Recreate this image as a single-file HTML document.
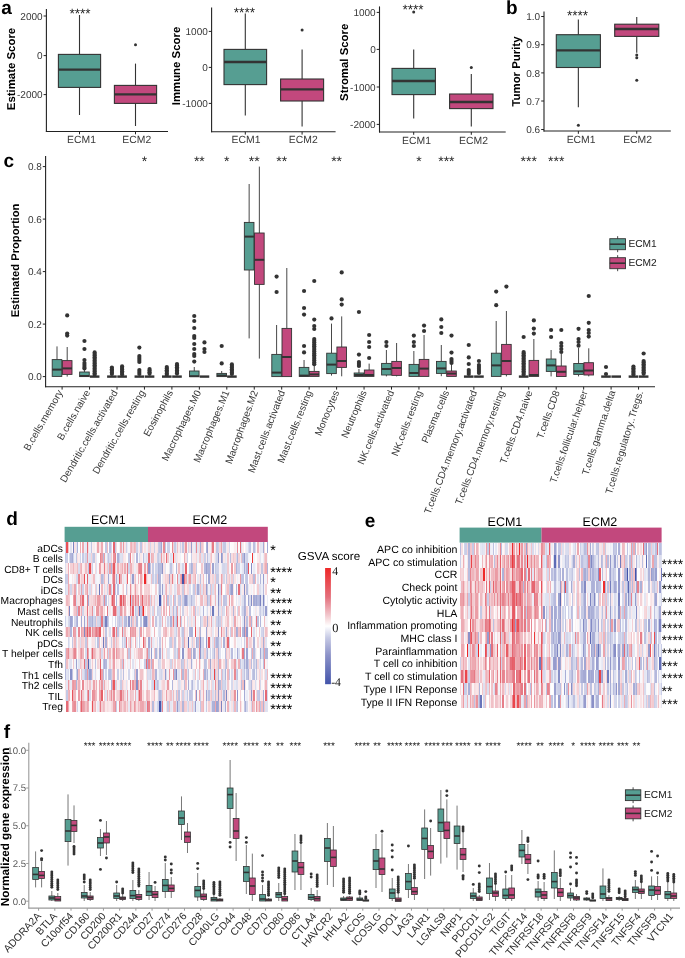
<!DOCTYPE html>
<html><head><meta charset="utf-8"><title>Figure</title>
<style>
html,body{margin:0;padding:0;background:#fff;}
body{width:685px;height:958px;overflow:hidden;font-family:"Liberation Sans", sans-serif;}
svg{display:block;position:absolute;left:0;top:0;will-change:transform;}
.hm div{position:absolute;}
</style></head><body>
<svg width="685" height="958" viewBox="0 0 685 958" text-rendering="geometricPrecision">
<rect x="0" y="0" width="685" height="958" fill="#FFFFFF"/>
<text x="1.2" y="13.8" font-size="19" text-anchor="start" fill="#000" font-weight="bold" font-family='"Liberation Sans", sans-serif'>a</text>
<text x="506" y="14" font-size="19" text-anchor="start" fill="#000" font-weight="bold" font-family='"Liberation Sans", sans-serif'>b</text>
<text x="3.6" y="167" font-size="19" text-anchor="start" fill="#000" font-weight="bold" font-family='"Liberation Sans", sans-serif'>c</text>
<text x="6.2" y="525.3" font-size="19" text-anchor="start" fill="#000" font-weight="bold" font-family='"Liberation Sans", sans-serif'>d</text>
<text x="364.8" y="526.5" font-size="19" text-anchor="start" fill="#000" font-weight="bold" font-family='"Liberation Sans", sans-serif'>e</text>
<text x="3.8" y="738" font-size="19" text-anchor="start" fill="#000" font-weight="bold" font-family='"Liberation Sans", sans-serif'>f</text>
<line x1="46.4" y1="9" x2="46.4" y2="132" stroke="#222" stroke-width="1.1"/>
<line x1="45.9" y1="131.5" x2="168" y2="131.5" stroke="#222" stroke-width="1.1"/>
<line x1="43.6" y1="16" x2="46.4" y2="16" stroke="#222" stroke-width="1"/>
<text x="42.6" y="19.6" font-size="10" text-anchor="end" fill="#383838" font-weight="normal" font-family='"Liberation Sans", sans-serif'>2000</text>
<line x1="43.6" y1="55.6" x2="46.4" y2="55.6" stroke="#222" stroke-width="1"/>
<text x="42.6" y="59.2" font-size="10" text-anchor="end" fill="#383838" font-weight="normal" font-family='"Liberation Sans", sans-serif'>0</text>
<line x1="43.6" y1="94.6" x2="46.4" y2="94.6" stroke="#222" stroke-width="1"/>
<text x="42.6" y="98.2" font-size="10" text-anchor="end" fill="#383838" font-weight="normal" font-family='"Liberation Sans", sans-serif'>-2000</text>
<text x="15.4" y="69" font-size="11.4" text-anchor="middle" fill="#000" font-weight="bold" font-family='"Liberation Sans", sans-serif' transform="rotate(-90 15.4 69)">Estimate Score</text>
<line x1="79.5" y1="15" x2="79.5" y2="54.4" stroke="#333333" stroke-width="1.1"/>
<line x1="79.5" y1="87.4" x2="79.5" y2="115" stroke="#333333" stroke-width="1.1"/>
<rect x="58.4" y="54.4" width="42.2" height="33" fill="#569E92" stroke="#333333" stroke-width="1.1"/>
<line x1="58.4" y1="69.6" x2="100.6" y2="69.6" stroke="#333333" stroke-width="2.4"/>
<line x1="79.5" y1="131.5" x2="79.5" y2="134.3" stroke="#222" stroke-width="1"/>
<line x1="135.5" y1="63.6" x2="135.5" y2="85.4" stroke="#333333" stroke-width="1.1"/>
<line x1="135.5" y1="103.4" x2="135.5" y2="126" stroke="#333333" stroke-width="1.1"/>
<rect x="114.4" y="85.4" width="42.2" height="18" fill="#C2487D" stroke="#333333" stroke-width="1.1"/>
<line x1="114.4" y1="94.4" x2="156.6" y2="94.4" stroke="#333333" stroke-width="2.4"/>
<circle cx="135.5" cy="44.8" r="1.5" fill="#333333"/>
<line x1="135.5" y1="131.5" x2="135.5" y2="134.3" stroke="#222" stroke-width="1"/>
<text x="80" y="17.6" font-size="13.6" text-anchor="middle" fill="#222" font-weight="normal" font-family='"Liberation Sans", sans-serif'>****</text>
<text x="81.5" y="143.2" font-size="10.4" text-anchor="middle" fill="#383838" font-weight="normal" font-family='"Liberation Sans", sans-serif'>ECM1</text>
<text x="136.8" y="143.2" font-size="10.4" text-anchor="middle" fill="#383838" font-weight="normal" font-family='"Liberation Sans", sans-serif'>ECM2</text>
<line x1="211.6" y1="7.6" x2="211.6" y2="132.3" stroke="#222" stroke-width="1.1"/>
<line x1="211.1" y1="131.8" x2="335.6" y2="131.8" stroke="#222" stroke-width="1.1"/>
<line x1="208.8" y1="31.4" x2="211.6" y2="31.4" stroke="#222" stroke-width="1"/>
<text x="207.8" y="35" font-size="10" text-anchor="end" fill="#383838" font-weight="normal" font-family='"Liberation Sans", sans-serif'>1000</text>
<line x1="208.8" y1="67.4" x2="211.6" y2="67.4" stroke="#222" stroke-width="1"/>
<text x="207.8" y="71" font-size="10" text-anchor="end" fill="#383838" font-weight="normal" font-family='"Liberation Sans", sans-serif'>0</text>
<line x1="208.8" y1="103.4" x2="211.6" y2="103.4" stroke="#222" stroke-width="1"/>
<text x="207.8" y="107" font-size="10" text-anchor="end" fill="#383838" font-weight="normal" font-family='"Liberation Sans", sans-serif'>-1000</text>
<text x="179.6" y="66" font-size="11.4" text-anchor="middle" fill="#000" font-weight="bold" font-family='"Liberation Sans", sans-serif' transform="rotate(-90 179.6 66)">Immune Score</text>
<line x1="245.3" y1="13.6" x2="245.3" y2="49.4" stroke="#333333" stroke-width="1.1"/>
<line x1="245.3" y1="84.6" x2="245.3" y2="115.6" stroke="#333333" stroke-width="1.1"/>
<rect x="224" y="49.4" width="42.6" height="35.2" fill="#569E92" stroke="#333333" stroke-width="1.1"/>
<line x1="224" y1="62" x2="266.6" y2="62" stroke="#333333" stroke-width="2.4"/>
<line x1="245.3" y1="131.8" x2="245.3" y2="134.6" stroke="#222" stroke-width="1"/>
<line x1="302.1" y1="49.4" x2="302.1" y2="79" stroke="#333333" stroke-width="1.1"/>
<line x1="302.1" y1="101" x2="302.1" y2="126.4" stroke="#333333" stroke-width="1.1"/>
<rect x="280.6" y="79" width="43" height="22" fill="#C2487D" stroke="#333333" stroke-width="1.1"/>
<line x1="280.6" y1="89.4" x2="323.6" y2="89.4" stroke="#333333" stroke-width="2.4"/>
<circle cx="302.1" cy="30" r="1.5" fill="#333333"/>
<line x1="302.1" y1="131.8" x2="302.1" y2="134.6" stroke="#222" stroke-width="1"/>
<text x="244.4" y="16.6" font-size="13.6" text-anchor="middle" fill="#222" font-weight="normal" font-family='"Liberation Sans", sans-serif'>****</text>
<text x="246" y="143.2" font-size="10.4" text-anchor="middle" fill="#383838" font-weight="normal" font-family='"Liberation Sans", sans-serif'>ECM1</text>
<text x="303.3" y="143.2" font-size="10.4" text-anchor="middle" fill="#383838" font-weight="normal" font-family='"Liberation Sans", sans-serif'>ECM2</text>
<line x1="379.5" y1="6.4" x2="379.5" y2="132.5" stroke="#222" stroke-width="1.1"/>
<line x1="379" y1="132" x2="505.7" y2="132" stroke="#222" stroke-width="1.1"/>
<line x1="376.7" y1="12.4" x2="379.5" y2="12.4" stroke="#222" stroke-width="1"/>
<text x="375.7" y="16" font-size="10" text-anchor="end" fill="#383838" font-weight="normal" font-family='"Liberation Sans", sans-serif'>1000</text>
<line x1="376.7" y1="49.4" x2="379.5" y2="49.4" stroke="#222" stroke-width="1"/>
<text x="375.7" y="53" font-size="10" text-anchor="end" fill="#383838" font-weight="normal" font-family='"Liberation Sans", sans-serif'>0</text>
<line x1="376.7" y1="87" x2="379.5" y2="87" stroke="#222" stroke-width="1"/>
<text x="375.7" y="90.6" font-size="10" text-anchor="end" fill="#383838" font-weight="normal" font-family='"Liberation Sans", sans-serif'>-1000</text>
<line x1="376.7" y1="124.4" x2="379.5" y2="124.4" stroke="#222" stroke-width="1"/>
<text x="375.7" y="128" font-size="10" text-anchor="end" fill="#383838" font-weight="normal" font-family='"Liberation Sans", sans-serif'>-2000</text>
<text x="347.8" y="62.3" font-size="11.4" text-anchor="middle" fill="#000" font-weight="bold" font-family='"Liberation Sans", sans-serif' transform="rotate(-90 347.8 62.3)">Stromal Score</text>
<line x1="413.7" y1="49.6" x2="413.7" y2="68.4" stroke="#333333" stroke-width="1.1"/>
<line x1="413.7" y1="94.6" x2="413.7" y2="118.6" stroke="#333333" stroke-width="1.1"/>
<rect x="392" y="68.4" width="43.4" height="26.2" fill="#569E92" stroke="#333333" stroke-width="1.1"/>
<line x1="392" y1="81" x2="435.4" y2="81" stroke="#333333" stroke-width="2.4"/>
<circle cx="413.7" cy="12" r="1.5" fill="#333333"/>
<line x1="413.7" y1="132" x2="413.7" y2="134.8" stroke="#222" stroke-width="1"/>
<line x1="471.3" y1="74" x2="471.3" y2="94" stroke="#333333" stroke-width="1.1"/>
<line x1="471.3" y1="108.6" x2="471.3" y2="126.4" stroke="#333333" stroke-width="1.1"/>
<rect x="449.6" y="94" width="43.4" height="14.6" fill="#C2487D" stroke="#333333" stroke-width="1.1"/>
<line x1="449.6" y1="102" x2="493" y2="102" stroke="#333333" stroke-width="2.4"/>
<circle cx="471.3" cy="67.6" r="1.5" fill="#333333"/>
<line x1="471.3" y1="132" x2="471.3" y2="134.8" stroke="#222" stroke-width="1"/>
<text x="413" y="13.6" font-size="13.6" text-anchor="middle" fill="#222" font-weight="normal" font-family='"Liberation Sans", sans-serif'>****</text>
<text x="416.5" y="143.6" font-size="10.4" text-anchor="middle" fill="#383838" font-weight="normal" font-family='"Liberation Sans", sans-serif'>ECM1</text>
<text x="473.5" y="143.6" font-size="10.4" text-anchor="middle" fill="#383838" font-weight="normal" font-family='"Liberation Sans", sans-serif'>ECM2</text>
<line x1="544" y1="11.4" x2="544" y2="131.5" stroke="#222" stroke-width="1.1"/>
<line x1="543.5" y1="131" x2="670.8" y2="131" stroke="#222" stroke-width="1.1"/>
<line x1="541.2" y1="16.5" x2="544" y2="16.5" stroke="#222" stroke-width="1"/>
<text x="540.2" y="20.1" font-size="10" text-anchor="end" fill="#383838" font-weight="normal" font-family='"Liberation Sans", sans-serif'>1.0</text>
<line x1="541.2" y1="44.7" x2="544" y2="44.7" stroke="#222" stroke-width="1"/>
<text x="540.2" y="48.3" font-size="10" text-anchor="end" fill="#383838" font-weight="normal" font-family='"Liberation Sans", sans-serif'>0.9</text>
<line x1="541.2" y1="72.9" x2="544" y2="72.9" stroke="#222" stroke-width="1"/>
<text x="540.2" y="76.5" font-size="10" text-anchor="end" fill="#383838" font-weight="normal" font-family='"Liberation Sans", sans-serif'>0.8</text>
<line x1="541.2" y1="101" x2="544" y2="101" stroke="#222" stroke-width="1"/>
<text x="540.2" y="104.6" font-size="10" text-anchor="end" fill="#383838" font-weight="normal" font-family='"Liberation Sans", sans-serif'>0.7</text>
<line x1="541.2" y1="129.5" x2="544" y2="129.5" stroke="#222" stroke-width="1"/>
<text x="540.2" y="133.1" font-size="10" text-anchor="end" fill="#383838" font-weight="normal" font-family='"Liberation Sans", sans-serif'>0.6</text>
<text x="520" y="71.5" font-size="11.4" text-anchor="middle" fill="#000" font-weight="bold" font-family='"Liberation Sans", sans-serif' transform="rotate(-90 520 71.5)">Tumor Purity</text>
<line x1="578.35" y1="19.4" x2="578.35" y2="34.7" stroke="#333333" stroke-width="1.1"/>
<line x1="578.35" y1="67.5" x2="578.35" y2="107.3" stroke="#333333" stroke-width="1.1"/>
<rect x="556.3" y="34.7" width="44.1" height="32.8" fill="#569E92" stroke="#333333" stroke-width="1.1"/>
<line x1="556.3" y1="50.4" x2="600.4" y2="50.4" stroke="#333333" stroke-width="2.4"/>
<circle cx="578.35" cy="125.3" r="1.5" fill="#333333"/>
<line x1="578.35" y1="131" x2="578.35" y2="133.8" stroke="#222" stroke-width="1"/>
<line x1="636.75" y1="17.1" x2="636.75" y2="24.2" stroke="#333333" stroke-width="1.1"/>
<line x1="636.75" y1="36.4" x2="636.75" y2="52.7" stroke="#333333" stroke-width="1.1"/>
<rect x="614.7" y="24.2" width="44.1" height="12.2" fill="#C2487D" stroke="#333333" stroke-width="1.1"/>
<line x1="614.7" y1="29" x2="658.8" y2="29" stroke="#333333" stroke-width="2.4"/>
<circle cx="636.75" cy="55" r="1.5" fill="#333333"/>
<circle cx="636.75" cy="57.8" r="1.5" fill="#333333"/>
<circle cx="636.75" cy="80.3" r="1.5" fill="#333333"/>
<line x1="636.75" y1="131" x2="636.75" y2="133.8" stroke="#222" stroke-width="1"/>
<text x="577.5" y="19.9" font-size="13.6" text-anchor="middle" fill="#222" font-weight="normal" font-family='"Liberation Sans", sans-serif'>****</text>
<text x="581.1" y="143.4" font-size="10.4" text-anchor="middle" fill="#383838" font-weight="normal" font-family='"Liberation Sans", sans-serif'>ECM1</text>
<text x="637.6" y="143.4" font-size="10.4" text-anchor="middle" fill="#383838" font-weight="normal" font-family='"Liberation Sans", sans-serif'>ECM2</text>
<line x1="45.6" y1="156" x2="45.6" y2="387.3" stroke="#222" stroke-width="1.1"/>
<line x1="45.1" y1="386.8" x2="655" y2="386.8" stroke="#222" stroke-width="1.1"/>
<line x1="42.8" y1="376.6" x2="45.6" y2="376.6" stroke="#222" stroke-width="1"/>
<text x="41.8" y="380.2" font-size="10" text-anchor="end" fill="#383838" font-weight="normal" font-family='"Liberation Sans", sans-serif'>0.0</text>
<line x1="42.8" y1="324.1" x2="45.6" y2="324.1" stroke="#222" stroke-width="1"/>
<text x="41.8" y="327.7" font-size="10" text-anchor="end" fill="#383838" font-weight="normal" font-family='"Liberation Sans", sans-serif'>0.2</text>
<line x1="42.8" y1="271.6" x2="45.6" y2="271.6" stroke="#222" stroke-width="1"/>
<text x="41.8" y="275.2" font-size="10" text-anchor="end" fill="#383838" font-weight="normal" font-family='"Liberation Sans", sans-serif'>0.4</text>
<line x1="42.8" y1="219.1" x2="45.6" y2="219.1" stroke="#222" stroke-width="1"/>
<text x="41.8" y="222.7" font-size="10" text-anchor="end" fill="#383838" font-weight="normal" font-family='"Liberation Sans", sans-serif'>0.6</text>
<line x1="42.8" y1="166.6" x2="45.6" y2="166.6" stroke="#222" stroke-width="1"/>
<text x="41.8" y="170.2" font-size="10" text-anchor="end" fill="#383838" font-weight="normal" font-family='"Liberation Sans", sans-serif'>0.8</text>
<text x="18.8" y="260.5" font-size="11.2" text-anchor="middle" fill="#000" font-weight="bold" font-family='"Liberation Sans", sans-serif' transform="rotate(-90 18.8 260.5)">Estimated Proportion</text>
<line x1="57" y1="346.4" x2="57" y2="359.6" stroke="#333333" stroke-width="0.9"/>
<line x1="57" y1="376.4" x2="57" y2="376.6" stroke="#333333" stroke-width="0.9"/>
<rect x="52.2" y="359.6" width="9.6" height="16.8" fill="#569E92" stroke="#333333" stroke-width="0.9"/>
<line x1="52.2" y1="369.6" x2="61.8" y2="369.6" stroke="#333333" stroke-width="2"/>
<line x1="67.2" y1="347" x2="67.2" y2="360.6" stroke="#333333" stroke-width="0.9"/>
<line x1="67.2" y1="374.4" x2="67.2" y2="376.6" stroke="#333333" stroke-width="0.9"/>
<rect x="62.4" y="360.6" width="9.6" height="13.8" fill="#C2487D" stroke="#333333" stroke-width="0.9"/>
<line x1="62.4" y1="368.4" x2="72" y2="368.4" stroke="#333333" stroke-width="2"/>
<circle cx="67.2" cy="315.4" r="2.1" fill="#333333"/>
<circle cx="67.2" cy="333.6" r="2.1" fill="#333333"/>
<circle cx="67.2" cy="335.6" r="2.1" fill="#333333"/>
<line x1="62.1" y1="386.8" x2="62.1" y2="389.6" stroke="#222" stroke-width="1"/>
<text x="63.1" y="392.4" font-size="10" text-anchor="end" fill="#383838" font-weight="normal" font-family='"Liberation Sans", sans-serif' transform="rotate(-60 63.1 392.4)">B.cells.memory</text>
<line x1="84.45" y1="370" x2="84.45" y2="372" stroke="#333333" stroke-width="0.9"/>
<rect x="79.65" y="372" width="9.6" height="4.6" fill="#569E92" stroke="#333333" stroke-width="0.9"/>
<line x1="79.65" y1="376" x2="89.25" y2="376" stroke="#333333" stroke-width="2"/>
<circle cx="84.45" cy="341" r="2.1" fill="#333333"/>
<circle cx="84.45" cy="349" r="2.1" fill="#333333"/>
<circle cx="84.45" cy="360" r="2.1" fill="#333333"/>
<circle cx="84.45" cy="363" r="2.1" fill="#333333"/>
<circle cx="84.45" cy="365" r="2.1" fill="#333333"/>
<circle cx="84.45" cy="367" r="2.1" fill="#333333"/>
<circle cx="84.45" cy="368.5" r="2.1" fill="#333333"/>
<rect x="89.85" y="375.4" width="9.6" height="2.4" fill="#333333"/>
<circle cx="94.65" cy="352.4" r="2.1" fill="#333333"/>
<circle cx="94.65" cy="354" r="2.1" fill="#333333"/>
<circle cx="94.65" cy="355.6" r="2.1" fill="#333333"/>
<circle cx="94.65" cy="357.2" r="2.1" fill="#333333"/>
<circle cx="94.65" cy="358.8" r="2.1" fill="#333333"/>
<circle cx="94.65" cy="360.4" r="2.1" fill="#333333"/>
<circle cx="94.65" cy="362" r="2.1" fill="#333333"/>
<circle cx="94.65" cy="363.6" r="2.1" fill="#333333"/>
<circle cx="94.65" cy="365.2" r="2.1" fill="#333333"/>
<circle cx="94.65" cy="366.8" r="2.1" fill="#333333"/>
<circle cx="94.65" cy="368.4" r="2.1" fill="#333333"/>
<circle cx="94.65" cy="370" r="2.1" fill="#333333"/>
<circle cx="94.65" cy="371.6" r="2.1" fill="#333333"/>
<circle cx="94.65" cy="373.2" r="2.1" fill="#333333"/>
<circle cx="94.65" cy="374.8" r="2.1" fill="#333333"/>
<line x1="89.55" y1="386.8" x2="89.55" y2="389.6" stroke="#222" stroke-width="1"/>
<text x="90.55" y="392.4" font-size="10" text-anchor="end" fill="#383838" font-weight="normal" font-family='"Liberation Sans", sans-serif' transform="rotate(-60 90.55 392.4)">B.cells.naive</text>
<rect x="107.1" y="375.4" width="9.6" height="2.4" fill="#333333"/>
<circle cx="111.9" cy="367.6" r="2.1" fill="#333333"/>
<circle cx="111.9" cy="369.2" r="2.1" fill="#333333"/>
<circle cx="111.9" cy="370.8" r="2.1" fill="#333333"/>
<circle cx="111.9" cy="372.4" r="2.1" fill="#333333"/>
<circle cx="111.9" cy="374" r="2.1" fill="#333333"/>
<rect x="117.3" y="375.4" width="9.6" height="2.4" fill="#333333"/>
<circle cx="122.1" cy="366.4" r="2.1" fill="#333333"/>
<circle cx="122.1" cy="368" r="2.1" fill="#333333"/>
<circle cx="122.1" cy="369.6" r="2.1" fill="#333333"/>
<circle cx="122.1" cy="371.2" r="2.1" fill="#333333"/>
<circle cx="122.1" cy="372.8" r="2.1" fill="#333333"/>
<circle cx="122.1" cy="374.4" r="2.1" fill="#333333"/>
<line x1="117" y1="386.8" x2="117" y2="389.6" stroke="#222" stroke-width="1"/>
<text x="118" y="392.4" font-size="10" text-anchor="end" fill="#383838" font-weight="normal" font-family='"Liberation Sans", sans-serif' transform="rotate(-60 118 392.4)">Dendritic.cells.activated</text>
<rect x="134.55" y="375.4" width="9.6" height="2.4" fill="#333333"/>
<circle cx="139.35" cy="347.6" r="2.1" fill="#333333"/>
<circle cx="139.35" cy="356" r="2.1" fill="#333333"/>
<circle cx="139.35" cy="358" r="2.1" fill="#333333"/>
<circle cx="139.35" cy="360" r="2.1" fill="#333333"/>
<circle cx="139.35" cy="362" r="2.1" fill="#333333"/>
<circle cx="139.35" cy="370" r="2.1" fill="#333333"/>
<circle cx="139.35" cy="372" r="2.1" fill="#333333"/>
<circle cx="139.35" cy="374" r="2.1" fill="#333333"/>
<rect x="144.75" y="375.4" width="9.6" height="2.4" fill="#333333"/>
<circle cx="149.55" cy="369" r="2.1" fill="#333333"/>
<circle cx="149.55" cy="370.6" r="2.1" fill="#333333"/>
<circle cx="149.55" cy="372.2" r="2.1" fill="#333333"/>
<circle cx="149.55" cy="373.8" r="2.1" fill="#333333"/>
<line x1="144.45" y1="386.8" x2="144.45" y2="389.6" stroke="#222" stroke-width="1"/>
<text x="145.45" y="392.4" font-size="10" text-anchor="end" fill="#383838" font-weight="normal" font-family='"Liberation Sans", sans-serif' transform="rotate(-60 145.45 392.4)">Dendritic.cells.resting</text>
<rect x="162" y="375.4" width="9.6" height="2.4" fill="#333333"/>
<circle cx="166.8" cy="367" r="2.1" fill="#333333"/>
<circle cx="166.8" cy="368.6" r="2.1" fill="#333333"/>
<circle cx="166.8" cy="370.2" r="2.1" fill="#333333"/>
<circle cx="166.8" cy="371.8" r="2.1" fill="#333333"/>
<circle cx="166.8" cy="373.4" r="2.1" fill="#333333"/>
<circle cx="166.8" cy="375" r="2.1" fill="#333333"/>
<rect x="172.2" y="375.4" width="9.6" height="2.4" fill="#333333"/>
<circle cx="177" cy="364" r="2.1" fill="#333333"/>
<circle cx="177" cy="365.6" r="2.1" fill="#333333"/>
<circle cx="177" cy="367.2" r="2.1" fill="#333333"/>
<circle cx="177" cy="368.8" r="2.1" fill="#333333"/>
<circle cx="177" cy="370.4" r="2.1" fill="#333333"/>
<circle cx="177" cy="372" r="2.1" fill="#333333"/>
<circle cx="177" cy="373.6" r="2.1" fill="#333333"/>
<line x1="171.9" y1="386.8" x2="171.9" y2="389.6" stroke="#222" stroke-width="1"/>
<text x="173.32" y="392.33" font-size="10" text-anchor="end" fill="#383838" font-weight="normal" font-family='"Liberation Sans", sans-serif' transform="rotate(-61.5 173.32 392.33)">Eosinophils</text>
<line x1="194.25" y1="367" x2="194.25" y2="371" stroke="#333333" stroke-width="0.9"/>
<rect x="189.45" y="371" width="9.6" height="5.6" fill="#569E92" stroke="#333333" stroke-width="0.9"/>
<line x1="189.45" y1="376.2" x2="199.05" y2="376.2" stroke="#333333" stroke-width="2"/>
<circle cx="194.25" cy="316" r="2.1" fill="#333333"/>
<circle cx="194.25" cy="321" r="2.1" fill="#333333"/>
<circle cx="194.25" cy="328" r="2.1" fill="#333333"/>
<circle cx="194.25" cy="336" r="2.1" fill="#333333"/>
<circle cx="194.25" cy="338" r="2.1" fill="#333333"/>
<circle cx="194.25" cy="344" r="2.1" fill="#333333"/>
<circle cx="194.25" cy="349" r="2.1" fill="#333333"/>
<circle cx="194.25" cy="354" r="2.1" fill="#333333"/>
<circle cx="194.25" cy="356" r="2.1" fill="#333333"/>
<circle cx="194.25" cy="361.6" r="2.1" fill="#333333"/>
<rect x="199.65" y="375.4" width="9.6" height="2.4" fill="#333333"/>
<circle cx="204.45" cy="342.4" r="2.1" fill="#333333"/>
<circle cx="204.45" cy="349" r="2.1" fill="#333333"/>
<circle cx="204.45" cy="352" r="2.1" fill="#333333"/>
<line x1="199.35" y1="386.8" x2="199.35" y2="389.6" stroke="#222" stroke-width="1"/>
<text x="201.47" y="392.2" font-size="10" text-anchor="end" fill="#383838" font-weight="normal" font-family='"Liberation Sans", sans-serif' transform="rotate(-64 201.47 392.2)">Macrophages.M0</text>
<line x1="221.7" y1="371" x2="221.7" y2="373.4" stroke="#333333" stroke-width="0.9"/>
<rect x="216.9" y="373.4" width="9.6" height="3.2" fill="#569E92" stroke="#333333" stroke-width="0.9"/>
<line x1="216.9" y1="375.5" x2="226.5" y2="375.5" stroke="#333333" stroke-width="2"/>
<circle cx="221.7" cy="346" r="2.1" fill="#333333"/>
<circle cx="221.7" cy="363.4" r="2.1" fill="#333333"/>
<rect x="227.1" y="375.4" width="9.6" height="2.4" fill="#333333"/>
<circle cx="231.9" cy="364.4" r="2.1" fill="#333333"/>
<circle cx="231.9" cy="366" r="2.1" fill="#333333"/>
<circle cx="231.9" cy="367.6" r="2.1" fill="#333333"/>
<circle cx="231.9" cy="369.2" r="2.1" fill="#333333"/>
<circle cx="231.9" cy="370.8" r="2.1" fill="#333333"/>
<circle cx="231.9" cy="372.4" r="2.1" fill="#333333"/>
<circle cx="231.9" cy="374" r="2.1" fill="#333333"/>
<line x1="226.8" y1="386.8" x2="226.8" y2="389.6" stroke="#222" stroke-width="1"/>
<text x="229.76" y="392.05" font-size="10" text-anchor="end" fill="#383838" font-weight="normal" font-family='"Liberation Sans", sans-serif' transform="rotate(-67 229.76 392.05)">Macrophages.M1</text>
<line x1="249.15" y1="184" x2="249.15" y2="222.4" stroke="#333333" stroke-width="0.9"/>
<line x1="249.15" y1="270" x2="249.15" y2="338.4" stroke="#333333" stroke-width="0.9"/>
<rect x="244.35" y="222.4" width="9.6" height="47.6" fill="#569E92" stroke="#333333" stroke-width="0.9"/>
<line x1="244.35" y1="236.6" x2="253.95" y2="236.6" stroke="#333333" stroke-width="2"/>
<line x1="259.35" y1="166.6" x2="259.35" y2="233" stroke="#333333" stroke-width="0.9"/>
<line x1="259.35" y1="284.4" x2="259.35" y2="358.6" stroke="#333333" stroke-width="0.9"/>
<rect x="254.55" y="233" width="9.6" height="51.4" fill="#C2487D" stroke="#333333" stroke-width="0.9"/>
<line x1="254.55" y1="259.8" x2="264.15" y2="259.8" stroke="#333333" stroke-width="2"/>
<line x1="254.25" y1="386.8" x2="254.25" y2="389.6" stroke="#222" stroke-width="1"/>
<text x="258.05" y="391.9" font-size="10" text-anchor="end" fill="#383838" font-weight="normal" font-family='"Liberation Sans", sans-serif' transform="rotate(-70 258.05 391.9)">Macrophages.M2</text>
<line x1="276.6" y1="325" x2="276.6" y2="354.4" stroke="#333333" stroke-width="0.9"/>
<rect x="271.8" y="354.4" width="9.6" height="22.2" fill="#569E92" stroke="#333333" stroke-width="0.9"/>
<line x1="271.8" y1="372.6" x2="281.4" y2="372.6" stroke="#333333" stroke-width="2"/>
<circle cx="276.6" cy="276.6" r="2.1" fill="#333333"/>
<circle cx="276.6" cy="292" r="2.1" fill="#333333"/>
<line x1="286.8" y1="268" x2="286.8" y2="328.4" stroke="#333333" stroke-width="0.9"/>
<rect x="282" y="328.4" width="9.6" height="48.2" fill="#C2487D" stroke="#333333" stroke-width="0.9"/>
<line x1="282" y1="357" x2="291.6" y2="357" stroke="#333333" stroke-width="2"/>
<line x1="281.7" y1="386.8" x2="281.7" y2="389.6" stroke="#222" stroke-width="1"/>
<text x="285.22" y="391.95" font-size="10" text-anchor="end" fill="#383838" font-weight="normal" font-family='"Liberation Sans", sans-serif' transform="rotate(-69 285.22 391.95)">Mast.cells.activated</text>
<line x1="304.05" y1="360" x2="304.05" y2="367.4" stroke="#333333" stroke-width="0.9"/>
<rect x="299.25" y="367.4" width="9.6" height="9" fill="#569E92" stroke="#333333" stroke-width="0.9"/>
<line x1="299.25" y1="375.6" x2="308.85" y2="375.6" stroke="#333333" stroke-width="2"/>
<circle cx="304.05" cy="291" r="2.1" fill="#333333"/>
<circle cx="304.05" cy="308" r="2.1" fill="#333333"/>
<circle cx="304.05" cy="314.6" r="2.1" fill="#333333"/>
<circle cx="304.05" cy="346" r="2.1" fill="#333333"/>
<circle cx="304.05" cy="352.4" r="2.1" fill="#333333"/>
<line x1="314.25" y1="366" x2="314.25" y2="371.4" stroke="#333333" stroke-width="0.9"/>
<rect x="309.45" y="371.4" width="9.6" height="5" fill="#C2487D" stroke="#333333" stroke-width="0.9"/>
<line x1="309.45" y1="374.4" x2="319.05" y2="374.4" stroke="#333333" stroke-width="2"/>
<circle cx="314.25" cy="281" r="2.1" fill="#333333"/>
<circle cx="314.25" cy="319.6" r="2.1" fill="#333333"/>
<circle cx="314.25" cy="326" r="2.1" fill="#333333"/>
<circle cx="314.25" cy="329" r="2.1" fill="#333333"/>
<circle cx="314.25" cy="339" r="2.1" fill="#333333"/>
<circle cx="314.25" cy="340.8" r="2.1" fill="#333333"/>
<circle cx="314.25" cy="342.6" r="2.1" fill="#333333"/>
<circle cx="314.25" cy="344.4" r="2.1" fill="#333333"/>
<circle cx="314.25" cy="346.2" r="2.1" fill="#333333"/>
<circle cx="314.25" cy="348" r="2.1" fill="#333333"/>
<circle cx="314.25" cy="349.8" r="2.1" fill="#333333"/>
<circle cx="314.25" cy="351.6" r="2.1" fill="#333333"/>
<circle cx="314.25" cy="353.4" r="2.1" fill="#333333"/>
<circle cx="314.25" cy="355.2" r="2.1" fill="#333333"/>
<circle cx="314.25" cy="357" r="2.1" fill="#333333"/>
<circle cx="314.25" cy="358.8" r="2.1" fill="#333333"/>
<circle cx="314.25" cy="360.6" r="2.1" fill="#333333"/>
<circle cx="314.25" cy="362.4" r="2.1" fill="#333333"/>
<circle cx="314.25" cy="364.2" r="2.1" fill="#333333"/>
<line x1="309.15" y1="386.8" x2="309.15" y2="389.6" stroke="#222" stroke-width="1"/>
<text x="312.39" y="392" font-size="10" text-anchor="end" fill="#383838" font-weight="normal" font-family='"Liberation Sans", sans-serif' transform="rotate(-68 312.39 392)">Mast.cells.resting</text>
<line x1="331.5" y1="323.6" x2="331.5" y2="353.2" stroke="#333333" stroke-width="0.9"/>
<line x1="331.5" y1="373.6" x2="331.5" y2="375.6" stroke="#333333" stroke-width="0.9"/>
<rect x="326.7" y="353.2" width="9.6" height="20.4" fill="#569E92" stroke="#333333" stroke-width="0.9"/>
<line x1="326.7" y1="364.6" x2="336.3" y2="364.6" stroke="#333333" stroke-width="2"/>
<circle cx="331.5" cy="318.4" r="2.1" fill="#333333"/>
<line x1="341.7" y1="316.4" x2="341.7" y2="347" stroke="#333333" stroke-width="0.9"/>
<line x1="341.7" y1="367.4" x2="341.7" y2="376.3" stroke="#333333" stroke-width="0.9"/>
<rect x="336.9" y="347" width="9.6" height="20.4" fill="#C2487D" stroke="#333333" stroke-width="0.9"/>
<line x1="336.9" y1="361" x2="346.5" y2="361" stroke="#333333" stroke-width="2"/>
<circle cx="341.7" cy="272.4" r="2.1" fill="#333333"/>
<circle cx="341.7" cy="299.4" r="2.1" fill="#333333"/>
<circle cx="341.7" cy="304.6" r="2.1" fill="#333333"/>
<line x1="336.6" y1="386.8" x2="336.6" y2="389.6" stroke="#222" stroke-width="1"/>
<text x="339.56" y="392.05" font-size="10" text-anchor="end" fill="#383838" font-weight="normal" font-family='"Liberation Sans", sans-serif' transform="rotate(-67 339.56 392.05)">Monocytes</text>
<line x1="358.95" y1="369" x2="358.95" y2="373" stroke="#333333" stroke-width="0.9"/>
<rect x="354.15" y="373" width="9.6" height="3.4" fill="#569E92" stroke="#333333" stroke-width="0.9"/>
<line x1="354.15" y1="375" x2="363.75" y2="375" stroke="#333333" stroke-width="2"/>
<circle cx="358.95" cy="312" r="2.1" fill="#333333"/>
<circle cx="358.95" cy="354.6" r="2.1" fill="#333333"/>
<circle cx="358.95" cy="362" r="2.1" fill="#333333"/>
<circle cx="358.95" cy="364" r="2.1" fill="#333333"/>
<circle cx="358.95" cy="366" r="2.1" fill="#333333"/>
<line x1="369.15" y1="363.6" x2="369.15" y2="370" stroke="#333333" stroke-width="0.9"/>
<rect x="364.35" y="370" width="9.6" height="6.4" fill="#C2487D" stroke="#333333" stroke-width="0.9"/>
<line x1="364.35" y1="375" x2="373.95" y2="375" stroke="#333333" stroke-width="2"/>
<circle cx="369.15" cy="335" r="2.1" fill="#333333"/>
<circle cx="369.15" cy="342" r="2.1" fill="#333333"/>
<circle cx="369.15" cy="347" r="2.1" fill="#333333"/>
<circle cx="369.15" cy="358" r="2.1" fill="#333333"/>
<line x1="364.05" y1="386.8" x2="364.05" y2="389.6" stroke="#222" stroke-width="1"/>
<text x="367.01" y="392.05" font-size="10" text-anchor="end" fill="#383838" font-weight="normal" font-family='"Liberation Sans", sans-serif' transform="rotate(-67 367.01 392.05)">Neutrophils</text>
<line x1="386.4" y1="350" x2="386.4" y2="363.4" stroke="#333333" stroke-width="0.9"/>
<line x1="386.4" y1="375" x2="386.4" y2="376.4" stroke="#333333" stroke-width="0.9"/>
<rect x="381.6" y="363.4" width="9.6" height="11.6" fill="#569E92" stroke="#333333" stroke-width="0.9"/>
<line x1="381.6" y1="369" x2="391.2" y2="369" stroke="#333333" stroke-width="2"/>
<circle cx="386.4" cy="342" r="2.1" fill="#333333"/>
<circle cx="386.4" cy="346" r="2.1" fill="#333333"/>
<line x1="396.6" y1="343" x2="396.6" y2="361.4" stroke="#333333" stroke-width="0.9"/>
<line x1="396.6" y1="375.4" x2="396.6" y2="376.4" stroke="#333333" stroke-width="0.9"/>
<rect x="391.8" y="361.4" width="9.6" height="14" fill="#C2487D" stroke="#333333" stroke-width="0.9"/>
<line x1="391.8" y1="368" x2="401.4" y2="368" stroke="#333333" stroke-width="2"/>
<line x1="391.5" y1="386.8" x2="391.5" y2="389.6" stroke="#222" stroke-width="1"/>
<text x="394.46" y="392.05" font-size="10" text-anchor="end" fill="#383838" font-weight="normal" font-family='"Liberation Sans", sans-serif' transform="rotate(-67 394.46 392.05)">NK.cells.activated</text>
<line x1="413.85" y1="351" x2="413.85" y2="364.4" stroke="#333333" stroke-width="0.9"/>
<rect x="409.05" y="364.4" width="9.6" height="12" fill="#569E92" stroke="#333333" stroke-width="0.9"/>
<line x1="409.05" y1="373" x2="418.65" y2="373" stroke="#333333" stroke-width="2"/>
<circle cx="413.85" cy="335.6" r="2.1" fill="#333333"/>
<circle cx="413.85" cy="342" r="2.1" fill="#333333"/>
<circle cx="413.85" cy="346" r="2.1" fill="#333333"/>
<line x1="424.05" y1="335" x2="424.05" y2="359.4" stroke="#333333" stroke-width="0.9"/>
<rect x="419.25" y="359.4" width="9.6" height="17" fill="#C2487D" stroke="#333333" stroke-width="0.9"/>
<line x1="419.25" y1="368.6" x2="428.85" y2="368.6" stroke="#333333" stroke-width="2"/>
<circle cx="424.05" cy="325.6" r="2.1" fill="#333333"/>
<circle cx="424.05" cy="331" r="2.1" fill="#333333"/>
<line x1="418.95" y1="386.8" x2="418.95" y2="389.6" stroke="#222" stroke-width="1"/>
<text x="422.47" y="391.95" font-size="10" text-anchor="end" fill="#383838" font-weight="normal" font-family='"Liberation Sans", sans-serif' transform="rotate(-69 422.47 391.95)">NK.cells.resting</text>
<line x1="441.3" y1="345" x2="441.3" y2="361.4" stroke="#333333" stroke-width="0.9"/>
<line x1="441.3" y1="373.4" x2="441.3" y2="376.2" stroke="#333333" stroke-width="0.9"/>
<rect x="436.5" y="361.4" width="9.6" height="12" fill="#569E92" stroke="#333333" stroke-width="0.9"/>
<line x1="436.5" y1="368.4" x2="446.1" y2="368.4" stroke="#333333" stroke-width="2"/>
<circle cx="441.3" cy="319.4" r="2.1" fill="#333333"/>
<circle cx="441.3" cy="327" r="2.1" fill="#333333"/>
<circle cx="441.3" cy="333" r="2.1" fill="#333333"/>
<line x1="451.5" y1="364" x2="451.5" y2="371" stroke="#333333" stroke-width="0.9"/>
<rect x="446.7" y="371" width="9.6" height="5.4" fill="#C2487D" stroke="#333333" stroke-width="0.9"/>
<line x1="446.7" y1="373.6" x2="456.3" y2="373.6" stroke="#333333" stroke-width="2"/>
<circle cx="451.5" cy="335.6" r="2.1" fill="#333333"/>
<circle cx="451.5" cy="352.6" r="2.1" fill="#333333"/>
<circle cx="451.5" cy="359" r="2.1" fill="#333333"/>
<circle cx="451.5" cy="361" r="2.1" fill="#333333"/>
<circle cx="451.5" cy="363" r="2.1" fill="#333333"/>
<line x1="446.4" y1="386.8" x2="446.4" y2="389.6" stroke="#222" stroke-width="1"/>
<text x="449.36" y="392.05" font-size="10" text-anchor="end" fill="#383838" font-weight="normal" font-family='"Liberation Sans", sans-serif' transform="rotate(-67 449.36 392.05)">Plasma.cells</text>
<rect x="463.95" y="375.4" width="9.6" height="2.4" fill="#333333"/>
<circle cx="468.75" cy="345" r="2.1" fill="#333333"/>
<circle cx="468.75" cy="357.4" r="2.1" fill="#333333"/>
<circle cx="468.75" cy="364" r="2.1" fill="#333333"/>
<circle cx="468.75" cy="370" r="2.1" fill="#333333"/>
<circle cx="468.75" cy="372" r="2.1" fill="#333333"/>
<circle cx="468.75" cy="374" r="2.1" fill="#333333"/>
<rect x="474.15" y="375.4" width="9.6" height="2.4" fill="#333333"/>
<circle cx="478.95" cy="361" r="2.1" fill="#333333"/>
<circle cx="478.95" cy="365" r="2.1" fill="#333333"/>
<circle cx="478.95" cy="367" r="2.1" fill="#333333"/>
<circle cx="478.95" cy="369" r="2.1" fill="#333333"/>
<circle cx="478.95" cy="371" r="2.1" fill="#333333"/>
<circle cx="478.95" cy="373" r="2.1" fill="#333333"/>
<line x1="473.85" y1="386.8" x2="473.85" y2="389.6" stroke="#222" stroke-width="1"/>
<text x="477.37" y="391.95" font-size="10" text-anchor="end" fill="#383838" font-weight="normal" font-family='"Liberation Sans", sans-serif' transform="rotate(-69 477.37 391.95)">T.cells.CD4.memory.activated</text>
<line x1="496.2" y1="321" x2="496.2" y2="353.2" stroke="#333333" stroke-width="0.9"/>
<rect x="491.4" y="353.2" width="9.6" height="23.2" fill="#569E92" stroke="#333333" stroke-width="0.9"/>
<line x1="491.4" y1="365.4" x2="501" y2="365.4" stroke="#333333" stroke-width="2"/>
<circle cx="496.2" cy="291.6" r="2.1" fill="#333333"/>
<circle cx="496.2" cy="305.2" r="2.1" fill="#333333"/>
<line x1="506.4" y1="311" x2="506.4" y2="344.4" stroke="#333333" stroke-width="0.9"/>
<line x1="506.4" y1="374.6" x2="506.4" y2="376.4" stroke="#333333" stroke-width="0.9"/>
<rect x="501.6" y="344.4" width="9.6" height="30.2" fill="#C2487D" stroke="#333333" stroke-width="0.9"/>
<line x1="501.6" y1="361" x2="511.2" y2="361" stroke="#333333" stroke-width="2"/>
<circle cx="506.4" cy="286.6" r="2.1" fill="#333333"/>
<line x1="501.3" y1="386.8" x2="501.3" y2="389.6" stroke="#222" stroke-width="1"/>
<text x="504.82" y="391.95" font-size="10" text-anchor="end" fill="#383838" font-weight="normal" font-family='"Liberation Sans", sans-serif' transform="rotate(-69 504.82 391.95)">T.cells.CD4.memory.resting</text>
<rect x="518.85" y="375.4" width="9.6" height="2.4" fill="#333333"/>
<circle cx="523.65" cy="337" r="2.1" fill="#333333"/>
<circle cx="523.65" cy="352" r="2.1" fill="#333333"/>
<circle cx="523.65" cy="353.6" r="2.1" fill="#333333"/>
<circle cx="523.65" cy="355.2" r="2.1" fill="#333333"/>
<circle cx="523.65" cy="356.8" r="2.1" fill="#333333"/>
<circle cx="523.65" cy="358.4" r="2.1" fill="#333333"/>
<circle cx="523.65" cy="360" r="2.1" fill="#333333"/>
<circle cx="523.65" cy="361.6" r="2.1" fill="#333333"/>
<circle cx="523.65" cy="363.2" r="2.1" fill="#333333"/>
<circle cx="523.65" cy="364.8" r="2.1" fill="#333333"/>
<circle cx="523.65" cy="366.4" r="2.1" fill="#333333"/>
<circle cx="523.65" cy="368" r="2.1" fill="#333333"/>
<circle cx="523.65" cy="369.6" r="2.1" fill="#333333"/>
<circle cx="523.65" cy="371.2" r="2.1" fill="#333333"/>
<circle cx="523.65" cy="372.8" r="2.1" fill="#333333"/>
<circle cx="523.65" cy="374.4" r="2.1" fill="#333333"/>
<line x1="533.85" y1="339" x2="533.85" y2="360.4" stroke="#333333" stroke-width="0.9"/>
<rect x="529.05" y="360.4" width="9.6" height="16" fill="#C2487D" stroke="#333333" stroke-width="0.9"/>
<line x1="529.05" y1="375" x2="538.65" y2="375" stroke="#333333" stroke-width="2"/>
<circle cx="533.85" cy="320.4" r="2.1" fill="#333333"/>
<circle cx="533.85" cy="328.6" r="2.1" fill="#333333"/>
<circle cx="533.85" cy="333.6" r="2.1" fill="#333333"/>
<line x1="528.75" y1="386.8" x2="528.75" y2="389.6" stroke="#222" stroke-width="1"/>
<text x="532.55" y="391.9" font-size="10" text-anchor="end" fill="#383838" font-weight="normal" font-family='"Liberation Sans", sans-serif' transform="rotate(-70 532.55 391.9)">T.cells.CD4.naive</text>
<line x1="551.1" y1="350" x2="551.1" y2="359" stroke="#333333" stroke-width="0.9"/>
<line x1="551.1" y1="371.4" x2="551.1" y2="376.4" stroke="#333333" stroke-width="0.9"/>
<rect x="546.3" y="359" width="9.6" height="12.4" fill="#569E92" stroke="#333333" stroke-width="0.9"/>
<line x1="546.3" y1="365.4" x2="555.9" y2="365.4" stroke="#333333" stroke-width="2"/>
<circle cx="551.1" cy="330" r="2.1" fill="#333333"/>
<circle cx="551.1" cy="337" r="2.1" fill="#333333"/>
<line x1="561.3" y1="354" x2="561.3" y2="366" stroke="#333333" stroke-width="0.9"/>
<rect x="556.5" y="366" width="9.6" height="10.5" fill="#C2487D" stroke="#333333" stroke-width="0.9"/>
<line x1="556.5" y1="371.8" x2="566.1" y2="371.8" stroke="#333333" stroke-width="2"/>
<circle cx="561.3" cy="330" r="2.1" fill="#333333"/>
<circle cx="561.3" cy="343" r="2.1" fill="#333333"/>
<circle cx="561.3" cy="346" r="2.1" fill="#333333"/>
<circle cx="561.3" cy="349" r="2.1" fill="#333333"/>
<circle cx="561.3" cy="352" r="2.1" fill="#333333"/>
<line x1="556.2" y1="386.8" x2="556.2" y2="389.6" stroke="#222" stroke-width="1"/>
<text x="560" y="391.9" font-size="10" text-anchor="end" fill="#383838" font-weight="normal" font-family='"Liberation Sans", sans-serif' transform="rotate(-70 560 391.9)">T.cells.CD8</text>
<line x1="578.55" y1="348" x2="578.55" y2="363.5" stroke="#333333" stroke-width="0.9"/>
<line x1="578.55" y1="374.4" x2="578.55" y2="376.4" stroke="#333333" stroke-width="0.9"/>
<rect x="573.75" y="363.5" width="9.6" height="10.9" fill="#569E92" stroke="#333333" stroke-width="0.9"/>
<line x1="573.75" y1="371.3" x2="583.35" y2="371.3" stroke="#333333" stroke-width="2"/>
<circle cx="578.55" cy="328.8" r="2.1" fill="#333333"/>
<circle cx="578.55" cy="339" r="2.1" fill="#333333"/>
<circle cx="578.55" cy="342" r="2.1" fill="#333333"/>
<circle cx="578.55" cy="345.7" r="2.1" fill="#333333"/>
<line x1="588.75" y1="348.3" x2="588.75" y2="362.7" stroke="#333333" stroke-width="0.9"/>
<line x1="588.75" y1="375" x2="588.75" y2="376.4" stroke="#333333" stroke-width="0.9"/>
<rect x="583.95" y="362.7" width="9.6" height="12.3" fill="#C2487D" stroke="#333333" stroke-width="0.9"/>
<line x1="583.95" y1="370.5" x2="593.55" y2="370.5" stroke="#333333" stroke-width="2"/>
<circle cx="588.75" cy="296" r="2.1" fill="#333333"/>
<circle cx="588.75" cy="322.8" r="2.1" fill="#333333"/>
<circle cx="588.75" cy="330" r="2.1" fill="#333333"/>
<circle cx="588.75" cy="333" r="2.1" fill="#333333"/>
<circle cx="588.75" cy="336.6" r="2.1" fill="#333333"/>
<line x1="583.65" y1="386.8" x2="583.65" y2="389.6" stroke="#222" stroke-width="1"/>
<text x="587.73" y="391.85" font-size="10" text-anchor="end" fill="#383838" font-weight="normal" font-family='"Liberation Sans", sans-serif' transform="rotate(-71 587.73 391.85)">T.cells.follicular.helper</text>
<rect x="601.2" y="375.4" width="9.6" height="2.4" fill="#333333"/>
<circle cx="606" cy="367" r="2.1" fill="#333333"/>
<circle cx="606" cy="374" r="2.1" fill="#333333"/>
<rect x="611.4" y="375.4" width="9.6" height="2.4" fill="#333333"/>
<line x1="611.1" y1="386.8" x2="611.1" y2="389.6" stroke="#222" stroke-width="1"/>
<text x="615.46" y="391.8" font-size="10" text-anchor="end" fill="#383838" font-weight="normal" font-family='"Liberation Sans", sans-serif' transform="rotate(-72 615.46 391.8)">T.cells.gamma.delta</text>
<rect x="628.65" y="375.4" width="9.6" height="2.4" fill="#333333"/>
<circle cx="633.45" cy="366.6" r="2.1" fill="#333333"/>
<circle cx="633.45" cy="368.2" r="2.1" fill="#333333"/>
<circle cx="633.45" cy="369.8" r="2.1" fill="#333333"/>
<circle cx="633.45" cy="371.4" r="2.1" fill="#333333"/>
<circle cx="633.45" cy="373" r="2.1" fill="#333333"/>
<circle cx="633.45" cy="374.6" r="2.1" fill="#333333"/>
<rect x="638.85" y="375.4" width="9.6" height="2.4" fill="#333333"/>
<circle cx="643.65" cy="353.5" r="2.1" fill="#333333"/>
<circle cx="643.65" cy="361" r="2.1" fill="#333333"/>
<circle cx="643.65" cy="362.6" r="2.1" fill="#333333"/>
<circle cx="643.65" cy="364.2" r="2.1" fill="#333333"/>
<circle cx="643.65" cy="365.8" r="2.1" fill="#333333"/>
<circle cx="643.65" cy="367.4" r="2.1" fill="#333333"/>
<circle cx="643.65" cy="369" r="2.1" fill="#333333"/>
<circle cx="643.65" cy="370.6" r="2.1" fill="#333333"/>
<circle cx="643.65" cy="372.2" r="2.1" fill="#333333"/>
<circle cx="643.65" cy="373.8" r="2.1" fill="#333333"/>
<line x1="638.55" y1="386.8" x2="638.55" y2="389.6" stroke="#222" stroke-width="1"/>
<text x="643.19" y="391.75" font-size="10" text-anchor="end" fill="#383838" font-weight="normal" font-family='"Liberation Sans", sans-serif' transform="rotate(-73 643.19 391.75)">T.cells.regulatory..Tregs.</text>
<text x="144.45" y="166" font-size="14" text-anchor="middle" fill="#222" font-weight="normal" font-family='"Liberation Sans", sans-serif'>*</text>
<text x="199.35" y="166" font-size="14" text-anchor="middle" fill="#222" font-weight="normal" font-family='"Liberation Sans", sans-serif'>**</text>
<text x="226.8" y="166" font-size="14" text-anchor="middle" fill="#222" font-weight="normal" font-family='"Liberation Sans", sans-serif'>*</text>
<text x="254.25" y="166" font-size="14" text-anchor="middle" fill="#222" font-weight="normal" font-family='"Liberation Sans", sans-serif'>**</text>
<text x="281.7" y="166" font-size="14" text-anchor="middle" fill="#222" font-weight="normal" font-family='"Liberation Sans", sans-serif'>**</text>
<text x="336.6" y="166" font-size="14" text-anchor="middle" fill="#222" font-weight="normal" font-family='"Liberation Sans", sans-serif'>**</text>
<text x="418.95" y="166" font-size="14" text-anchor="middle" fill="#222" font-weight="normal" font-family='"Liberation Sans", sans-serif'>*</text>
<text x="446.4" y="166" font-size="14" text-anchor="middle" fill="#222" font-weight="normal" font-family='"Liberation Sans", sans-serif'>***</text>
<text x="528.75" y="166" font-size="14" text-anchor="middle" fill="#222" font-weight="normal" font-family='"Liberation Sans", sans-serif'>***</text>
<text x="556.2" y="166" font-size="14" text-anchor="middle" fill="#222" font-weight="normal" font-family='"Liberation Sans", sans-serif'>***</text>
<line x1="617.65" y1="236.2" x2="617.65" y2="252.2" stroke="#333333" stroke-width="0.9"/>
<rect x="609.8" y="238.7" width="15.7" height="11" fill="#569E92" stroke="#333333" stroke-width="0.9"/>
<line x1="609.8" y1="244.2" x2="625.5" y2="244.2" stroke="#333333" stroke-width="1.6"/>
<text x="628.4" y="247.3" font-size="10.2" text-anchor="start" fill="#222" font-weight="normal" font-family='"Liberation Sans", sans-serif'>ECM1</text>
<line x1="617.65" y1="255.2" x2="617.65" y2="271.2" stroke="#333333" stroke-width="0.9"/>
<rect x="609.8" y="257.7" width="15.7" height="11" fill="#C2487D" stroke="#333333" stroke-width="0.9"/>
<line x1="609.8" y1="263.2" x2="625.5" y2="263.2" stroke="#333333" stroke-width="1.6"/>
<text x="628.4" y="266.3" font-size="10.2" text-anchor="start" fill="#222" font-weight="normal" font-family='"Liberation Sans", sans-serif'>ECM2</text>
<rect x="64.6" y="526.8" width="83.4" height="15.2" fill="#569E92"/>
<rect x="148" y="526.8" width="119.8" height="15.2" fill="#C2487D"/>
<text x="108.3" y="524.4" font-size="12.5" text-anchor="middle" fill="#000" font-weight="normal" font-family='"Liberation Sans", sans-serif'>ECM1</text>
<text x="209.9" y="524.4" font-size="12.5" text-anchor="middle" fill="#000" font-weight="normal" font-family='"Liberation Sans", sans-serif'>ECM2</text>
<text x="63" y="551.5" font-size="10.3" text-anchor="end" fill="#000" font-weight="normal" font-family='"Liberation Sans", sans-serif'>aDCs</text>
<text x="270.3" y="555.4" font-size="14.2" text-anchor="start" fill="#000" font-weight="normal" font-family='"Liberation Sans", sans-serif'>*</text>
<text x="63" y="562.09" font-size="10.3" text-anchor="end" fill="#000" font-weight="normal" font-family='"Liberation Sans", sans-serif'>B cells</text>
<text x="63" y="572.68" font-size="10.3" text-anchor="end" fill="#000" font-weight="normal" font-family='"Liberation Sans", sans-serif'>CD8+ T cells</text>
<text x="270.3" y="576.58" font-size="14.2" text-anchor="start" fill="#000" font-weight="normal" font-family='"Liberation Sans", sans-serif'>****</text>
<text x="63" y="583.28" font-size="10.3" text-anchor="end" fill="#000" font-weight="normal" font-family='"Liberation Sans", sans-serif'>DCs</text>
<text x="270.3" y="587.18" font-size="14.2" text-anchor="start" fill="#000" font-weight="normal" font-family='"Liberation Sans", sans-serif'>*</text>
<text x="63" y="593.87" font-size="10.3" text-anchor="end" fill="#000" font-weight="normal" font-family='"Liberation Sans", sans-serif'>iDCs</text>
<text x="270.3" y="597.77" font-size="14.2" text-anchor="start" fill="#000" font-weight="normal" font-family='"Liberation Sans", sans-serif'>**</text>
<text x="63" y="604.47" font-size="10.3" text-anchor="end" fill="#000" font-weight="normal" font-family='"Liberation Sans", sans-serif'>Macrophages</text>
<text x="270.3" y="608.37" font-size="14.2" text-anchor="start" fill="#000" font-weight="normal" font-family='"Liberation Sans", sans-serif'>****</text>
<text x="63" y="615.06" font-size="10.3" text-anchor="end" fill="#000" font-weight="normal" font-family='"Liberation Sans", sans-serif'>Mast cells</text>
<text x="270.3" y="618.96" font-size="14.2" text-anchor="start" fill="#000" font-weight="normal" font-family='"Liberation Sans", sans-serif'>****</text>
<text x="63" y="625.65" font-size="10.3" text-anchor="end" fill="#000" font-weight="normal" font-family='"Liberation Sans", sans-serif'>Neutrophils</text>
<text x="270.3" y="629.55" font-size="14.2" text-anchor="start" fill="#000" font-weight="normal" font-family='"Liberation Sans", sans-serif'>**</text>
<text x="63" y="636.25" font-size="10.3" text-anchor="end" fill="#000" font-weight="normal" font-family='"Liberation Sans", sans-serif'>NK cells</text>
<text x="270.3" y="640.15" font-size="14.2" text-anchor="start" fill="#000" font-weight="normal" font-family='"Liberation Sans", sans-serif'>***</text>
<text x="63" y="646.84" font-size="10.3" text-anchor="end" fill="#000" font-weight="normal" font-family='"Liberation Sans", sans-serif'>pDCs</text>
<text x="270.3" y="650.74" font-size="14.2" text-anchor="start" fill="#000" font-weight="normal" font-family='"Liberation Sans", sans-serif'>**</text>
<text x="63" y="657.43" font-size="10.3" text-anchor="end" fill="#000" font-weight="normal" font-family='"Liberation Sans", sans-serif'>T helper cells</text>
<text x="270.3" y="661.33" font-size="14.2" text-anchor="start" fill="#000" font-weight="normal" font-family='"Liberation Sans", sans-serif'>****</text>
<text x="63" y="668.03" font-size="10.3" text-anchor="end" fill="#000" font-weight="normal" font-family='"Liberation Sans", sans-serif'>Tfh</text>
<text x="63" y="678.62" font-size="10.3" text-anchor="end" fill="#000" font-weight="normal" font-family='"Liberation Sans", sans-serif'>Th1 cells</text>
<text x="270.3" y="682.52" font-size="14.2" text-anchor="start" fill="#000" font-weight="normal" font-family='"Liberation Sans", sans-serif'>****</text>
<text x="63" y="689.22" font-size="10.3" text-anchor="end" fill="#000" font-weight="normal" font-family='"Liberation Sans", sans-serif'>Th2 cells</text>
<text x="270.3" y="693.12" font-size="14.2" text-anchor="start" fill="#000" font-weight="normal" font-family='"Liberation Sans", sans-serif'>****</text>
<text x="63" y="699.81" font-size="10.3" text-anchor="end" fill="#000" font-weight="normal" font-family='"Liberation Sans", sans-serif'>TIL</text>
<text x="270.3" y="703.71" font-size="14.2" text-anchor="start" fill="#000" font-weight="normal" font-family='"Liberation Sans", sans-serif'>****</text>
<text x="63" y="710.4" font-size="10.3" text-anchor="end" fill="#000" font-weight="normal" font-family='"Liberation Sans", sans-serif'>Treg</text>
<text x="270.3" y="714.3" font-size="14.2" text-anchor="start" fill="#000" font-weight="normal" font-family='"Liberation Sans", sans-serif'>****</text>
<text x="297.8" y="560" font-size="11.6" text-anchor="start" fill="#000" font-weight="normal" font-family='"Liberation Sans", sans-serif'>GSVA score</text>
<defs><linearGradient id="gsva" x1="0" y1="0" x2="0" y2="1"><stop offset="0.000" stop-color="#EE2828"/><stop offset="0.050" stop-color="#EC3639"/><stop offset="0.100" stop-color="#EA454A"/><stop offset="0.150" stop-color="#E8535A"/><stop offset="0.200" stop-color="#E6626B"/><stop offset="0.250" stop-color="#E4707C"/><stop offset="0.300" stop-color="#E88C96"/><stop offset="0.350" stop-color="#EDA8B0"/><stop offset="0.400" stop-color="#F1C4CA"/><stop offset="0.450" stop-color="#F8E2E4"/><stop offset="0.500" stop-color="#FFFFFF"/><stop offset="0.550" stop-color="#E2E4F2"/><stop offset="0.600" stop-color="#C6CAE5"/><stop offset="0.650" stop-color="#B3B7DB"/><stop offset="0.700" stop-color="#9FA5D2"/><stop offset="0.750" stop-color="#8C92C8"/><stop offset="0.800" stop-color="#7D86C2"/><stop offset="0.850" stop-color="#6E79BC"/><stop offset="0.900" stop-color="#606DB6"/><stop offset="0.950" stop-color="#5160B0"/><stop offset="1.000" stop-color="#4254AA"/></linearGradient></defs>
<rect x="325.1" y="568" width="5.8" height="116.2" fill="url(#gsva)"/>
<text x="332.2" y="574.6" font-size="11.8" text-anchor="start" fill="#111" font-weight="normal" font-family='"Liberation Serif", serif'>4</text>
<text x="332.2" y="631.9" font-size="12.4" text-anchor="start" fill="#111" font-weight="normal" font-family='"Liberation Serif", serif'>0</text>
<text x="331.2" y="685.8" font-size="11.8" text-anchor="start" fill="#111" font-weight="normal" font-family='"Liberation Serif", serif'>-4</text>
<rect x="459.6" y="527.6" width="81.9" height="15" fill="#569E92"/>
<rect x="541.5" y="527.6" width="120.1" height="15" fill="#C2487D"/>
<text x="504.95" y="525.6" font-size="12.5" text-anchor="middle" fill="#000" font-weight="normal" font-family='"Liberation Sans", sans-serif'>ECM1</text>
<text x="599.95" y="525.6" font-size="12.5" text-anchor="middle" fill="#000" font-weight="normal" font-family='"Liberation Sans", sans-serif'>ECM2</text>
<text x="457.4" y="552.96" font-size="10.55" text-anchor="end" fill="#000" font-weight="normal" font-family='"Liberation Sans", sans-serif'>APC co inhibition</text>
<text x="457.4" y="565.68" font-size="10.55" text-anchor="end" fill="#000" font-weight="normal" font-family='"Liberation Sans", sans-serif'>APC co stimulation</text>
<text x="661.5" y="568.98" font-size="14" text-anchor="start" fill="#000" font-weight="normal" font-family='"Liberation Sans", sans-serif'>****</text>
<text x="457.4" y="578.41" font-size="10.55" text-anchor="end" fill="#000" font-weight="normal" font-family='"Liberation Sans", sans-serif'>CCR</text>
<text x="661.5" y="581.71" font-size="14" text-anchor="start" fill="#000" font-weight="normal" font-family='"Liberation Sans", sans-serif'>****</text>
<text x="457.4" y="591.13" font-size="10.55" text-anchor="end" fill="#000" font-weight="normal" font-family='"Liberation Sans", sans-serif'>Check point</text>
<text x="661.5" y="594.43" font-size="14" text-anchor="start" fill="#000" font-weight="normal" font-family='"Liberation Sans", sans-serif'>****</text>
<text x="457.4" y="603.85" font-size="10.55" text-anchor="end" fill="#000" font-weight="normal" font-family='"Liberation Sans", sans-serif'>Cytolytic activity</text>
<text x="661.5" y="607.15" font-size="14" text-anchor="start" fill="#000" font-weight="normal" font-family='"Liberation Sans", sans-serif'>****</text>
<text x="457.4" y="616.58" font-size="10.55" text-anchor="end" fill="#000" font-weight="normal" font-family='"Liberation Sans", sans-serif'>HLA</text>
<text x="661.5" y="619.88" font-size="14" text-anchor="start" fill="#000" font-weight="normal" font-family='"Liberation Sans", sans-serif'>****</text>
<text x="457.4" y="629.3" font-size="10.55" text-anchor="end" fill="#000" font-weight="normal" font-family='"Liberation Sans", sans-serif'>Inflammation promoting</text>
<text x="661.5" y="632.6" font-size="14" text-anchor="start" fill="#000" font-weight="normal" font-family='"Liberation Sans", sans-serif'>****</text>
<text x="457.4" y="642.02" font-size="10.55" text-anchor="end" fill="#000" font-weight="normal" font-family='"Liberation Sans", sans-serif'>MHC class I</text>
<text x="661.5" y="645.32" font-size="14" text-anchor="start" fill="#000" font-weight="normal" font-family='"Liberation Sans", sans-serif'>****</text>
<text x="457.4" y="654.75" font-size="10.55" text-anchor="end" fill="#000" font-weight="normal" font-family='"Liberation Sans", sans-serif'>Parainflammation</text>
<text x="661.5" y="658.05" font-size="14" text-anchor="start" fill="#000" font-weight="normal" font-family='"Liberation Sans", sans-serif'>****</text>
<text x="457.4" y="667.47" font-size="10.55" text-anchor="end" fill="#000" font-weight="normal" font-family='"Liberation Sans", sans-serif'>T cell co inhibition</text>
<text x="661.5" y="670.77" font-size="14" text-anchor="start" fill="#000" font-weight="normal" font-family='"Liberation Sans", sans-serif'>***</text>
<text x="457.4" y="680.19" font-size="10.55" text-anchor="end" fill="#000" font-weight="normal" font-family='"Liberation Sans", sans-serif'>T cell co stimulation</text>
<text x="661.5" y="683.49" font-size="14" text-anchor="start" fill="#000" font-weight="normal" font-family='"Liberation Sans", sans-serif'>****</text>
<text x="457.4" y="692.92" font-size="10.55" text-anchor="end" fill="#000" font-weight="normal" font-family='"Liberation Sans", sans-serif'>Type I IFN Reponse</text>
<text x="661.5" y="696.22" font-size="14" text-anchor="start" fill="#000" font-weight="normal" font-family='"Liberation Sans", sans-serif'>**</text>
<text x="457.4" y="705.64" font-size="10.55" text-anchor="end" fill="#000" font-weight="normal" font-family='"Liberation Sans", sans-serif'>Type II IFN Reponse</text>
<text x="661.5" y="708.94" font-size="14" text-anchor="start" fill="#000" font-weight="normal" font-family='"Liberation Sans", sans-serif'>***</text>
<line x1="28.8" y1="742.8" x2="28.8" y2="908.6" stroke="#9A9A9A" stroke-width="1.1"/>
<line x1="28.3" y1="908.1" x2="680" y2="908.1" stroke="#9A9A9A" stroke-width="1.1"/>
<line x1="26.2" y1="901.2" x2="28.8" y2="901.2" stroke="#9A9A9A" stroke-width="1"/>
<text x="26" y="904.6" font-size="9.6" text-anchor="end" fill="#595959" font-weight="normal" font-family='"Liberation Sans", sans-serif'>0.0</text>
<line x1="26.2" y1="863.48" x2="28.8" y2="863.48" stroke="#9A9A9A" stroke-width="1"/>
<text x="26" y="866.88" font-size="9.6" text-anchor="end" fill="#595959" font-weight="normal" font-family='"Liberation Sans", sans-serif'>2.5</text>
<line x1="26.2" y1="825.75" x2="28.8" y2="825.75" stroke="#9A9A9A" stroke-width="1"/>
<text x="26" y="829.15" font-size="9.6" text-anchor="end" fill="#595959" font-weight="normal" font-family='"Liberation Sans", sans-serif'>5.0</text>
<line x1="26.2" y1="788.03" x2="28.8" y2="788.03" stroke="#9A9A9A" stroke-width="1"/>
<text x="26" y="791.43" font-size="9.6" text-anchor="end" fill="#595959" font-weight="normal" font-family='"Liberation Sans", sans-serif'>7.5</text>
<line x1="26.2" y1="750.3" x2="28.8" y2="750.3" stroke="#9A9A9A" stroke-width="1"/>
<text x="26" y="753.7" font-size="9.6" text-anchor="end" fill="#595959" font-weight="normal" font-family='"Liberation Sans", sans-serif'>10.0</text>
<text x="8.7" y="826.9" font-size="11.7" text-anchor="middle" fill="#000" font-weight="bold" font-family='"Liberation Sans", sans-serif' transform="rotate(-90 8.7 826.9)">Normalized gene expression</text>
<line x1="35.6" y1="851.4" x2="35.6" y2="867.4" stroke="#555" stroke-width="0.8"/>
<line x1="35.6" y1="879.4" x2="35.6" y2="887.4" stroke="#555" stroke-width="0.8"/>
<rect x="32.7" y="867.4" width="5.8" height="12" fill="#569E92" stroke="#333333" stroke-width="0.8"/>
<line x1="32.7" y1="874.4" x2="38.5" y2="874.4" stroke="#333333" stroke-width="1.6"/>
<line x1="41.6" y1="862" x2="41.6" y2="871.4" stroke="#555" stroke-width="0.8"/>
<line x1="41.6" y1="878.4" x2="41.6" y2="887.4" stroke="#555" stroke-width="0.8"/>
<rect x="38.7" y="871.4" width="5.8" height="7" fill="#C2487D" stroke="#333333" stroke-width="0.8"/>
<line x1="38.7" y1="875.4" x2="44.5" y2="875.4" stroke="#333333" stroke-width="1.6"/>
<circle cx="41.6" cy="850.6" r="1.45" fill="#333333"/>
<circle cx="41.6" cy="858.6" r="1.45" fill="#333333"/>
<circle cx="41.6" cy="860" r="1.45" fill="#333333"/>
<line x1="38.6" y1="908.1" x2="38.6" y2="910.7" stroke="#9A9A9A" stroke-width="1"/>
<text x="41.6" y="916.5" font-size="10.4" text-anchor="end" fill="#2A2A2A" font-weight="normal" font-family='"Liberation Sans", sans-serif' transform="rotate(-47.5 41.6 916.5)">ADORA2A</text>
<line x1="51.81" y1="891" x2="51.81" y2="896" stroke="#555" stroke-width="0.8"/>
<line x1="51.81" y1="900" x2="51.81" y2="901" stroke="#555" stroke-width="0.8"/>
<rect x="48.91" y="896" width="5.8" height="4" fill="#569E92" stroke="#333333" stroke-width="0.8"/>
<line x1="48.91" y1="898" x2="54.71" y2="898" stroke="#333333" stroke-width="1.6"/>
<circle cx="51.81" cy="872" r="1.45" fill="#333333"/>
<circle cx="51.81" cy="873.9" r="1.45" fill="#333333"/>
<circle cx="51.81" cy="875.8" r="1.45" fill="#333333"/>
<circle cx="51.81" cy="877.7" r="1.45" fill="#333333"/>
<circle cx="51.81" cy="879.6" r="1.45" fill="#333333"/>
<circle cx="51.81" cy="881.5" r="1.45" fill="#333333"/>
<circle cx="51.81" cy="883.4" r="1.45" fill="#333333"/>
<circle cx="51.81" cy="885.3" r="1.45" fill="#333333"/>
<circle cx="51.81" cy="887.2" r="1.45" fill="#333333"/>
<line x1="57.81" y1="893" x2="57.81" y2="896.6" stroke="#555" stroke-width="0.8"/>
<rect x="54.91" y="896.6" width="5.8" height="4.4" fill="#C2487D" stroke="#333333" stroke-width="0.8"/>
<line x1="54.91" y1="899.4" x2="60.71" y2="899.4" stroke="#333333" stroke-width="1.6"/>
<circle cx="57.81" cy="880" r="1.45" fill="#333333"/>
<circle cx="57.81" cy="881.9" r="1.45" fill="#333333"/>
<circle cx="57.81" cy="883.8" r="1.45" fill="#333333"/>
<circle cx="57.81" cy="885.7" r="1.45" fill="#333333"/>
<circle cx="57.81" cy="887.6" r="1.45" fill="#333333"/>
<circle cx="57.81" cy="889.5" r="1.45" fill="#333333"/>
<line x1="54.81" y1="908.1" x2="54.81" y2="910.7" stroke="#9A9A9A" stroke-width="1"/>
<text x="57.81" y="916.5" font-size="10.4" text-anchor="end" fill="#2A2A2A" font-weight="normal" font-family='"Liberation Sans", sans-serif' transform="rotate(-47.58 57.81 916.5)">BTLA</text>
<line x1="68.02" y1="794.4" x2="68.02" y2="819.4" stroke="#555" stroke-width="0.8"/>
<line x1="68.02" y1="841.6" x2="68.02" y2="865.6" stroke="#555" stroke-width="0.8"/>
<rect x="65.12" y="819.4" width="5.8" height="22.2" fill="#569E92" stroke="#333333" stroke-width="0.8"/>
<line x1="65.12" y1="831" x2="70.92" y2="831" stroke="#333333" stroke-width="1.6"/>
<line x1="74.02" y1="805.4" x2="74.02" y2="820.4" stroke="#555" stroke-width="0.8"/>
<line x1="74.02" y1="831.4" x2="74.02" y2="843" stroke="#555" stroke-width="0.8"/>
<rect x="71.12" y="820.4" width="5.8" height="11" fill="#C2487D" stroke="#333333" stroke-width="0.8"/>
<line x1="71.12" y1="825.4" x2="76.92" y2="825.4" stroke="#333333" stroke-width="1.6"/>
<circle cx="74.02" cy="846.5" r="1.45" fill="#333333"/>
<circle cx="74.02" cy="848" r="1.45" fill="#333333"/>
<circle cx="74.02" cy="850" r="1.45" fill="#333333"/>
<circle cx="74.02" cy="852" r="1.45" fill="#333333"/>
<circle cx="74.02" cy="854" r="1.45" fill="#333333"/>
<line x1="71.02" y1="908.1" x2="71.02" y2="910.7" stroke="#9A9A9A" stroke-width="1"/>
<text x="74.02" y="916.5" font-size="10.4" text-anchor="end" fill="#2A2A2A" font-weight="normal" font-family='"Liberation Sans", sans-serif' transform="rotate(-47.65 74.02 916.5)">C10orf54</text>
<line x1="84.23" y1="885" x2="84.23" y2="892.4" stroke="#555" stroke-width="0.8"/>
<line x1="84.23" y1="898" x2="84.23" y2="901" stroke="#555" stroke-width="0.8"/>
<rect x="81.33" y="892.4" width="5.8" height="5.6" fill="#569E92" stroke="#333333" stroke-width="0.8"/>
<line x1="81.33" y1="896" x2="87.13" y2="896" stroke="#333333" stroke-width="1.6"/>
<circle cx="84.23" cy="875" r="1.45" fill="#333333"/>
<circle cx="84.23" cy="877" r="1.45" fill="#333333"/>
<circle cx="84.23" cy="879" r="1.45" fill="#333333"/>
<circle cx="84.23" cy="882" r="1.45" fill="#333333"/>
<line x1="90.23" y1="892" x2="90.23" y2="896" stroke="#555" stroke-width="0.8"/>
<line x1="90.23" y1="899.6" x2="90.23" y2="901" stroke="#555" stroke-width="0.8"/>
<rect x="87.33" y="896" width="5.8" height="3.6" fill="#C2487D" stroke="#333333" stroke-width="0.8"/>
<line x1="87.33" y1="897.6" x2="93.13" y2="897.6" stroke="#333333" stroke-width="1.6"/>
<circle cx="90.23" cy="880" r="1.45" fill="#333333"/>
<circle cx="90.23" cy="881.9" r="1.45" fill="#333333"/>
<circle cx="90.23" cy="883.8" r="1.45" fill="#333333"/>
<circle cx="90.23" cy="885.7" r="1.45" fill="#333333"/>
<circle cx="90.23" cy="887.6" r="1.45" fill="#333333"/>
<circle cx="90.23" cy="889.5" r="1.45" fill="#333333"/>
<line x1="87.23" y1="908.1" x2="87.23" y2="910.7" stroke="#9A9A9A" stroke-width="1"/>
<text x="90.23" y="916.5" font-size="10.4" text-anchor="end" fill="#2A2A2A" font-weight="normal" font-family='"Liberation Sans", sans-serif' transform="rotate(-47.73 90.23 916.5)">CD160</text>
<line x1="100.44" y1="829" x2="100.44" y2="837.6" stroke="#555" stroke-width="0.8"/>
<line x1="100.44" y1="848" x2="100.44" y2="856" stroke="#555" stroke-width="0.8"/>
<rect x="97.54" y="837.6" width="5.8" height="10.4" fill="#569E92" stroke="#333333" stroke-width="0.8"/>
<line x1="97.54" y1="843" x2="103.34" y2="843" stroke="#333333" stroke-width="1.6"/>
<circle cx="100.44" cy="820.4" r="1.45" fill="#333333"/>
<circle cx="100.44" cy="869.4" r="1.45" fill="#333333"/>
<line x1="106.44" y1="821" x2="106.44" y2="833" stroke="#555" stroke-width="0.8"/>
<line x1="106.44" y1="843" x2="106.44" y2="855" stroke="#555" stroke-width="0.8"/>
<rect x="103.54" y="833" width="5.8" height="10" fill="#C2487D" stroke="#333333" stroke-width="0.8"/>
<line x1="103.54" y1="837" x2="109.34" y2="837" stroke="#333333" stroke-width="1.6"/>
<circle cx="106.44" cy="858" r="1.45" fill="#333333"/>
<line x1="103.44" y1="908.1" x2="103.44" y2="910.7" stroke="#9A9A9A" stroke-width="1"/>
<text x="106.44" y="916.5" font-size="10.4" text-anchor="end" fill="#2A2A2A" font-weight="normal" font-family='"Liberation Sans", sans-serif' transform="rotate(-47.81 106.44 916.5)">CD200</text>
<line x1="116.65" y1="885" x2="116.65" y2="893" stroke="#555" stroke-width="0.8"/>
<line x1="116.65" y1="898.4" x2="116.65" y2="901" stroke="#555" stroke-width="0.8"/>
<rect x="113.75" y="893" width="5.8" height="5.4" fill="#569E92" stroke="#333333" stroke-width="0.8"/>
<line x1="113.75" y1="896" x2="119.55" y2="896" stroke="#333333" stroke-width="1.6"/>
<circle cx="116.65" cy="882" r="1.45" fill="#333333"/>
<line x1="122.65" y1="890" x2="122.65" y2="897" stroke="#555" stroke-width="0.8"/>
<line x1="122.65" y1="899.6" x2="122.65" y2="901" stroke="#555" stroke-width="0.8"/>
<rect x="119.75" y="897" width="5.8" height="2.6" fill="#C2487D" stroke="#333333" stroke-width="0.8"/>
<line x1="119.75" y1="898" x2="125.55" y2="898" stroke="#333333" stroke-width="1.6"/>
<circle cx="122.65" cy="889" r="1.45" fill="#333333"/>
<circle cx="122.65" cy="891" r="1.45" fill="#333333"/>
<circle cx="122.65" cy="893" r="1.45" fill="#333333"/>
<line x1="119.65" y1="908.1" x2="119.65" y2="910.7" stroke="#9A9A9A" stroke-width="1"/>
<text x="122.65" y="916.5" font-size="10.4" text-anchor="end" fill="#2A2A2A" font-weight="normal" font-family='"Liberation Sans", sans-serif' transform="rotate(-47.88 122.65 916.5)">CD200R1</text>
<line x1="132.86" y1="880" x2="132.86" y2="890.4" stroke="#555" stroke-width="0.8"/>
<line x1="132.86" y1="898.6" x2="132.86" y2="901" stroke="#555" stroke-width="0.8"/>
<rect x="129.96" y="890.4" width="5.8" height="8.2" fill="#569E92" stroke="#333333" stroke-width="0.8"/>
<line x1="129.96" y1="895.6" x2="135.76" y2="895.6" stroke="#333333" stroke-width="1.6"/>
<circle cx="132.86" cy="863" r="1.45" fill="#333333"/>
<circle cx="132.86" cy="864.9" r="1.45" fill="#333333"/>
<circle cx="132.86" cy="866.8" r="1.45" fill="#333333"/>
<circle cx="132.86" cy="868.7" r="1.45" fill="#333333"/>
<circle cx="132.86" cy="870.6" r="1.45" fill="#333333"/>
<circle cx="132.86" cy="872.5" r="1.45" fill="#333333"/>
<line x1="138.86" y1="890" x2="138.86" y2="894.4" stroke="#555" stroke-width="0.8"/>
<line x1="138.86" y1="899.4" x2="138.86" y2="901" stroke="#555" stroke-width="0.8"/>
<rect x="135.96" y="894.4" width="5.8" height="5" fill="#C2487D" stroke="#333333" stroke-width="0.8"/>
<line x1="135.96" y1="897" x2="141.76" y2="897" stroke="#333333" stroke-width="1.6"/>
<circle cx="138.86" cy="869" r="1.45" fill="#333333"/>
<circle cx="138.86" cy="870.9" r="1.45" fill="#333333"/>
<circle cx="138.86" cy="872.8" r="1.45" fill="#333333"/>
<circle cx="138.86" cy="874.7" r="1.45" fill="#333333"/>
<circle cx="138.86" cy="876.6" r="1.45" fill="#333333"/>
<circle cx="138.86" cy="878.5" r="1.45" fill="#333333"/>
<circle cx="138.86" cy="880.4" r="1.45" fill="#333333"/>
<circle cx="138.86" cy="882.3" r="1.45" fill="#333333"/>
<circle cx="138.86" cy="884.2" r="1.45" fill="#333333"/>
<circle cx="138.86" cy="886.1" r="1.45" fill="#333333"/>
<line x1="135.86" y1="908.1" x2="135.86" y2="910.7" stroke="#9A9A9A" stroke-width="1"/>
<text x="138.86" y="916.5" font-size="10.4" text-anchor="end" fill="#2A2A2A" font-weight="normal" font-family='"Liberation Sans", sans-serif' transform="rotate(-47.96 138.86 916.5)">CD244</text>
<line x1="149.07" y1="872" x2="149.07" y2="885.4" stroke="#555" stroke-width="0.8"/>
<line x1="149.07" y1="895.6" x2="149.07" y2="900" stroke="#555" stroke-width="0.8"/>
<rect x="146.17" y="885.4" width="5.8" height="10.2" fill="#569E92" stroke="#333333" stroke-width="0.8"/>
<line x1="146.17" y1="891.6" x2="151.97" y2="891.6" stroke="#333333" stroke-width="1.6"/>
<line x1="155.07" y1="886" x2="155.07" y2="891.4" stroke="#555" stroke-width="0.8"/>
<line x1="155.07" y1="897.6" x2="155.07" y2="901" stroke="#555" stroke-width="0.8"/>
<rect x="152.17" y="891.4" width="5.8" height="6.2" fill="#C2487D" stroke="#333333" stroke-width="0.8"/>
<line x1="152.17" y1="894.4" x2="157.97" y2="894.4" stroke="#333333" stroke-width="1.6"/>
<circle cx="155.07" cy="882.4" r="1.45" fill="#333333"/>
<line x1="152.07" y1="908.1" x2="152.07" y2="910.7" stroke="#9A9A9A" stroke-width="1"/>
<text x="155.07" y="916.5" font-size="10.4" text-anchor="end" fill="#2A2A2A" font-weight="normal" font-family='"Liberation Sans", sans-serif' transform="rotate(-48.04 155.07 916.5)">CD27</text>
<line x1="165.28" y1="863" x2="165.28" y2="879.4" stroke="#555" stroke-width="0.8"/>
<line x1="165.28" y1="891.4" x2="165.28" y2="898" stroke="#555" stroke-width="0.8"/>
<rect x="162.38" y="879.4" width="5.8" height="12" fill="#569E92" stroke="#333333" stroke-width="0.8"/>
<line x1="162.38" y1="885.4" x2="168.18" y2="885.4" stroke="#333333" stroke-width="1.6"/>
<circle cx="165.28" cy="857" r="1.45" fill="#333333"/>
<circle cx="165.28" cy="860" r="1.45" fill="#333333"/>
<line x1="171.28" y1="877" x2="171.28" y2="885" stroke="#555" stroke-width="0.8"/>
<line x1="171.28" y1="891.4" x2="171.28" y2="898" stroke="#555" stroke-width="0.8"/>
<rect x="168.38" y="885" width="5.8" height="6.4" fill="#C2487D" stroke="#333333" stroke-width="0.8"/>
<line x1="168.38" y1="888.4" x2="174.18" y2="888.4" stroke="#333333" stroke-width="1.6"/>
<circle cx="171.28" cy="864" r="1.45" fill="#333333"/>
<circle cx="171.28" cy="870" r="1.45" fill="#333333"/>
<circle cx="171.28" cy="873" r="1.45" fill="#333333"/>
<line x1="168.28" y1="908.1" x2="168.28" y2="910.7" stroke="#9A9A9A" stroke-width="1"/>
<text x="171.28" y="916.5" font-size="10.4" text-anchor="end" fill="#2A2A2A" font-weight="normal" font-family='"Liberation Sans", sans-serif' transform="rotate(-48.12 171.28 916.5)">CD274</text>
<line x1="181.49" y1="796.4" x2="181.49" y2="811" stroke="#555" stroke-width="0.8"/>
<line x1="181.49" y1="824.6" x2="181.49" y2="840" stroke="#555" stroke-width="0.8"/>
<rect x="178.59" y="811" width="5.8" height="13.6" fill="#569E92" stroke="#333333" stroke-width="0.8"/>
<line x1="178.59" y1="818" x2="184.39" y2="818" stroke="#333333" stroke-width="1.6"/>
<line x1="187.49" y1="823" x2="187.49" y2="832" stroke="#555" stroke-width="0.8"/>
<line x1="187.49" y1="842.4" x2="187.49" y2="853" stroke="#555" stroke-width="0.8"/>
<rect x="184.59" y="832" width="5.8" height="10.4" fill="#C2487D" stroke="#333333" stroke-width="0.8"/>
<line x1="184.59" y1="836.6" x2="190.39" y2="836.6" stroke="#333333" stroke-width="1.6"/>
<line x1="184.49" y1="908.1" x2="184.49" y2="910.7" stroke="#9A9A9A" stroke-width="1"/>
<text x="187.49" y="916.5" font-size="10.4" text-anchor="end" fill="#2A2A2A" font-weight="normal" font-family='"Liberation Sans", sans-serif' transform="rotate(-48.19 187.49 916.5)">CD276</text>
<line x1="197.7" y1="873" x2="197.7" y2="886.4" stroke="#555" stroke-width="0.8"/>
<line x1="197.7" y1="897" x2="197.7" y2="901" stroke="#555" stroke-width="0.8"/>
<rect x="194.8" y="886.4" width="5.8" height="10.6" fill="#569E92" stroke="#333333" stroke-width="0.8"/>
<line x1="194.8" y1="890.4" x2="200.6" y2="890.4" stroke="#333333" stroke-width="1.6"/>
<circle cx="197.7" cy="863.4" r="1.45" fill="#333333"/>
<circle cx="197.7" cy="868.6" r="1.45" fill="#333333"/>
<line x1="203.7" y1="889" x2="203.7" y2="894" stroke="#555" stroke-width="0.8"/>
<line x1="203.7" y1="899.4" x2="203.7" y2="901" stroke="#555" stroke-width="0.8"/>
<rect x="200.8" y="894" width="5.8" height="5.4" fill="#C2487D" stroke="#333333" stroke-width="0.8"/>
<line x1="200.8" y1="896.4" x2="206.6" y2="896.4" stroke="#333333" stroke-width="1.6"/>
<circle cx="203.7" cy="881" r="1.45" fill="#333333"/>
<circle cx="203.7" cy="882.9" r="1.45" fill="#333333"/>
<circle cx="203.7" cy="884.8" r="1.45" fill="#333333"/>
<circle cx="203.7" cy="886.7" r="1.45" fill="#333333"/>
<circle cx="203.7" cy="888.6" r="1.45" fill="#333333"/>
<line x1="200.7" y1="908.1" x2="200.7" y2="910.7" stroke="#9A9A9A" stroke-width="1"/>
<text x="203.7" y="916.5" font-size="10.4" text-anchor="end" fill="#2A2A2A" font-weight="normal" font-family='"Liberation Sans", sans-serif' transform="rotate(-48.27 203.7 916.5)">CD28</text>
<line x1="213.91" y1="895" x2="213.91" y2="897.4" stroke="#555" stroke-width="0.8"/>
<rect x="211.01" y="897.4" width="5.8" height="3.6" fill="#569E92" stroke="#333333" stroke-width="0.8"/>
<line x1="211.01" y1="899.4" x2="216.81" y2="899.4" stroke="#333333" stroke-width="1.6"/>
<circle cx="213.91" cy="882.4" r="1.45" fill="#333333"/>
<circle cx="213.91" cy="884.3" r="1.45" fill="#333333"/>
<circle cx="213.91" cy="886.2" r="1.45" fill="#333333"/>
<circle cx="213.91" cy="888.1" r="1.45" fill="#333333"/>
<circle cx="213.91" cy="890" r="1.45" fill="#333333"/>
<circle cx="213.91" cy="891.9" r="1.45" fill="#333333"/>
<circle cx="213.91" cy="893.8" r="1.45" fill="#333333"/>
<line x1="219.91" y1="898" x2="219.91" y2="899" stroke="#555" stroke-width="0.8"/>
<rect x="217.01" y="899" width="5.8" height="2" fill="#C2487D" stroke="#333333" stroke-width="0.8"/>
<line x1="217.01" y1="900" x2="222.81" y2="900" stroke="#333333" stroke-width="1.6"/>
<circle cx="219.91" cy="882" r="1.45" fill="#333333"/>
<circle cx="219.91" cy="883.9" r="1.45" fill="#333333"/>
<circle cx="219.91" cy="885.8" r="1.45" fill="#333333"/>
<circle cx="219.91" cy="887.7" r="1.45" fill="#333333"/>
<circle cx="219.91" cy="889.6" r="1.45" fill="#333333"/>
<circle cx="219.91" cy="891.5" r="1.45" fill="#333333"/>
<circle cx="219.91" cy="893.4" r="1.45" fill="#333333"/>
<circle cx="219.91" cy="895.3" r="1.45" fill="#333333"/>
<line x1="216.91" y1="908.1" x2="216.91" y2="910.7" stroke="#9A9A9A" stroke-width="1"/>
<text x="219.91" y="916.5" font-size="10.4" text-anchor="end" fill="#2A2A2A" font-weight="normal" font-family='"Liberation Sans", sans-serif' transform="rotate(-48.35 219.91 916.5)">CD40LG</text>
<line x1="230.12" y1="760" x2="230.12" y2="788" stroke="#555" stroke-width="0.8"/>
<line x1="230.12" y1="808.6" x2="230.12" y2="838" stroke="#555" stroke-width="0.8"/>
<rect x="227.22" y="788" width="5.8" height="20.6" fill="#569E92" stroke="#333333" stroke-width="0.8"/>
<line x1="227.22" y1="794.6" x2="233.02" y2="794.6" stroke="#333333" stroke-width="1.6"/>
<circle cx="230.12" cy="842.4" r="1.45" fill="#333333"/>
<circle cx="230.12" cy="847" r="1.45" fill="#333333"/>
<line x1="236.12" y1="793" x2="236.12" y2="818.4" stroke="#555" stroke-width="0.8"/>
<line x1="236.12" y1="838.4" x2="236.12" y2="861" stroke="#555" stroke-width="0.8"/>
<rect x="233.22" y="818.4" width="5.8" height="20" fill="#C2487D" stroke="#333333" stroke-width="0.8"/>
<line x1="233.22" y1="831" x2="239.02" y2="831" stroke="#333333" stroke-width="1.6"/>
<line x1="233.12" y1="908.1" x2="233.12" y2="910.7" stroke="#9A9A9A" stroke-width="1"/>
<text x="236.12" y="916.5" font-size="10.4" text-anchor="end" fill="#2A2A2A" font-weight="normal" font-family='"Liberation Sans", sans-serif' transform="rotate(-48.42 236.12 916.5)">CD44</text>
<line x1="246.33" y1="845" x2="246.33" y2="866.4" stroke="#555" stroke-width="0.8"/>
<line x1="246.33" y1="881.4" x2="246.33" y2="894" stroke="#555" stroke-width="0.8"/>
<rect x="243.43" y="866.4" width="5.8" height="15" fill="#569E92" stroke="#333333" stroke-width="0.8"/>
<line x1="243.43" y1="872.4" x2="249.23" y2="872.4" stroke="#333333" stroke-width="1.6"/>
<circle cx="246.33" cy="837.6" r="1.45" fill="#333333"/>
<circle cx="246.33" cy="842.4" r="1.45" fill="#333333"/>
<line x1="252.33" y1="853.6" x2="252.33" y2="878" stroke="#555" stroke-width="0.8"/>
<line x1="252.33" y1="894.6" x2="252.33" y2="901" stroke="#555" stroke-width="0.8"/>
<rect x="249.43" y="878" width="5.8" height="16.6" fill="#C2487D" stroke="#333333" stroke-width="0.8"/>
<line x1="249.43" y1="886" x2="255.23" y2="886" stroke="#333333" stroke-width="1.6"/>
<line x1="249.33" y1="908.1" x2="249.33" y2="910.7" stroke="#9A9A9A" stroke-width="1"/>
<text x="252.33" y="916.5" font-size="10.4" text-anchor="end" fill="#2A2A2A" font-weight="normal" font-family='"Liberation Sans", sans-serif' transform="rotate(-48.5 252.33 916.5)">CD48</text>
<line x1="262.54" y1="885" x2="262.54" y2="894.4" stroke="#555" stroke-width="0.8"/>
<rect x="259.64" y="894.4" width="5.8" height="6.6" fill="#569E92" stroke="#333333" stroke-width="0.8"/>
<line x1="259.64" y1="899" x2="265.44" y2="899" stroke="#333333" stroke-width="1.6"/>
<circle cx="262.54" cy="855.6" r="1.45" fill="#333333"/>
<circle cx="262.54" cy="872" r="1.45" fill="#333333"/>
<circle cx="262.54" cy="875" r="1.45" fill="#333333"/>
<circle cx="262.54" cy="878" r="1.45" fill="#333333"/>
<circle cx="262.54" cy="881" r="1.45" fill="#333333"/>
<line x1="268.54" y1="898" x2="268.54" y2="899" stroke="#555" stroke-width="0.8"/>
<rect x="265.64" y="899" width="5.8" height="2" fill="#C2487D" stroke="#333333" stroke-width="0.8"/>
<line x1="265.64" y1="900" x2="271.44" y2="900" stroke="#333333" stroke-width="1.6"/>
<circle cx="268.54" cy="882" r="1.45" fill="#333333"/>
<circle cx="268.54" cy="883.9" r="1.45" fill="#333333"/>
<circle cx="268.54" cy="885.8" r="1.45" fill="#333333"/>
<circle cx="268.54" cy="887.7" r="1.45" fill="#333333"/>
<circle cx="268.54" cy="889.6" r="1.45" fill="#333333"/>
<circle cx="268.54" cy="891.5" r="1.45" fill="#333333"/>
<circle cx="268.54" cy="893.4" r="1.45" fill="#333333"/>
<circle cx="268.54" cy="895.3" r="1.45" fill="#333333"/>
<line x1="265.54" y1="908.1" x2="265.54" y2="910.7" stroke="#9A9A9A" stroke-width="1"/>
<text x="268.54" y="916.5" font-size="10.4" text-anchor="end" fill="#2A2A2A" font-weight="normal" font-family='"Liberation Sans", sans-serif' transform="rotate(-48.58 268.54 916.5)">CD70</text>
<line x1="278.75" y1="883" x2="278.75" y2="892.4" stroke="#555" stroke-width="0.8"/>
<line x1="278.75" y1="897.4" x2="278.75" y2="901" stroke="#555" stroke-width="0.8"/>
<rect x="275.85" y="892.4" width="5.8" height="5" fill="#569E92" stroke="#333333" stroke-width="0.8"/>
<line x1="275.85" y1="894.4" x2="281.65" y2="894.4" stroke="#333333" stroke-width="1.6"/>
<circle cx="278.75" cy="868" r="1.45" fill="#333333"/>
<circle cx="278.75" cy="869.9" r="1.45" fill="#333333"/>
<circle cx="278.75" cy="871.8" r="1.45" fill="#333333"/>
<circle cx="278.75" cy="873.7" r="1.45" fill="#333333"/>
<circle cx="278.75" cy="875.6" r="1.45" fill="#333333"/>
<circle cx="278.75" cy="877.5" r="1.45" fill="#333333"/>
<line x1="284.75" y1="895" x2="284.75" y2="896.6" stroke="#555" stroke-width="0.8"/>
<rect x="281.85" y="896.6" width="5.8" height="4.4" fill="#C2487D" stroke="#333333" stroke-width="0.8"/>
<line x1="281.85" y1="899" x2="287.65" y2="899" stroke="#333333" stroke-width="1.6"/>
<circle cx="284.75" cy="869" r="1.45" fill="#333333"/>
<circle cx="284.75" cy="870.9" r="1.45" fill="#333333"/>
<circle cx="284.75" cy="872.8" r="1.45" fill="#333333"/>
<circle cx="284.75" cy="874.7" r="1.45" fill="#333333"/>
<circle cx="284.75" cy="876.6" r="1.45" fill="#333333"/>
<circle cx="284.75" cy="878.5" r="1.45" fill="#333333"/>
<circle cx="284.75" cy="880.4" r="1.45" fill="#333333"/>
<circle cx="284.75" cy="882.3" r="1.45" fill="#333333"/>
<circle cx="284.75" cy="884.2" r="1.45" fill="#333333"/>
<circle cx="284.75" cy="886.1" r="1.45" fill="#333333"/>
<circle cx="284.75" cy="888" r="1.45" fill="#333333"/>
<circle cx="284.75" cy="889.9" r="1.45" fill="#333333"/>
<circle cx="284.75" cy="891.8" r="1.45" fill="#333333"/>
<circle cx="284.75" cy="893.7" r="1.45" fill="#333333"/>
<line x1="281.75" y1="908.1" x2="281.75" y2="910.7" stroke="#9A9A9A" stroke-width="1"/>
<text x="284.75" y="916.5" font-size="10.4" text-anchor="end" fill="#2A2A2A" font-weight="normal" font-family='"Liberation Sans", sans-serif' transform="rotate(-48.65 284.75 916.5)">CD80</text>
<line x1="294.96" y1="834" x2="294.96" y2="851" stroke="#555" stroke-width="0.8"/>
<line x1="294.96" y1="872" x2="294.96" y2="890" stroke="#555" stroke-width="0.8"/>
<rect x="292.06" y="851" width="5.8" height="21" fill="#569E92" stroke="#333333" stroke-width="0.8"/>
<line x1="292.06" y1="861" x2="297.86" y2="861" stroke="#333333" stroke-width="1.6"/>
<line x1="300.96" y1="842" x2="300.96" y2="862.4" stroke="#555" stroke-width="0.8"/>
<line x1="300.96" y1="874.4" x2="300.96" y2="890" stroke="#555" stroke-width="0.8"/>
<rect x="298.06" y="862.4" width="5.8" height="12" fill="#C2487D" stroke="#333333" stroke-width="0.8"/>
<line x1="298.06" y1="867.4" x2="303.86" y2="867.4" stroke="#333333" stroke-width="1.6"/>
<circle cx="300.96" cy="836" r="1.45" fill="#333333"/>
<circle cx="300.96" cy="838" r="1.45" fill="#333333"/>
<circle cx="300.96" cy="840" r="1.45" fill="#333333"/>
<circle cx="300.96" cy="842.5" r="1.45" fill="#333333"/>
<line x1="297.96" y1="908.1" x2="297.96" y2="910.7" stroke="#9A9A9A" stroke-width="1"/>
<text x="300.96" y="916.5" font-size="10.4" text-anchor="end" fill="#2A2A2A" font-weight="normal" font-family='"Liberation Sans", sans-serif' transform="rotate(-48.73 300.96 916.5)">CD86</text>
<line x1="311.17" y1="888" x2="311.17" y2="894.4" stroke="#555" stroke-width="0.8"/>
<line x1="311.17" y1="899.4" x2="311.17" y2="901" stroke="#555" stroke-width="0.8"/>
<rect x="308.27" y="894.4" width="5.8" height="5" fill="#569E92" stroke="#333333" stroke-width="0.8"/>
<line x1="308.27" y1="897.4" x2="314.07" y2="897.4" stroke="#333333" stroke-width="1.6"/>
<circle cx="311.17" cy="874" r="1.45" fill="#333333"/>
<circle cx="311.17" cy="877" r="1.45" fill="#333333"/>
<line x1="317.17" y1="890" x2="317.17" y2="896.4" stroke="#555" stroke-width="0.8"/>
<rect x="314.27" y="896.4" width="5.8" height="4.6" fill="#C2487D" stroke="#333333" stroke-width="0.8"/>
<line x1="314.27" y1="898.6" x2="320.07" y2="898.6" stroke="#333333" stroke-width="1.6"/>
<circle cx="317.17" cy="875" r="1.45" fill="#333333"/>
<circle cx="317.17" cy="876.9" r="1.45" fill="#333333"/>
<circle cx="317.17" cy="878.8" r="1.45" fill="#333333"/>
<circle cx="317.17" cy="880.7" r="1.45" fill="#333333"/>
<circle cx="317.17" cy="882.6" r="1.45" fill="#333333"/>
<circle cx="317.17" cy="884.5" r="1.45" fill="#333333"/>
<circle cx="317.17" cy="886.4" r="1.45" fill="#333333"/>
<line x1="314.17" y1="908.1" x2="314.17" y2="910.7" stroke="#9A9A9A" stroke-width="1"/>
<text x="317.17" y="916.5" font-size="10.4" text-anchor="end" fill="#2A2A2A" font-weight="normal" font-family='"Liberation Sans", sans-serif' transform="rotate(-48.81 317.17 916.5)">CTLA4</text>
<line x1="327.38" y1="823" x2="327.38" y2="838.4" stroke="#555" stroke-width="0.8"/>
<line x1="327.38" y1="861.4" x2="327.38" y2="885" stroke="#555" stroke-width="0.8"/>
<rect x="324.48" y="838.4" width="5.8" height="23" fill="#569E92" stroke="#333333" stroke-width="0.8"/>
<line x1="324.48" y1="848" x2="330.28" y2="848" stroke="#333333" stroke-width="1.6"/>
<line x1="333.38" y1="826" x2="333.38" y2="850" stroke="#555" stroke-width="0.8"/>
<line x1="333.38" y1="866.6" x2="333.38" y2="887" stroke="#555" stroke-width="0.8"/>
<rect x="330.48" y="850" width="5.8" height="16.6" fill="#C2487D" stroke="#333333" stroke-width="0.8"/>
<line x1="330.48" y1="857.4" x2="336.28" y2="857.4" stroke="#333333" stroke-width="1.6"/>
<line x1="330.38" y1="908.1" x2="330.38" y2="910.7" stroke="#9A9A9A" stroke-width="1"/>
<text x="333.38" y="916.5" font-size="10.4" text-anchor="end" fill="#2A2A2A" font-weight="normal" font-family='"Liberation Sans", sans-serif' transform="rotate(-48.88 333.38 916.5)">HAVCR2</text>
<line x1="343.59" y1="896" x2="343.59" y2="898" stroke="#555" stroke-width="0.8"/>
<line x1="343.59" y1="900.4" x2="343.59" y2="901" stroke="#555" stroke-width="0.8"/>
<rect x="340.69" y="898" width="5.8" height="2.4" fill="#569E92" stroke="#333333" stroke-width="0.8"/>
<line x1="340.69" y1="899.4" x2="346.49" y2="899.4" stroke="#333333" stroke-width="1.6"/>
<circle cx="343.59" cy="879" r="1.45" fill="#333333"/>
<circle cx="343.59" cy="880.9" r="1.45" fill="#333333"/>
<circle cx="343.59" cy="882.8" r="1.45" fill="#333333"/>
<circle cx="343.59" cy="884.7" r="1.45" fill="#333333"/>
<circle cx="343.59" cy="886.6" r="1.45" fill="#333333"/>
<circle cx="343.59" cy="888.5" r="1.45" fill="#333333"/>
<circle cx="343.59" cy="890.4" r="1.45" fill="#333333"/>
<circle cx="343.59" cy="892.3" r="1.45" fill="#333333"/>
<line x1="349.59" y1="896" x2="349.59" y2="897" stroke="#555" stroke-width="0.8"/>
<line x1="349.59" y1="900.4" x2="349.59" y2="901" stroke="#555" stroke-width="0.8"/>
<rect x="346.69" y="897" width="5.8" height="3.4" fill="#C2487D" stroke="#333333" stroke-width="0.8"/>
<line x1="346.69" y1="898.6" x2="352.49" y2="898.6" stroke="#333333" stroke-width="1.6"/>
<circle cx="349.59" cy="878" r="1.45" fill="#333333"/>
<circle cx="349.59" cy="879.9" r="1.45" fill="#333333"/>
<circle cx="349.59" cy="881.8" r="1.45" fill="#333333"/>
<circle cx="349.59" cy="883.7" r="1.45" fill="#333333"/>
<circle cx="349.59" cy="885.6" r="1.45" fill="#333333"/>
<circle cx="349.59" cy="887.5" r="1.45" fill="#333333"/>
<circle cx="349.59" cy="889.4" r="1.45" fill="#333333"/>
<circle cx="349.59" cy="891.3" r="1.45" fill="#333333"/>
<circle cx="349.59" cy="893.2" r="1.45" fill="#333333"/>
<line x1="346.59" y1="908.1" x2="346.59" y2="910.7" stroke="#9A9A9A" stroke-width="1"/>
<text x="349.59" y="916.5" font-size="10.4" text-anchor="end" fill="#2A2A2A" font-weight="normal" font-family='"Liberation Sans", sans-serif' transform="rotate(-48.96 349.59 916.5)">HHLA2</text>
<line x1="359.8" y1="896" x2="359.8" y2="898" stroke="#555" stroke-width="0.8"/>
<line x1="359.8" y1="900.4" x2="359.8" y2="901" stroke="#555" stroke-width="0.8"/>
<rect x="356.9" y="898" width="5.8" height="2.4" fill="#569E92" stroke="#333333" stroke-width="0.8"/>
<line x1="356.9" y1="899.4" x2="362.7" y2="899.4" stroke="#333333" stroke-width="1.6"/>
<circle cx="359.8" cy="891" r="1.45" fill="#333333"/>
<circle cx="359.8" cy="892.5" r="1.45" fill="#333333"/>
<circle cx="359.8" cy="894" r="1.45" fill="#333333"/>
<rect x="362.9" y="900" width="5.8" height="1" fill="#C2487D" stroke="#333333" stroke-width="0.8"/>
<line x1="362.9" y1="900.5" x2="368.7" y2="900.5" stroke="#333333" stroke-width="1.6"/>
<circle cx="365.8" cy="891.6" r="1.45" fill="#333333"/>
<circle cx="365.8" cy="897" r="1.45" fill="#333333"/>
<circle cx="365.8" cy="898.5" r="1.45" fill="#333333"/>
<line x1="362.8" y1="908.1" x2="362.8" y2="910.7" stroke="#9A9A9A" stroke-width="1"/>
<text x="365.8" y="916.5" font-size="10.4" text-anchor="end" fill="#2A2A2A" font-weight="normal" font-family='"Liberation Sans", sans-serif' transform="rotate(-49.04 365.8 916.5)">ICOS</text>
<line x1="376.01" y1="834" x2="376.01" y2="849.4" stroke="#555" stroke-width="0.8"/>
<line x1="376.01" y1="869.6" x2="376.01" y2="888" stroke="#555" stroke-width="0.8"/>
<rect x="373.11" y="849.4" width="5.8" height="20.2" fill="#569E92" stroke="#333333" stroke-width="0.8"/>
<line x1="373.11" y1="861" x2="378.91" y2="861" stroke="#333333" stroke-width="1.6"/>
<line x1="382.01" y1="833.5" x2="382.01" y2="858" stroke="#555" stroke-width="0.8"/>
<line x1="382.01" y1="874.6" x2="382.01" y2="892" stroke="#555" stroke-width="0.8"/>
<rect x="379.11" y="858" width="5.8" height="16.6" fill="#C2487D" stroke="#333333" stroke-width="0.8"/>
<line x1="379.11" y1="869" x2="384.91" y2="869" stroke="#333333" stroke-width="1.6"/>
<circle cx="382.01" cy="831.2" r="1.45" fill="#333333"/>
<line x1="379.01" y1="908.1" x2="379.01" y2="910.7" stroke="#9A9A9A" stroke-width="1"/>
<text x="382.01" y="916.5" font-size="10.4" text-anchor="end" fill="#2A2A2A" font-weight="normal" font-family='"Liberation Sans", sans-serif' transform="rotate(-49.12 382.01 916.5)">ICOSLG</text>
<line x1="392.22" y1="878" x2="392.22" y2="889" stroke="#555" stroke-width="0.8"/>
<line x1="392.22" y1="898.4" x2="392.22" y2="901" stroke="#555" stroke-width="0.8"/>
<rect x="389.32" y="889" width="5.8" height="9.4" fill="#569E92" stroke="#333333" stroke-width="0.8"/>
<line x1="389.32" y1="893" x2="395.12" y2="893" stroke="#333333" stroke-width="1.6"/>
<circle cx="392.22" cy="845" r="1.45" fill="#333333"/>
<circle cx="392.22" cy="850.6" r="1.45" fill="#333333"/>
<circle cx="392.22" cy="857" r="1.45" fill="#333333"/>
<circle cx="392.22" cy="870" r="1.45" fill="#333333"/>
<line x1="398.22" y1="890" x2="398.22" y2="898" stroke="#555" stroke-width="0.8"/>
<rect x="395.32" y="898" width="5.8" height="3.4" fill="#C2487D" stroke="#333333" stroke-width="0.8"/>
<line x1="395.32" y1="900" x2="401.12" y2="900" stroke="#333333" stroke-width="1.6"/>
<circle cx="398.22" cy="877" r="1.45" fill="#333333"/>
<circle cx="398.22" cy="878.9" r="1.45" fill="#333333"/>
<circle cx="398.22" cy="880.8" r="1.45" fill="#333333"/>
<circle cx="398.22" cy="882.7" r="1.45" fill="#333333"/>
<circle cx="398.22" cy="884.6" r="1.45" fill="#333333"/>
<circle cx="398.22" cy="886.5" r="1.45" fill="#333333"/>
<circle cx="398.22" cy="888.4" r="1.45" fill="#333333"/>
<circle cx="398.22" cy="890.3" r="1.45" fill="#333333"/>
<circle cx="398.22" cy="892.2" r="1.45" fill="#333333"/>
<line x1="395.22" y1="908.1" x2="395.22" y2="910.7" stroke="#9A9A9A" stroke-width="1"/>
<text x="398.22" y="916.5" font-size="10.4" text-anchor="end" fill="#2A2A2A" font-weight="normal" font-family='"Liberation Sans", sans-serif' transform="rotate(-49.19 398.22 916.5)">IDO1</text>
<line x1="408.43" y1="864" x2="408.43" y2="873.4" stroke="#555" stroke-width="0.8"/>
<line x1="408.43" y1="889.4" x2="408.43" y2="898" stroke="#555" stroke-width="0.8"/>
<rect x="405.53" y="873.4" width="5.8" height="16" fill="#569E92" stroke="#333333" stroke-width="0.8"/>
<line x1="405.53" y1="881.6" x2="411.33" y2="881.6" stroke="#333333" stroke-width="1.6"/>
<circle cx="408.43" cy="846" r="1.45" fill="#333333"/>
<line x1="414.43" y1="880" x2="414.43" y2="887.6" stroke="#555" stroke-width="0.8"/>
<line x1="414.43" y1="894.4" x2="414.43" y2="900" stroke="#555" stroke-width="0.8"/>
<rect x="411.53" y="887.6" width="5.8" height="6.8" fill="#C2487D" stroke="#333333" stroke-width="0.8"/>
<line x1="411.53" y1="891.6" x2="417.33" y2="891.6" stroke="#333333" stroke-width="1.6"/>
<circle cx="414.43" cy="865" r="1.45" fill="#333333"/>
<circle cx="414.43" cy="866.9" r="1.45" fill="#333333"/>
<circle cx="414.43" cy="868.8" r="1.45" fill="#333333"/>
<circle cx="414.43" cy="870.7" r="1.45" fill="#333333"/>
<circle cx="414.43" cy="872.6" r="1.45" fill="#333333"/>
<circle cx="414.43" cy="874.5" r="1.45" fill="#333333"/>
<circle cx="414.43" cy="876.4" r="1.45" fill="#333333"/>
<circle cx="414.43" cy="878.3" r="1.45" fill="#333333"/>
<line x1="411.43" y1="908.1" x2="411.43" y2="910.7" stroke="#9A9A9A" stroke-width="1"/>
<text x="414.43" y="916.5" font-size="10.4" text-anchor="end" fill="#2A2A2A" font-weight="normal" font-family='"Liberation Sans", sans-serif' transform="rotate(-49.27 414.43 916.5)">LAG3</text>
<line x1="424.64" y1="809.4" x2="424.64" y2="828" stroke="#555" stroke-width="0.8"/>
<line x1="424.64" y1="849.4" x2="424.64" y2="879" stroke="#555" stroke-width="0.8"/>
<rect x="421.74" y="828" width="5.8" height="21.4" fill="#569E92" stroke="#333333" stroke-width="0.8"/>
<line x1="421.74" y1="838.4" x2="427.54" y2="838.4" stroke="#333333" stroke-width="1.6"/>
<line x1="430.64" y1="828" x2="430.64" y2="845.6" stroke="#555" stroke-width="0.8"/>
<line x1="430.64" y1="858.6" x2="430.64" y2="875.6" stroke="#555" stroke-width="0.8"/>
<rect x="427.74" y="845.6" width="5.8" height="13" fill="#C2487D" stroke="#333333" stroke-width="0.8"/>
<line x1="427.74" y1="851.4" x2="433.54" y2="851.4" stroke="#333333" stroke-width="1.6"/>
<circle cx="430.64" cy="821" r="1.45" fill="#333333"/>
<line x1="427.64" y1="908.1" x2="427.64" y2="910.7" stroke="#9A9A9A" stroke-width="1"/>
<text x="430.64" y="916.5" font-size="10.4" text-anchor="end" fill="#2A2A2A" font-weight="normal" font-family='"Liberation Sans", sans-serif' transform="rotate(-49.35 430.64 916.5)">LAIR1</text>
<line x1="440.85" y1="790" x2="440.85" y2="809" stroke="#555" stroke-width="0.8"/>
<line x1="440.85" y1="831.4" x2="440.85" y2="863.6" stroke="#555" stroke-width="0.8"/>
<rect x="437.95" y="809" width="5.8" height="22.4" fill="#569E92" stroke="#333333" stroke-width="0.8"/>
<line x1="437.95" y1="822.6" x2="443.75" y2="822.6" stroke="#333333" stroke-width="1.6"/>
<line x1="446.85" y1="799.4" x2="446.85" y2="822" stroke="#555" stroke-width="0.8"/>
<line x1="446.85" y1="838.6" x2="446.85" y2="857.6" stroke="#555" stroke-width="0.8"/>
<rect x="443.95" y="822" width="5.8" height="16.6" fill="#C2487D" stroke="#333333" stroke-width="0.8"/>
<line x1="443.95" y1="830.4" x2="449.75" y2="830.4" stroke="#333333" stroke-width="1.6"/>
<circle cx="446.85" cy="791" r="1.45" fill="#333333"/>
<circle cx="446.85" cy="795.6" r="1.45" fill="#333333"/>
<line x1="443.85" y1="908.1" x2="443.85" y2="910.7" stroke="#9A9A9A" stroke-width="1"/>
<text x="446.85" y="916.5" font-size="10.4" text-anchor="end" fill="#2A2A2A" font-weight="normal" font-family='"Liberation Sans", sans-serif' transform="rotate(-49.42 446.85 916.5)">LGALS9</text>
<line x1="457.06" y1="805.6" x2="457.06" y2="826" stroke="#555" stroke-width="0.8"/>
<line x1="457.06" y1="843.6" x2="457.06" y2="869.6" stroke="#555" stroke-width="0.8"/>
<rect x="454.16" y="826" width="5.8" height="17.6" fill="#569E92" stroke="#333333" stroke-width="0.8"/>
<line x1="454.16" y1="836" x2="459.96" y2="836" stroke="#333333" stroke-width="1.6"/>
<line x1="463.06" y1="832" x2="463.06" y2="848.6" stroke="#555" stroke-width="0.8"/>
<line x1="463.06" y1="859.6" x2="463.06" y2="872" stroke="#555" stroke-width="0.8"/>
<rect x="460.16" y="848.6" width="5.8" height="11" fill="#C2487D" stroke="#333333" stroke-width="0.8"/>
<line x1="460.16" y1="854.6" x2="465.96" y2="854.6" stroke="#333333" stroke-width="1.6"/>
<circle cx="463.06" cy="827" r="1.45" fill="#333333"/>
<circle cx="463.06" cy="829" r="1.45" fill="#333333"/>
<circle cx="463.06" cy="831" r="1.45" fill="#333333"/>
<circle cx="463.06" cy="875.6" r="1.45" fill="#333333"/>
<circle cx="463.06" cy="877" r="1.45" fill="#333333"/>
<circle cx="463.06" cy="879" r="1.45" fill="#333333"/>
<line x1="460.06" y1="908.1" x2="460.06" y2="910.7" stroke="#9A9A9A" stroke-width="1"/>
<text x="463.06" y="916.5" font-size="10.4" text-anchor="end" fill="#2A2A2A" font-weight="normal" font-family='"Liberation Sans", sans-serif' transform="rotate(-49.5 463.06 916.5)">NRP1</text>
<line x1="473.27" y1="888" x2="473.27" y2="893" stroke="#555" stroke-width="0.8"/>
<line x1="473.27" y1="898.4" x2="473.27" y2="901" stroke="#555" stroke-width="0.8"/>
<rect x="470.37" y="893" width="5.8" height="5.4" fill="#569E92" stroke="#333333" stroke-width="0.8"/>
<line x1="470.37" y1="896" x2="476.17" y2="896" stroke="#333333" stroke-width="1.6"/>
<circle cx="473.27" cy="884.4" r="1.45" fill="#333333"/>
<line x1="479.27" y1="895" x2="479.27" y2="897" stroke="#555" stroke-width="0.8"/>
<line x1="479.27" y1="900.6" x2="479.27" y2="901" stroke="#555" stroke-width="0.8"/>
<rect x="476.37" y="897" width="5.8" height="3.6" fill="#C2487D" stroke="#333333" stroke-width="0.8"/>
<line x1="476.37" y1="899" x2="482.17" y2="899" stroke="#333333" stroke-width="1.6"/>
<circle cx="479.27" cy="866" r="1.45" fill="#333333"/>
<circle cx="479.27" cy="872.6" r="1.45" fill="#333333"/>
<circle cx="479.27" cy="884" r="1.45" fill="#333333"/>
<circle cx="479.27" cy="885.9" r="1.45" fill="#333333"/>
<circle cx="479.27" cy="887.8" r="1.45" fill="#333333"/>
<circle cx="479.27" cy="889.7" r="1.45" fill="#333333"/>
<circle cx="479.27" cy="891.6" r="1.45" fill="#333333"/>
<line x1="476.27" y1="908.1" x2="476.27" y2="910.7" stroke="#9A9A9A" stroke-width="1"/>
<text x="479.27" y="916.5" font-size="10.4" text-anchor="end" fill="#2A2A2A" font-weight="normal" font-family='"Liberation Sans", sans-serif' transform="rotate(-49.58 479.27 916.5)">PDCD1</text>
<line x1="489.48" y1="863" x2="489.48" y2="878" stroke="#555" stroke-width="0.8"/>
<line x1="489.48" y1="893.4" x2="489.48" y2="900" stroke="#555" stroke-width="0.8"/>
<rect x="486.58" y="878" width="5.8" height="15.4" fill="#569E92" stroke="#333333" stroke-width="0.8"/>
<line x1="486.58" y1="886.6" x2="492.38" y2="886.6" stroke="#333333" stroke-width="1.6"/>
<line x1="495.48" y1="885" x2="495.48" y2="891" stroke="#555" stroke-width="0.8"/>
<line x1="495.48" y1="896.4" x2="495.48" y2="901" stroke="#555" stroke-width="0.8"/>
<rect x="492.58" y="891" width="5.8" height="5.4" fill="#C2487D" stroke="#333333" stroke-width="0.8"/>
<line x1="492.58" y1="893" x2="498.38" y2="893" stroke="#333333" stroke-width="1.6"/>
<circle cx="495.48" cy="874" r="1.45" fill="#333333"/>
<circle cx="495.48" cy="875.9" r="1.45" fill="#333333"/>
<circle cx="495.48" cy="877.8" r="1.45" fill="#333333"/>
<circle cx="495.48" cy="879.7" r="1.45" fill="#333333"/>
<circle cx="495.48" cy="881.6" r="1.45" fill="#333333"/>
<circle cx="495.48" cy="883.5" r="1.45" fill="#333333"/>
<line x1="492.48" y1="908.1" x2="492.48" y2="910.7" stroke="#9A9A9A" stroke-width="1"/>
<text x="495.48" y="916.5" font-size="10.4" text-anchor="end" fill="#2A2A2A" font-weight="normal" font-family='"Liberation Sans", sans-serif' transform="rotate(-49.65 495.48 916.5)">PDCD1LG2</text>
<line x1="505.69" y1="875" x2="505.69" y2="889" stroke="#555" stroke-width="0.8"/>
<line x1="505.69" y1="898.4" x2="505.69" y2="901" stroke="#555" stroke-width="0.8"/>
<rect x="502.79" y="889" width="5.8" height="9.4" fill="#569E92" stroke="#333333" stroke-width="0.8"/>
<line x1="502.79" y1="895.4" x2="508.59" y2="895.4" stroke="#333333" stroke-width="1.6"/>
<circle cx="505.69" cy="872" r="1.45" fill="#333333"/>
<line x1="511.69" y1="875" x2="511.69" y2="888" stroke="#555" stroke-width="0.8"/>
<line x1="511.69" y1="898.4" x2="511.69" y2="901" stroke="#555" stroke-width="0.8"/>
<rect x="508.79" y="888" width="5.8" height="10.4" fill="#C2487D" stroke="#333333" stroke-width="0.8"/>
<line x1="508.79" y1="895" x2="514.59" y2="895" stroke="#333333" stroke-width="1.6"/>
<circle cx="511.69" cy="866" r="1.45" fill="#333333"/>
<circle cx="511.69" cy="868" r="1.45" fill="#333333"/>
<circle cx="511.69" cy="870" r="1.45" fill="#333333"/>
<line x1="508.69" y1="908.1" x2="508.69" y2="910.7" stroke="#9A9A9A" stroke-width="1"/>
<text x="511.69" y="916.5" font-size="10.4" text-anchor="end" fill="#2A2A2A" font-weight="normal" font-family='"Liberation Sans", sans-serif' transform="rotate(-49.73 511.69 916.5)">TIGIT</text>
<line x1="521.9" y1="830" x2="521.9" y2="844.4" stroke="#555" stroke-width="0.8"/>
<line x1="521.9" y1="857" x2="521.9" y2="864" stroke="#555" stroke-width="0.8"/>
<rect x="519" y="844.4" width="5.8" height="12.6" fill="#569E92" stroke="#333333" stroke-width="0.8"/>
<line x1="519" y1="850.4" x2="524.8" y2="850.4" stroke="#333333" stroke-width="1.6"/>
<line x1="527.9" y1="844" x2="527.9" y2="854.4" stroke="#555" stroke-width="0.8"/>
<line x1="527.9" y1="863.6" x2="527.9" y2="874" stroke="#555" stroke-width="0.8"/>
<rect x="525" y="854.4" width="5.8" height="9.2" fill="#C2487D" stroke="#333333" stroke-width="0.8"/>
<line x1="525" y1="859.4" x2="530.8" y2="859.4" stroke="#333333" stroke-width="1.6"/>
<circle cx="527.9" cy="838" r="1.45" fill="#333333"/>
<circle cx="527.9" cy="840" r="1.45" fill="#333333"/>
<circle cx="527.9" cy="841.5" r="1.45" fill="#333333"/>
<circle cx="527.9" cy="879.6" r="1.45" fill="#333333"/>
<line x1="524.9" y1="908.1" x2="524.9" y2="910.7" stroke="#9A9A9A" stroke-width="1"/>
<text x="527.9" y="916.5" font-size="10.4" text-anchor="end" fill="#2A2A2A" font-weight="normal" font-family='"Liberation Sans", sans-serif' transform="rotate(-49.81 527.9 916.5)">TNFRSF14</text>
<line x1="538.11" y1="881" x2="538.11" y2="889" stroke="#555" stroke-width="0.8"/>
<line x1="538.11" y1="897" x2="538.11" y2="901" stroke="#555" stroke-width="0.8"/>
<rect x="535.21" y="889" width="5.8" height="8" fill="#569E92" stroke="#333333" stroke-width="0.8"/>
<line x1="535.21" y1="892" x2="541.01" y2="892" stroke="#333333" stroke-width="1.6"/>
<circle cx="538.11" cy="861" r="1.45" fill="#333333"/>
<circle cx="538.11" cy="875" r="1.45" fill="#333333"/>
<circle cx="538.11" cy="876.5" r="1.45" fill="#333333"/>
<circle cx="538.11" cy="878" r="1.45" fill="#333333"/>
<line x1="544.11" y1="882" x2="544.11" y2="891.4" stroke="#555" stroke-width="0.8"/>
<line x1="544.11" y1="898.6" x2="544.11" y2="901" stroke="#555" stroke-width="0.8"/>
<rect x="541.21" y="891.4" width="5.8" height="7.2" fill="#C2487D" stroke="#333333" stroke-width="0.8"/>
<line x1="541.21" y1="895" x2="547.01" y2="895" stroke="#333333" stroke-width="1.6"/>
<circle cx="544.11" cy="874.4" r="1.45" fill="#333333"/>
<circle cx="544.11" cy="876.3" r="1.45" fill="#333333"/>
<circle cx="544.11" cy="878.2" r="1.45" fill="#333333"/>
<line x1="541.11" y1="908.1" x2="541.11" y2="910.7" stroke="#9A9A9A" stroke-width="1"/>
<text x="544.11" y="916.5" font-size="10.4" text-anchor="end" fill="#2A2A2A" font-weight="normal" font-family='"Liberation Sans", sans-serif' transform="rotate(-49.88 544.11 916.5)">TNFRSF18</text>
<line x1="554.32" y1="850.4" x2="554.32" y2="872.4" stroke="#555" stroke-width="0.8"/>
<line x1="554.32" y1="888" x2="554.32" y2="899" stroke="#555" stroke-width="0.8"/>
<rect x="551.42" y="872.4" width="5.8" height="15.6" fill="#569E92" stroke="#333333" stroke-width="0.8"/>
<line x1="551.42" y1="881.6" x2="557.22" y2="881.6" stroke="#333333" stroke-width="1.6"/>
<line x1="560.32" y1="878" x2="560.32" y2="888.4" stroke="#555" stroke-width="0.8"/>
<line x1="560.32" y1="896.4" x2="560.32" y2="901" stroke="#555" stroke-width="0.8"/>
<rect x="557.42" y="888.4" width="5.8" height="8" fill="#C2487D" stroke="#333333" stroke-width="0.8"/>
<line x1="557.42" y1="892.4" x2="563.22" y2="892.4" stroke="#333333" stroke-width="1.6"/>
<circle cx="560.32" cy="870" r="1.45" fill="#333333"/>
<circle cx="560.32" cy="871.9" r="1.45" fill="#333333"/>
<circle cx="560.32" cy="873.8" r="1.45" fill="#333333"/>
<circle cx="560.32" cy="875.7" r="1.45" fill="#333333"/>
<line x1="557.32" y1="908.1" x2="557.32" y2="910.7" stroke="#9A9A9A" stroke-width="1"/>
<text x="560.32" y="916.5" font-size="10.4" text-anchor="end" fill="#2A2A2A" font-weight="normal" font-family='"Liberation Sans", sans-serif' transform="rotate(-49.96 560.32 916.5)">TNFRSF4</text>
<line x1="570.53" y1="888" x2="570.53" y2="893" stroke="#555" stroke-width="0.8"/>
<line x1="570.53" y1="898" x2="570.53" y2="901" stroke="#555" stroke-width="0.8"/>
<rect x="567.63" y="893" width="5.8" height="5" fill="#569E92" stroke="#333333" stroke-width="0.8"/>
<line x1="567.63" y1="895.6" x2="573.43" y2="895.6" stroke="#333333" stroke-width="1.6"/>
<circle cx="570.53" cy="853" r="1.45" fill="#333333"/>
<circle cx="570.53" cy="857.4" r="1.45" fill="#333333"/>
<circle cx="570.53" cy="867" r="1.45" fill="#333333"/>
<circle cx="570.53" cy="884" r="1.45" fill="#333333"/>
<line x1="576.53" y1="894" x2="576.53" y2="896.4" stroke="#555" stroke-width="0.8"/>
<line x1="576.53" y1="900" x2="576.53" y2="901" stroke="#555" stroke-width="0.8"/>
<rect x="573.63" y="896.4" width="5.8" height="3.6" fill="#C2487D" stroke="#333333" stroke-width="0.8"/>
<line x1="573.63" y1="898" x2="579.43" y2="898" stroke="#333333" stroke-width="1.6"/>
<circle cx="576.53" cy="857.4" r="1.45" fill="#333333"/>
<circle cx="576.53" cy="863.6" r="1.45" fill="#333333"/>
<circle cx="576.53" cy="873" r="1.45" fill="#333333"/>
<circle cx="576.53" cy="880" r="1.45" fill="#333333"/>
<circle cx="576.53" cy="881.9" r="1.45" fill="#333333"/>
<circle cx="576.53" cy="883.8" r="1.45" fill="#333333"/>
<circle cx="576.53" cy="885.7" r="1.45" fill="#333333"/>
<line x1="573.53" y1="908.1" x2="573.53" y2="910.7" stroke="#9A9A9A" stroke-width="1"/>
<text x="576.53" y="916.5" font-size="10.4" text-anchor="end" fill="#2A2A2A" font-weight="normal" font-family='"Liberation Sans", sans-serif' transform="rotate(-50.04 576.53 916.5)">TNFRSF8</text>
<line x1="586.74" y1="897" x2="586.74" y2="898" stroke="#555" stroke-width="0.8"/>
<line x1="586.74" y1="900" x2="586.74" y2="901" stroke="#555" stroke-width="0.8"/>
<rect x="583.84" y="898" width="5.8" height="2" fill="#569E92" stroke="#333333" stroke-width="0.8"/>
<line x1="583.84" y1="899" x2="589.64" y2="899" stroke="#333333" stroke-width="1.6"/>
<circle cx="586.74" cy="891.6" r="1.45" fill="#333333"/>
<circle cx="586.74" cy="893.5" r="1.45" fill="#333333"/>
<rect x="589.84" y="900" width="5.8" height="1" fill="#C2487D" stroke="#333333" stroke-width="0.8"/>
<line x1="589.84" y1="900.5" x2="595.64" y2="900.5" stroke="#333333" stroke-width="1.6"/>
<circle cx="592.74" cy="894" r="1.45" fill="#333333"/>
<circle cx="592.74" cy="895.9" r="1.45" fill="#333333"/>
<circle cx="592.74" cy="897.8" r="1.45" fill="#333333"/>
<line x1="589.74" y1="908.1" x2="589.74" y2="910.7" stroke="#9A9A9A" stroke-width="1"/>
<text x="592.74" y="916.5" font-size="10.4" text-anchor="end" fill="#2A2A2A" font-weight="normal" font-family='"Liberation Sans", sans-serif' transform="rotate(-50.12 592.74 916.5)">TNFRSF9</text>
<line x1="602.95" y1="868.4" x2="602.95" y2="886" stroke="#555" stroke-width="0.8"/>
<line x1="602.95" y1="898.6" x2="602.95" y2="901" stroke="#555" stroke-width="0.8"/>
<rect x="600.05" y="886" width="5.8" height="12.6" fill="#569E92" stroke="#333333" stroke-width="0.8"/>
<line x1="600.05" y1="894" x2="605.85" y2="894" stroke="#333333" stroke-width="1.6"/>
<line x1="608.95" y1="895" x2="608.95" y2="897.4" stroke="#555" stroke-width="0.8"/>
<line x1="608.95" y1="900.6" x2="608.95" y2="901" stroke="#555" stroke-width="0.8"/>
<rect x="606.05" y="897.4" width="5.8" height="3.2" fill="#C2487D" stroke="#333333" stroke-width="0.8"/>
<line x1="606.05" y1="898.6" x2="611.85" y2="898.6" stroke="#333333" stroke-width="1.6"/>
<circle cx="608.95" cy="880" r="1.45" fill="#333333"/>
<circle cx="608.95" cy="881.9" r="1.45" fill="#333333"/>
<circle cx="608.95" cy="883.8" r="1.45" fill="#333333"/>
<circle cx="608.95" cy="885.7" r="1.45" fill="#333333"/>
<circle cx="608.95" cy="887.6" r="1.45" fill="#333333"/>
<circle cx="608.95" cy="889.5" r="1.45" fill="#333333"/>
<circle cx="608.95" cy="891.4" r="1.45" fill="#333333"/>
<line x1="605.95" y1="908.1" x2="605.95" y2="910.7" stroke="#9A9A9A" stroke-width="1"/>
<text x="608.95" y="916.5" font-size="10.4" text-anchor="end" fill="#2A2A2A" font-weight="normal" font-family='"Liberation Sans", sans-serif' transform="rotate(-50.19 608.95 916.5)">TNFSF14</text>
<line x1="619.16" y1="896" x2="619.16" y2="897.4" stroke="#555" stroke-width="0.8"/>
<line x1="619.16" y1="899.4" x2="619.16" y2="901" stroke="#555" stroke-width="0.8"/>
<rect x="616.26" y="897.4" width="5.8" height="2" fill="#569E92" stroke="#333333" stroke-width="0.8"/>
<line x1="616.26" y1="898.4" x2="622.06" y2="898.4" stroke="#333333" stroke-width="1.6"/>
<circle cx="619.16" cy="889" r="1.45" fill="#333333"/>
<circle cx="619.16" cy="890.9" r="1.45" fill="#333333"/>
<circle cx="619.16" cy="892.8" r="1.45" fill="#333333"/>
<line x1="625.16" y1="897" x2="625.16" y2="898.4" stroke="#555" stroke-width="0.8"/>
<line x1="625.16" y1="900.6" x2="625.16" y2="901" stroke="#555" stroke-width="0.8"/>
<rect x="622.26" y="898.4" width="5.8" height="2.2" fill="#C2487D" stroke="#333333" stroke-width="0.8"/>
<line x1="622.26" y1="899.6" x2="628.06" y2="899.6" stroke="#333333" stroke-width="1.6"/>
<circle cx="625.16" cy="891" r="1.45" fill="#333333"/>
<circle cx="625.16" cy="892.9" r="1.45" fill="#333333"/>
<circle cx="625.16" cy="894.8" r="1.45" fill="#333333"/>
<circle cx="625.16" cy="896.7" r="1.45" fill="#333333"/>
<line x1="622.16" y1="908.1" x2="622.16" y2="910.7" stroke="#9A9A9A" stroke-width="1"/>
<text x="625.16" y="916.5" font-size="10.4" text-anchor="end" fill="#2A2A2A" font-weight="normal" font-family='"Liberation Sans", sans-serif' transform="rotate(-50.27 625.16 916.5)">TNFSF15</text>
<line x1="635.37" y1="880" x2="635.37" y2="887" stroke="#555" stroke-width="0.8"/>
<line x1="635.37" y1="892.4" x2="635.37" y2="899" stroke="#555" stroke-width="0.8"/>
<rect x="632.47" y="887" width="5.8" height="5.4" fill="#569E92" stroke="#333333" stroke-width="0.8"/>
<line x1="632.47" y1="889.6" x2="638.27" y2="889.6" stroke="#333333" stroke-width="1.6"/>
<circle cx="635.37" cy="871.6" r="1.45" fill="#333333"/>
<circle cx="635.37" cy="873.5" r="1.45" fill="#333333"/>
<circle cx="635.37" cy="875.4" r="1.45" fill="#333333"/>
<line x1="641.37" y1="883" x2="641.37" y2="889" stroke="#555" stroke-width="0.8"/>
<line x1="641.37" y1="893.4" x2="641.37" y2="899" stroke="#555" stroke-width="0.8"/>
<rect x="638.47" y="889" width="5.8" height="4.4" fill="#C2487D" stroke="#333333" stroke-width="0.8"/>
<line x1="638.47" y1="891.4" x2="644.27" y2="891.4" stroke="#333333" stroke-width="1.6"/>
<circle cx="641.37" cy="876" r="1.45" fill="#333333"/>
<circle cx="641.37" cy="877.9" r="1.45" fill="#333333"/>
<circle cx="641.37" cy="879.8" r="1.45" fill="#333333"/>
<circle cx="641.37" cy="881.7" r="1.45" fill="#333333"/>
<line x1="638.37" y1="908.1" x2="638.37" y2="910.7" stroke="#9A9A9A" stroke-width="1"/>
<text x="641.37" y="916.5" font-size="10.4" text-anchor="end" fill="#2A2A2A" font-weight="normal" font-family='"Liberation Sans", sans-serif' transform="rotate(-50.35 641.37 916.5)">TNFSF4</text>
<line x1="651.58" y1="876.4" x2="651.58" y2="886" stroke="#555" stroke-width="0.8"/>
<line x1="651.58" y1="895.4" x2="651.58" y2="900" stroke="#555" stroke-width="0.8"/>
<rect x="648.68" y="886" width="5.8" height="9.4" fill="#569E92" stroke="#333333" stroke-width="0.8"/>
<line x1="648.68" y1="890" x2="654.48" y2="890" stroke="#333333" stroke-width="1.6"/>
<circle cx="651.58" cy="851.4" r="1.45" fill="#333333"/>
<circle cx="651.58" cy="862" r="1.45" fill="#333333"/>
<circle cx="651.58" cy="870.4" r="1.45" fill="#333333"/>
<line x1="657.58" y1="876" x2="657.58" y2="886.4" stroke="#555" stroke-width="0.8"/>
<line x1="657.58" y1="894.4" x2="657.58" y2="900" stroke="#555" stroke-width="0.8"/>
<rect x="654.68" y="886.4" width="5.8" height="8" fill="#C2487D" stroke="#333333" stroke-width="0.8"/>
<line x1="654.68" y1="890.4" x2="660.48" y2="890.4" stroke="#333333" stroke-width="1.6"/>
<circle cx="657.58" cy="856" r="1.45" fill="#333333"/>
<circle cx="657.58" cy="873" r="1.45" fill="#333333"/>
<line x1="654.58" y1="908.1" x2="654.58" y2="910.7" stroke="#9A9A9A" stroke-width="1"/>
<text x="657.58" y="916.5" font-size="10.4" text-anchor="end" fill="#2A2A2A" font-weight="normal" font-family='"Liberation Sans", sans-serif' transform="rotate(-50.42 657.58 916.5)">TNFSF9</text>
<line x1="667.79" y1="882" x2="667.79" y2="891.4" stroke="#555" stroke-width="0.8"/>
<line x1="667.79" y1="898.4" x2="667.79" y2="901" stroke="#555" stroke-width="0.8"/>
<rect x="664.89" y="891.4" width="5.8" height="7" fill="#569E92" stroke="#333333" stroke-width="0.8"/>
<line x1="664.89" y1="894.4" x2="670.69" y2="894.4" stroke="#333333" stroke-width="1.6"/>
<circle cx="667.79" cy="873.4" r="1.45" fill="#333333"/>
<circle cx="667.79" cy="875.3" r="1.45" fill="#333333"/>
<circle cx="667.79" cy="877.2" r="1.45" fill="#333333"/>
<circle cx="667.79" cy="879.1" r="1.45" fill="#333333"/>
<circle cx="667.79" cy="881" r="1.45" fill="#333333"/>
<line x1="673.79" y1="882" x2="673.79" y2="893" stroke="#555" stroke-width="0.8"/>
<line x1="673.79" y1="898.4" x2="673.79" y2="901" stroke="#555" stroke-width="0.8"/>
<rect x="670.89" y="893" width="5.8" height="5.4" fill="#C2487D" stroke="#333333" stroke-width="0.8"/>
<line x1="670.89" y1="896" x2="676.69" y2="896" stroke="#333333" stroke-width="1.6"/>
<circle cx="673.79" cy="874.4" r="1.45" fill="#333333"/>
<circle cx="673.79" cy="876.3" r="1.45" fill="#333333"/>
<circle cx="673.79" cy="878.2" r="1.45" fill="#333333"/>
<circle cx="673.79" cy="880.1" r="1.45" fill="#333333"/>
<circle cx="673.79" cy="882" r="1.45" fill="#333333"/>
<line x1="670.79" y1="908.1" x2="670.79" y2="910.7" stroke="#9A9A9A" stroke-width="1"/>
<text x="673.79" y="916.5" font-size="10.4" text-anchor="end" fill="#2A2A2A" font-weight="normal" font-family='"Liberation Sans", sans-serif' transform="rotate(-50.5 673.79 916.5)">VTCN1</text>
<text x="89.6" y="749" font-size="10" text-anchor="middle" fill="#222" font-weight="normal" font-family='"Liberation Sans", sans-serif'>***</text>
<text x="106.5" y="749" font-size="10" text-anchor="middle" fill="#222" font-weight="normal" font-family='"Liberation Sans", sans-serif'>****</text>
<text x="123.6" y="749" font-size="10" text-anchor="middle" fill="#222" font-weight="normal" font-family='"Liberation Sans", sans-serif'>****</text>
<text x="154.8" y="749" font-size="10" text-anchor="middle" fill="#222" font-weight="normal" font-family='"Liberation Sans", sans-serif'>****</text>
<text x="169.8" y="749" font-size="10" text-anchor="middle" fill="#222" font-weight="normal" font-family='"Liberation Sans", sans-serif'>**</text>
<text x="183.2" y="749" font-size="10" text-anchor="middle" fill="#222" font-weight="normal" font-family='"Liberation Sans", sans-serif'>****</text>
<text x="201" y="749" font-size="10" text-anchor="middle" fill="#222" font-weight="normal" font-family='"Liberation Sans", sans-serif'>****</text>
<text x="230.3" y="749" font-size="10" text-anchor="middle" fill="#222" font-weight="normal" font-family='"Liberation Sans", sans-serif'>****</text>
<text x="251" y="749" font-size="10" text-anchor="middle" fill="#222" font-weight="normal" font-family='"Liberation Sans", sans-serif'>****</text>
<text x="267.4" y="749" font-size="10" text-anchor="middle" fill="#222" font-weight="normal" font-family='"Liberation Sans", sans-serif'>**</text>
<text x="280" y="749" font-size="10" text-anchor="middle" fill="#222" font-weight="normal" font-family='"Liberation Sans", sans-serif'>**</text>
<text x="295.4" y="749" font-size="10" text-anchor="middle" fill="#222" font-weight="normal" font-family='"Liberation Sans", sans-serif'>***</text>
<text x="329" y="749" font-size="10" text-anchor="middle" fill="#222" font-weight="normal" font-family='"Liberation Sans", sans-serif'>***</text>
<text x="362.2" y="749" font-size="10" text-anchor="middle" fill="#222" font-weight="normal" font-family='"Liberation Sans", sans-serif'>****</text>
<text x="377.1" y="749" font-size="10" text-anchor="middle" fill="#222" font-weight="normal" font-family='"Liberation Sans", sans-serif'>**</text>
<text x="394.7" y="749" font-size="10" text-anchor="middle" fill="#222" font-weight="normal" font-family='"Liberation Sans", sans-serif'>****</text>
<text x="412.4" y="749" font-size="10" text-anchor="middle" fill="#222" font-weight="normal" font-family='"Liberation Sans", sans-serif'>****</text>
<text x="432.1" y="749" font-size="10" text-anchor="middle" fill="#222" font-weight="normal" font-family='"Liberation Sans", sans-serif'>****</text>
<text x="447.1" y="749" font-size="10" text-anchor="middle" fill="#222" font-weight="normal" font-family='"Liberation Sans", sans-serif'>***</text>
<text x="462.8" y="749" font-size="10" text-anchor="middle" fill="#222" font-weight="normal" font-family='"Liberation Sans", sans-serif'>****</text>
<text x="478" y="749" font-size="10" text-anchor="middle" fill="#222" font-weight="normal" font-family='"Liberation Sans", sans-serif'>**</text>
<text x="493" y="749" font-size="10" text-anchor="middle" fill="#222" font-weight="normal" font-family='"Liberation Sans", sans-serif'>****</text>
<text x="524.2" y="749" font-size="10" text-anchor="middle" fill="#222" font-weight="normal" font-family='"Liberation Sans", sans-serif'>****</text>
<text x="540.1" y="749" font-size="10" text-anchor="middle" fill="#222" font-weight="normal" font-family='"Liberation Sans", sans-serif'>**</text>
<text x="556.3" y="749" font-size="10" text-anchor="middle" fill="#222" font-weight="normal" font-family='"Liberation Sans", sans-serif'>****</text>
<text x="573.2" y="749" font-size="10" text-anchor="middle" fill="#222" font-weight="normal" font-family='"Liberation Sans", sans-serif'>*</text>
<text x="587.8" y="749" font-size="10" text-anchor="middle" fill="#222" font-weight="normal" font-family='"Liberation Sans", sans-serif'>****</text>
<text x="606.2" y="749" font-size="10" text-anchor="middle" fill="#222" font-weight="normal" font-family='"Liberation Sans", sans-serif'>****</text>
<text x="622.8" y="749" font-size="10" text-anchor="middle" fill="#222" font-weight="normal" font-family='"Liberation Sans", sans-serif'>***</text>
<text x="636.4" y="749" font-size="10" text-anchor="middle" fill="#222" font-weight="normal" font-family='"Liberation Sans", sans-serif'>**</text>
<line x1="633.1" y1="787.3" x2="633.1" y2="803.1" stroke="#333333" stroke-width="0.9"/>
<rect x="625.4" y="789.8" width="15.4" height="10.8" fill="#569E92" stroke="#333333" stroke-width="0.9"/>
<line x1="625.4" y1="795.2" x2="640.8" y2="795.2" stroke="#333333" stroke-width="1.6"/>
<text x="644" y="798.3" font-size="10.2" text-anchor="start" fill="#222" font-weight="normal" font-family='"Liberation Sans", sans-serif'>ECM1</text>
<line x1="633.1" y1="805.5" x2="633.1" y2="821.3" stroke="#333333" stroke-width="0.9"/>
<rect x="625.4" y="808" width="15.4" height="10.8" fill="#C2487D" stroke="#333333" stroke-width="0.9"/>
<line x1="625.4" y1="813.4" x2="640.8" y2="813.4" stroke="#333333" stroke-width="1.6"/>
<text x="644" y="816.5" font-size="10.2" text-anchor="start" fill="#222" font-weight="normal" font-family='"Liberation Sans", sans-serif'>ECM2</text>
</svg>
<div class="hm">
<div style="left:64.6px;top:542px;width:203.2px;height:10.89px;background:linear-gradient(90deg,#D2D5EA 0 1.35px,#E95056 0 2.69px,#F1C4CA 0 4.04px,#FDF8F9 0 5.38px,#E1E3F1 0 6.73px,#FDF7F8 0 8.07px,#7B84C1 0 9.42px,#F8E0E4 0 10.76px,#E1E3F1 0 12.11px,#ADB2D9 0 13.45px,#FDFDFE 0 14.8px,#EDACB4 0 16.14px,#FDFDFE 0 17.49px,#EDAAB2 0 18.83px,#ECEEF6 0 20.18px,#E7E8F4 0 21.52px,#E56C77 0 22.87px,#F7DBDF 0 24.21px,#EEEFF7 0 25.56px,#C1C5E3 0 26.9px,#FBEFF0 0 28.25px,#FAEBED 0 29.59px,#F8F8FC 0 30.94px,#FAEAEC 0 32.28px,#ECA5AD 0 33.63px,#F9E4E7 0 34.97px,#F8E1E4 0 36.32px,#EDABB3 0 37.66px,#FDF6F7 0 39.01px,#FFFDFD 0 40.35px,#C3C8E4 0 41.7px,#F0BCC3 0 43.05px,#FFFFFF 0 44.39px,#BABEDF 0 45.74px,#D4D7EB 0 47.08px,#FEFCFD 0 48.43px,#E56570 0 49.77px,#C5C9E5 0 51.12px,#F6D9DD 0 52.46px,#FCFDFE 0 53.81px,#FBF0F1 0 55.15px,#EEAFB6 0 56.5px,#EAEBF5 0 57.84px,#EA99A2 0 59.19px,#F8E3E6 0 60.53px,#CED2E9 0 61.88px,#EAEBF5 0 63.22px,#F5F6FB 0 64.57px,#F0BBC2 0 65.91px,#EEB0B7 0 67.26px,#F3CDD2 0 68.6px,#EFB5BC 0 69.95px,#F0BFC5 0 71.29px,#CED2E9 0 72.64px,#EDEEF7 0 73.98px,#F9E5E7 0 75.33px,#C0C4E2 0 76.67px,#F4CFD4 0 78.02px,#FCF1F3 0 79.36px,#F8E2E5 0 80.71px,#F0F1F8 0 82.05px,#EDEEF7 0 83.4px,#F4CFD4 0 84.76px,#D3D6EB 0 86.12px,#F8E1E4 0 87.48px,#F8E1E4 0 88.85px,#CBCFE7 0 90.21px,#F9E6E9 0 91.57px,#F8E1E4 0 92.93px,#C6CAE5 0 94.29px,#BFC3E1 0 95.65px,#A1A6D2 0 97.01px,#FAECEE 0 98.38px,#E88A94 0 99.74px,#C1C6E3 0 101.1px,#FAFAFD 0 102.46px,#CDD1E8 0 103.82px,#CED1E8 0 105.18px,#FEFBFB 0 106.54px,#E88C96 0 107.9px,#F4D2D6 0 109.27px,#C6CAE5 0 110.63px,#E3E5F2 0 111.99px,#F1C1C7 0 113.35px,#FAE9EB 0 114.71px,#D2D5EA 0 116.07px,#F9E6E9 0 117.43px,#C2C6E3 0 118.8px,#F5D6DA 0 120.16px,#EA97A1 0 121.52px,#FBF0F1 0 122.88px,#D4D7EB 0 124.24px,#F7DBDF 0 125.6px,#979DCE 0 126.96px,#F9E4E7 0 128.33px,#EBEDF6 0 129.69px,#DCDFEF 0 131.05px,#E88A94 0 132.41px,#E2E4F2 0 133.77px,#F5D6DA 0 135.13px,#AAAFD7 0 136.49px,#F2C8CE 0 137.85px,#F6DADE 0 139.22px,#FEFEFF 0 140.58px,#ADB1D8 0 141.94px,#9A9FCF 0 143.3px,#FBECEE 0 144.66px,#EFF0F8 0 146.02px,#F2C7CD 0 147.38px,#E67A85 0 148.75px,#F4F5FA 0 150.11px,#F8E2E5 0 151.47px,#C2C6E3 0 152.83px,#CDD0E8 0 154.19px,#F5D4D9 0 155.55px,#ECA5AD 0 156.91px,#DDDFEF 0 158.28px,#C4C8E4 0 159.64px,#C4C8E4 0 161px,#ECEDF6 0 162.36px,#F9E6E8 0 163.72px,#D5D8EC 0 165.08px,#FFFDFE 0 166.44px,#FEFBFB 0 167.8px,#FDF8F9 0 169.17px,#FBEDEF 0 170.53px,#F2F3F9 0 171.89px,#E88D97 0 173.25px,#FDF8F9 0 174.61px,#E46D79 0 175.97px,#D8DAED 0 177.33px,#FAECEE 0 178.7px,#FFFFFF 0 180.06px,#FBEDEF 0 181.42px,#EBECF6 0 182.78px,#D4D7EC 0 184.14px,#BFC3E1 0 185.5px,#F5F6FA 0 186.86px,#FCF3F5 0 188.23px,#BBBFDF 0 189.59px,#DADCEE 0 190.95px,#FEF9FA 0 192.31px,#EFB6BD 0 193.67px,#FAECEE 0 195.03px,#E3E5F2 0 196.39px,#E6E7F3 0 197.75px,#A7ACD5 0 199.12px,#F5D6DB 0 200.48px,#FFFFFF 0 201.84px,#A5AAD4 0 203.2px)"></div>
<div style="left:64.6px;top:552.59px;width:203.2px;height:10.89px;background:linear-gradient(90deg,#C2C6E3 0 1.35px,#CACEE7 0 2.69px,#FEFCFC 0 4.04px,#D9DBED 0 5.38px,#B1B6DB 0 6.73px,#A5ABD5 0 8.07px,#D0D3EA 0 9.42px,#EFF0F8 0 10.76px,#C0C5E2 0 12.11px,#F7DFE2 0 13.45px,#FAECEE 0 14.8px,#D1D4EA 0 16.14px,#FEFCFC 0 17.49px,#C5C9E4 0 18.83px,#E4E5F2 0 20.18px,#D1D4EA 0 21.52px,#EA99A2 0 22.87px,#E3E5F2 0 24.21px,#DCDEEF 0 25.56px,#F4D1D6 0 26.9px,#CFD2E9 0 28.25px,#C2C6E3 0 29.59px,#F8E1E4 0 30.94px,#E8E9F4 0 32.28px,#FBFCFD 0 33.63px,#FFFFFF 0 34.97px,#E78690 0 36.32px,#EB9DA6 0 37.66px,#B7BBDD 0 39.01px,#EBA0A8 0 40.35px,#F2F3F9 0 41.7px,#D9DBEE 0 43.05px,#C2C6E3 0 44.39px,#DADCEE 0 45.74px,#F3CDD2 0 47.08px,#FCF1F3 0 48.43px,#E9919B 0 49.77px,#E7808B 0 51.12px,#F6F6FB 0 52.46px,#ABB0D7 0 53.81px,#C9CDE6 0 55.15px,#DEE1F0 0 56.5px,#DADCEE 0 57.84px,#F8E0E4 0 59.19px,#FAE9EB 0 60.53px,#FEF9F9 0 61.88px,#FCFCFD 0 63.22px,#C3C7E4 0 64.57px,#E7848F 0 65.91px,#FEFBFB 0 67.26px,#F7DEE1 0 68.6px,#E4E6F3 0 69.95px,#FFFEFE 0 71.29px,#B1B6DA 0 72.64px,#F9F9FC 0 73.98px,#D9DCEE 0 75.33px,#F9E7E9 0 76.67px,#FCF3F4 0 78.02px,#B9BDDE 0 79.36px,#E7E9F4 0 80.71px,#DBDEEF 0 82.05px,#E3E5F2 0 83.4px,#E56C77 0 84.76px,#EAECF6 0 86.12px,#EEAFB6 0 87.48px,#EFB9C0 0 88.85px,#EBEDF6 0 90.21px,#F9E4E7 0 91.57px,#CBCFE7 0 92.93px,#C4C9E4 0 94.29px,#D8DBED 0 95.65px,#EB9AA3 0 97.01px,#F8E4E6 0 98.38px,#F4D0D5 0 99.74px,#FDF5F6 0 101.1px,#E56C77 0 102.46px,#F2CAD0 0 103.82px,#F2F3F9 0 105.18px,#DFE2F1 0 106.54px,#E9EBF5 0 107.9px,#EC393C 0 109.27px,#F6DADE 0 110.63px,#E5E7F3 0 111.99px,#F9E4E7 0 113.35px,#FBEFF0 0 114.71px,#F1F2F9 0 116.07px,#FBFCFD 0 117.43px,#FEFAFB 0 118.8px,#EEAEB6 0 120.16px,#F7DEE2 0 121.52px,#D0D4EA 0 122.88px,#FDFDFE 0 124.24px,#FFFFFF 0 125.6px,#CBCEE7 0 126.96px,#FAE9EB 0 128.33px,#F9E7EA 0 129.69px,#F9E6E9 0 131.05px,#F5D7DB 0 132.41px,#ECEDF6 0 133.77px,#F2C9CE 0 135.13px,#F1C4CA 0 136.49px,#E0E2F1 0 137.85px,#F5D5D9 0 139.22px,#CCD0E8 0 140.58px,#FAECEE 0 141.94px,#BCC0E0 0 143.3px,#E5E6F3 0 144.66px,#F5D5DA 0 146.02px,#F0C0C6 0 147.38px,#FCF2F3 0 148.75px,#FAE9EB 0 150.11px,#DEE0F0 0 151.47px,#D1D4EA 0 152.83px,#9096CA 0 154.19px,#FCF1F2 0 155.55px,#9197CB 0 156.91px,#A8ADD6 0 158.28px,#F9E6E8 0 159.64px,#E5E7F3 0 161px,#EDEEF7 0 162.36px,#F2C7CD 0 163.72px,#F2F3F9 0 165.08px,#B9BEDF 0 166.44px,#F7DDE0 0 167.8px,#F2C8CE 0 169.17px,#F5D6DA 0 170.53px,#D6D9EC 0 171.89px,#B1B5DA 0 173.25px,#F4D0D5 0 174.61px,#EDEFF7 0 175.97px,#F1C2C8 0 177.33px,#BABEDF 0 178.7px,#9399CC 0 180.06px,#D7DAED 0 181.42px,#CFD3E9 0 182.78px,#F2F3F9 0 184.14px,#F8F9FC 0 185.5px,#FFFFFF 0 186.86px,#EC3436 0 188.23px,#F3F4F9 0 189.59px,#FFFDFD 0 190.95px,#FEFCFC 0 192.31px,#FAEAEC 0 193.67px,#F8E0E3 0 195.03px,#E2E4F2 0 196.39px,#F7F7FB 0 197.75px,#EBECF6 0 199.12px,#F3CDD2 0 200.48px,#F0BBC1 0 201.84px,#F4F5FA 0 203.2px)"></div>
<div style="left:64.6px;top:563.19px;width:203.2px;height:10.89px;background:linear-gradient(90deg,#DEE0F0 0 1.35px,#FAE8EB 0 2.69px,#EEAEB6 0 4.04px,#FCFCFE 0 5.38px,#F4D0D5 0 6.73px,#F4D2D7 0 8.07px,#EFB6BD 0 9.42px,#F5D7DB 0 10.76px,#F6D7DB 0 12.11px,#F0BDC4 0 13.45px,#D7DAED 0 14.8px,#F0BCC3 0 16.14px,#EEAFB6 0 17.49px,#FBEDEF 0 18.83px,#F9E5E8 0 20.18px,#F0BDC4 0 21.52px,#F6D8DC 0 22.87px,#BEC2E1 0 24.21px,#E94E55 0 25.56px,#F5D3D8 0 26.9px,#CDD1E8 0 28.25px,#FBFBFD 0 29.59px,#F6D8DC 0 30.94px,#E0E2F1 0 32.28px,#FDF7F8 0 33.63px,#EA99A2 0 34.97px,#ECA2AB 0 36.32px,#F9E7E9 0 37.66px,#F8E0E3 0 39.01px,#E57A85 0 40.35px,#F8E0E3 0 41.7px,#F2C7CD 0 43.05px,#D1D4EA 0 44.39px,#ECA1A9 0 45.74px,#AFB4DA 0 47.08px,#EEB1B9 0 48.43px,#E75860 0 49.77px,#F4D1D6 0 51.12px,#EBECF6 0 52.46px,#EEB1B8 0 53.81px,#F8E0E4 0 55.15px,#F2C8CD 0 56.5px,#EEADB5 0 57.84px,#F7DEE1 0 59.19px,#EDABB3 0 60.53px,#F7DEE1 0 61.88px,#E67F8A 0 63.22px,#D0D4EA 0 64.57px,#EEB1B8 0 65.91px,#EEAFB6 0 67.26px,#F6DADE 0 68.6px,#EEEFF7 0 69.95px,#ECEDF6 0 71.29px,#F8E3E6 0 72.64px,#EB9AA3 0 73.98px,#E7818C 0 75.33px,#E7818B 0 76.67px,#FAEBED 0 78.02px,#F4F5FA 0 79.36px,#ECA1AA 0 80.71px,#FCF1F2 0 82.05px,#EB9DA6 0 83.4px,#8F95CA 0 84.76px,#BFC4E2 0 86.12px,#FBEEF0 0 87.48px,#C7CBE5 0 88.85px,#FDF6F7 0 90.21px,#CFD2E9 0 91.57px,#D1D4EA 0 92.93px,#AEB3D9 0 94.29px,#B6BBDD 0 95.65px,#B8BDDE 0 97.01px,#8E94C9 0 98.38px,#F8E3E6 0 99.74px,#E2E4F2 0 101.1px,#FEFBFB 0 102.46px,#FDF9F9 0 103.82px,#E5E7F3 0 105.18px,#C0C4E2 0 106.54px,#DFE1F0 0 107.9px,#F9E4E7 0 109.27px,#FDFDFE 0 110.63px,#B1B6DA 0 111.99px,#FAECEE 0 113.35px,#F0BCC2 0 114.71px,#E9EAF5 0 116.07px,#EAECF6 0 117.43px,#D0D4EA 0 118.8px,#F9E7E9 0 120.16px,#E6646E 0 121.52px,#FBFCFD 0 122.88px,#F9F9FC 0 124.24px,#CBCFE8 0 125.6px,#ACB1D8 0 126.96px,#B5BADD 0 128.33px,#F2C9CE 0 129.69px,#F4D0D4 0 131.05px,#C8CCE6 0 132.41px,#FEFCFD 0 133.77px,#FEFCFC 0 135.13px,#FAFBFD 0 136.49px,#F2C9CF 0 137.85px,#FBEFF1 0 139.22px,#B4B8DC 0 140.58px,#9AA0CF 0 141.94px,#AFB3D9 0 143.3px,#ACB1D8 0 144.66px,#F0BEC5 0 146.02px,#FCF3F5 0 147.38px,#9CA2D0 0 148.75px,#F2F3F9 0 150.11px,#C4C8E4 0 151.47px,#CFD3E9 0 152.83px,#D0D3EA 0 154.19px,#FCF1F3 0 155.55px,#EBEDF6 0 156.91px,#D3D6EB 0 158.28px,#D2D5EA 0 159.64px,#D8DAED 0 161px,#D7DAED 0 162.36px,#F2C9CE 0 163.72px,#F2F3F9 0 165.08px,#FEFAFB 0 166.44px,#EA9AA3 0 167.8px,#FFFEFE 0 169.17px,#F2C7CD 0 170.53px,#AFB4DA 0 171.89px,#CBCFE7 0 173.25px,#CACDE7 0 174.61px,#F4F5FA 0 175.97px,#F2F3F9 0 177.33px,#E5E6F3 0 178.7px,#A8ADD6 0 180.06px,#D2D5EB 0 181.42px,#B1B6DB 0 182.78px,#E8555D 0 184.14px,#FFFEFE 0 185.5px,#8A90C7 0 186.86px,#F6F6FB 0 188.23px,#E8E9F4 0 189.59px,#F3F4FA 0 190.95px,#FBFBFD 0 192.31px,#F2C6CC 0 193.67px,#F7DCE0 0 195.03px,#F8E3E6 0 196.39px,#C3C7E3 0 197.75px,#F6DBDE 0 199.12px,#F1C3C9 0 200.48px,#EDADB4 0 201.84px,#AEB3D9 0 203.2px)"></div>
<div style="left:64.6px;top:573.78px;width:203.2px;height:10.89px;background:linear-gradient(90deg,#C5C9E4 0 1.35px,#CACDE7 0 2.69px,#EDABB3 0 4.04px,#FDF8F9 0 5.38px,#FCFCFE 0 6.73px,#F9E8EA 0 8.07px,#F5F5FA 0 9.42px,#F9E7E9 0 10.76px,#D6D9EC 0 12.11px,#D3D6EB 0 13.45px,#E7858F 0 14.8px,#F9E6E8 0 16.14px,#F3CBD0 0 17.49px,#F4D2D7 0 18.83px,#E85158 0 20.18px,#F5F5FA 0 21.52px,#E6646E 0 22.87px,#EAEBF5 0 24.21px,#ECEDF6 0 25.56px,#F9E6E8 0 26.9px,#F8E3E6 0 28.25px,#F0BDC3 0 29.59px,#EDEEF7 0 30.94px,#F3F3F9 0 32.28px,#F6F7FB 0 33.63px,#F1F2F9 0 34.97px,#F4D1D6 0 36.32px,#B4B9DC 0 37.66px,#C6CAE5 0 39.01px,#F0BBC1 0 40.35px,#FAEBED 0 41.7px,#FAEBED 0 43.05px,#A4A9D4 0 44.39px,#EFF0F8 0 45.74px,#F6F7FB 0 47.08px,#EEB0B7 0 48.43px,#E57A85 0 49.77px,#F7DEE2 0 51.12px,#AEB3D9 0 52.46px,#E4E6F3 0 53.81px,#E75860 0 55.15px,#EDACB3 0 56.5px,#ECEDF6 0 57.84px,#F8E2E5 0 59.19px,#EEEFF7 0 60.53px,#F6D9DD 0 61.88px,#E6636C 0 63.22px,#FEFFFF 0 64.57px,#F3CBD0 0 65.91px,#E0E2F1 0 67.26px,#989DCE 0 68.6px,#F6DADE 0 69.95px,#F1C4CA 0 71.29px,#F8F8FC 0 72.64px,#EFB7BE 0 73.98px,#FDF7F7 0 75.33px,#EDA8B0 0 76.67px,#F5D4D8 0 78.02px,#F6F6FB 0 79.36px,#EE2828 0 80.71px,#EFB8BF 0 82.05px,#F9E4E7 0 83.4px,#FBF0F1 0 84.76px,#EEEFF7 0 86.12px,#F1C3C9 0 87.48px,#C9CDE7 0 88.85px,#E9EAF5 0 90.21px,#C7CBE5 0 91.57px,#F2C8CD 0 92.93px,#A8ADD6 0 94.29px,#B1B6DB 0 95.65px,#FEFCFC 0 97.01px,#E8EAF4 0 98.38px,#F9E4E7 0 99.74px,#F4CFD4 0 101.1px,#F6DBDE 0 102.46px,#F4CFD4 0 103.82px,#A0A6D2 0 105.18px,#F4D3D7 0 106.54px,#E67C87 0 107.9px,#F6DBDE 0 109.27px,#EAECF5 0 110.63px,#FFFEFE 0 111.99px,#E88A94 0 113.35px,#E0E3F1 0 114.71px,#EDACB4 0 116.07px,#EA96A0 0 117.43px,#4254AA 0 118.8px,#E46E79 0 120.16px,#EEB0B7 0 121.52px,#E4E6F3 0 122.88px,#F1C4CA 0 124.24px,#EB9EA7 0 125.6px,#DFE2F1 0 126.96px,#F7DFE2 0 128.33px,#F3CCD2 0 129.69px,#EEAEB6 0 131.05px,#FEFBFC 0 132.41px,#E5E7F3 0 133.77px,#F9E4E7 0 135.13px,#BBBFDF 0 136.49px,#F9E7E9 0 137.85px,#F0BDC4 0 139.22px,#F8F8FC 0 140.58px,#C3C7E3 0 141.94px,#FEF9FA 0 143.3px,#A3A8D4 0 144.66px,#F6DADE 0 146.02px,#F8E2E5 0 147.38px,#F4D2D7 0 148.75px,#E0E2F1 0 150.11px,#F2C9CF 0 151.47px,#C5C9E4 0 152.83px,#C6CAE5 0 154.19px,#FCF0F2 0 155.55px,#ECA2AA 0 156.91px,#F1C4CA 0 158.28px,#D4D7EB 0 159.64px,#FBEDEF 0 161px,#C6CAE5 0 162.36px,#F5D6DA 0 163.72px,#F2C6CC 0 165.08px,#E4E6F3 0 166.44px,#F2CAD0 0 167.8px,#CCD0E8 0 169.17px,#F8E2E5 0 170.53px,#FDF5F6 0 171.89px,#EEF0F7 0 173.25px,#FCF3F5 0 174.61px,#EA98A1 0 175.97px,#C0C4E2 0 177.33px,#BFC3E1 0 178.7px,#FEFCFC 0 180.06px,#C7CBE5 0 181.42px,#C1C5E3 0 182.78px,#FEFEFF 0 184.14px,#F5D3D8 0 185.5px,#F6D9DD 0 186.86px,#F1C5CB 0 188.23px,#B7BBDD 0 189.59px,#EFB5BC 0 190.95px,#FEF9FA 0 192.31px,#DFE1F0 0 193.67px,#FDF6F7 0 195.03px,#B3B8DC 0 196.39px,#F3F4F9 0 197.75px,#979DCE 0 199.12px,#FBF0F2 0 200.48px,#F4F4FA 0 201.84px,#F0C1C7 0 203.2px)"></div>
<div style="left:64.6px;top:584.38px;width:203.2px;height:10.89px;background:linear-gradient(90deg,#D7DAED 0 1.35px,#E3E5F2 0 2.69px,#EDA8B0 0 4.04px,#F1C6CC 0 5.38px,#D2D5EA 0 6.73px,#F4D1D5 0 8.07px,#F5D6DA 0 9.42px,#ECA5AD 0 10.76px,#D3D6EB 0 12.11px,#FDFDFE 0 13.45px,#F2C9CE 0 14.8px,#DDE0F0 0 16.14px,#ECA1AA 0 17.49px,#CDD0E8 0 18.83px,#FBEEEF 0 20.18px,#F0BEC4 0 21.52px,#EB9DA6 0 22.87px,#EBEDF6 0 24.21px,#D7DAED 0 25.56px,#F3CED3 0 26.9px,#EFF0F8 0 28.25px,#FDF7F8 0 29.59px,#F3CED3 0 30.94px,#CFD3E9 0 32.28px,#FBEFF1 0 33.63px,#6D78BB 0 34.97px,#FEFAFB 0 36.32px,#EFB6BD 0 37.66px,#FCF2F3 0 39.01px,#DCDEEF 0 40.35px,#F9E6E9 0 41.7px,#D3D6EB 0 43.05px,#F5D4D8 0 44.39px,#E88B95 0 45.74px,#CCD0E8 0 47.08px,#FBEFF1 0 48.43px,#E56B76 0 49.77px,#C5C9E5 0 51.12px,#FAFAFD 0 52.46px,#BDC1E1 0 53.81px,#F9F9FC 0 55.15px,#F7F8FB 0 56.5px,#F8E2E5 0 57.84px,#F2CACF 0 59.19px,#FEFCFC 0 60.53px,#C1C6E3 0 61.88px,#F8E0E3 0 63.22px,#F6F6FB 0 64.57px,#E98E98 0 65.91px,#F5D7DB 0 67.26px,#FBF0F1 0 68.6px,#F5D4D8 0 69.95px,#EB9DA6 0 71.29px,#F6DBDE 0 72.64px,#FBEDEF 0 73.98px,#FEF9FA 0 75.33px,#EFB6BD 0 76.67px,#FBEEEF 0 78.02px,#FFFDFD 0 79.36px,#F5D3D7 0 80.71px,#F4D1D6 0 82.05px,#F5D5D9 0 83.4px,#F3CED3 0 84.76px,#FDF5F6 0 86.12px,#FAE8EB 0 87.48px,#FBFBFD 0 88.85px,#F9FAFC 0 90.21px,#F4D1D5 0 91.57px,#FAFBFD 0 92.93px,#DADCEE 0 94.29px,#B0B5DA 0 95.65px,#F2F3F9 0 97.01px,#9CA1D0 0 98.38px,#EBECF6 0 99.74px,#F1C5CB 0 101.1px,#EEB2BA 0 102.46px,#FAEBED 0 103.82px,#DDDFEF 0 105.18px,#F6D8DC 0 106.54px,#F0F1F8 0 107.9px,#FCF2F4 0 109.27px,#DEE0F0 0 110.63px,#ECEDF6 0 111.99px,#F0BCC2 0 113.35px,#F0BFC5 0 114.71px,#F9E4E7 0 116.07px,#F7DEE1 0 117.43px,#C7CBE5 0 118.8px,#F0BBC2 0 120.16px,#FAEBED 0 121.52px,#F5D6DB 0 122.88px,#F6D8DC 0 124.24px,#DBDEEF 0 125.6px,#FEFCFD 0 126.96px,#EAEBF5 0 128.33px,#C5C9E5 0 129.69px,#F1C3C9 0 131.05px,#DADCEE 0 132.41px,#A5AAD5 0 133.77px,#CCCFE8 0 135.13px,#F0BFC5 0 136.49px,#DEE0F0 0 137.85px,#F0BDC4 0 139.22px,#F5D5D9 0 140.58px,#979DCD 0 141.94px,#C2C6E3 0 143.3px,#F0F1F8 0 144.66px,#C5C9E5 0 146.02px,#F2C7CD 0 147.38px,#D8DBED 0 148.75px,#F4D2D7 0 150.11px,#F0BCC2 0 151.47px,#F8F8FC 0 152.83px,#7D85C2 0 154.19px,#D3D6EB 0 155.55px,#E67C88 0 156.91px,#FBF0F1 0 158.28px,#FFFFFF 0 159.64px,#E1E3F1 0 161px,#F5D3D8 0 162.36px,#F0BFC5 0 163.72px,#C9CDE6 0 165.08px,#AEB3D9 0 166.44px,#989ECE 0 167.8px,#F8E1E4 0 169.17px,#FBFCFD 0 170.53px,#B2B6DB 0 171.89px,#F1F2F8 0 173.25px,#E46D79 0 174.61px,#D8DAED 0 175.97px,#ECEEF6 0 177.33px,#FAE9EB 0 178.7px,#878EC6 0 180.06px,#F9E4E7 0 181.42px,#B9BDDE 0 182.78px,#E9EBF5 0 184.14px,#FCF3F4 0 185.5px,#F1F2F8 0 186.86px,#F8F8FC 0 188.23px,#F9E7EA 0 189.59px,#FFFFFF 0 190.95px,#F2F3F9 0 192.31px,#F3CDD2 0 193.67px,#DCDEEF 0 195.03px,#DBDDEE 0 196.39px,#ECEEF7 0 197.75px,#B5BADD 0 199.12px,#FCF3F4 0 200.48px,#F5D4D8 0 201.84px,#FFFFFF 0 203.2px)"></div>
<div style="left:64.6px;top:594.97px;width:203.2px;height:10.89px;background:linear-gradient(90deg,#FBECEE 0 1.35px,#EFB7BE 0 2.69px,#F1C4CA 0 4.04px,#F3CDD2 0 5.38px,#FCFCFD 0 6.73px,#FFFFFF 0 8.07px,#EB9FA8 0 9.42px,#E7808B 0 10.76px,#DBDEEF 0 12.11px,#F8E3E6 0 13.45px,#F8E3E5 0 14.8px,#E98D97 0 16.14px,#EFB4BB 0 17.49px,#E56872 0 18.83px,#FAECEE 0 20.18px,#F7F7FB 0 21.52px,#E7838E 0 22.87px,#A9AED6 0 24.21px,#F7DBDF 0 25.56px,#F5D5D9 0 26.9px,#F6DADE 0 28.25px,#F3CCD2 0 29.59px,#EEB2B9 0 30.94px,#F5D5DA 0 32.28px,#EB9EA6 0 33.63px,#EB9BA4 0 34.97px,#EFB9C0 0 36.32px,#F6D7DB 0 37.66px,#C2C6E3 0 39.01px,#E88C96 0 40.35px,#BABEDF 0 41.7px,#FEFAFA 0 43.05px,#D7DAED 0 44.39px,#FBEDEF 0 45.74px,#EEB1B9 0 47.08px,#E75C65 0 48.43px,#E67D88 0 49.77px,#FEFDFD 0 51.12px,#B0B5DA 0 52.46px,#FCF4F5 0 53.81px,#F1C2C8 0 55.15px,#E75860 0 56.5px,#F0BBC1 0 57.84px,#E6646F 0 59.19px,#EB9AA3 0 60.53px,#FDF6F7 0 61.88px,#F8E2E5 0 63.22px,#FAEAEC 0 64.57px,#EB3C40 0 65.91px,#CACEE7 0 67.26px,#EA969F 0 68.6px,#F3CCD2 0 69.95px,#E67B86 0 71.29px,#EFB5BC 0 72.64px,#E88C96 0 73.98px,#F4F5FA 0 75.33px,#EDADB5 0 76.67px,#E66069 0 78.02px,#F1C4CA 0 79.36px,#F0BDC4 0 80.71px,#EEAEB6 0 82.05px,#F5D4D8 0 83.4px,#EDABB3 0 84.76px,#D4D7EB 0 86.12px,#EFB9BF 0 87.48px,#F9E6E9 0 88.85px,#F2C8CE 0 90.21px,#EBECF6 0 91.57px,#F8E0E3 0 92.93px,#EEEFF7 0 94.29px,#4B5BAE 0 95.65px,#CED1E9 0 97.01px,#FDF9F9 0 98.38px,#F0C1C7 0 99.74px,#F6F7FB 0 101.1px,#ECA3AB 0 102.46px,#C1C5E3 0 103.82px,#F6D9DD 0 105.18px,#D7DAED 0 106.54px,#FFFEFE 0 107.9px,#EEB1B8 0 109.27px,#C4C8E4 0 110.63px,#FCF3F5 0 111.99px,#F8E2E5 0 113.35px,#C8CCE6 0 114.71px,#BFC3E1 0 116.07px,#F7DCE0 0 117.43px,#CED1E9 0 118.8px,#A6ABD5 0 120.16px,#959BCC 0 121.52px,#B9BEDF 0 122.88px,#E0E2F1 0 124.24px,#D6D9EC 0 125.6px,#B6BADD 0 126.96px,#D2D5EB 0 128.33px,#D3D6EB 0 129.69px,#FCF1F2 0 131.05px,#F6DADE 0 132.41px,#FDF7F7 0 133.77px,#F4F4FA 0 135.13px,#F1C1C7 0 136.49px,#EFBAC1 0 137.85px,#EDEEF7 0 139.22px,#F5D4D9 0 140.58px,#F2C9CE 0 141.94px,#B0B5DA 0 143.3px,#CBCFE7 0 144.66px,#EB9FA8 0 146.02px,#F5D3D8 0 147.38px,#FBEEF0 0 148.75px,#ECEDF6 0 150.11px,#EFB7BE 0 151.47px,#EEEFF7 0 152.83px,#8C92C8 0 154.19px,#D8DBED 0 155.55px,#EFBAC0 0 156.91px,#FDF5F6 0 158.28px,#BFC3E2 0 159.64px,#C3C7E3 0 161px,#C3C7E4 0 162.36px,#FAEBED 0 163.72px,#EB9DA6 0 165.08px,#F8F8FC 0 166.44px,#EFB6BD 0 167.8px,#F6D8DC 0 169.17px,#FEFAFB 0 170.53px,#E5E7F3 0 171.89px,#FDF6F7 0 173.25px,#EBECF6 0 174.61px,#F8E2E5 0 175.97px,#EBECF6 0 177.33px,#DBDDEE 0 178.7px,#ADB1D8 0 180.06px,#B8BCDE 0 181.42px,#FEF9FA 0 182.78px,#A1A6D2 0 184.14px,#D7DAED 0 185.5px,#878EC6 0 186.86px,#FAECEE 0 188.23px,#A3A9D4 0 189.59px,#AFB3D9 0 190.95px,#A1A7D3 0 192.31px,#B3B8DC 0 193.67px,#ACB0D8 0 195.03px,#7C84C1 0 196.39px,#E2E4F2 0 197.75px,#7D85C2 0 199.12px,#C9CDE6 0 200.48px,#FEFBFC 0 201.84px,#EAECF6 0 203.2px)"></div>
<div style="left:64.6px;top:605.56px;width:203.2px;height:10.89px;background:linear-gradient(90deg,#F2F3F9 0 1.35px,#FCF3F5 0 2.69px,#F1C6CC 0 4.04px,#8088C3 0 5.38px,#FEFEFF 0 6.73px,#FEFBFB 0 8.07px,#F7DCDF 0 9.42px,#F1C4CA 0 10.76px,#EEB2BA 0 12.11px,#C2C6E3 0 13.45px,#E7838E 0 14.8px,#F8E0E3 0 16.14px,#EEADB5 0 17.49px,#D1D5EA 0 18.83px,#F9E5E8 0 20.18px,#F9E4E6 0 21.52px,#E4727E 0 22.87px,#FAECED 0 24.21px,#F4D1D6 0 25.56px,#F4D1D6 0 26.9px,#E99099 0 28.25px,#E4E6F3 0 29.59px,#FEF9FA 0 30.94px,#EB9CA4 0 32.28px,#EA98A1 0 33.63px,#F5D3D8 0 34.97px,#EEB2B9 0 36.32px,#ECA5AD 0 37.66px,#F9E4E7 0 39.01px,#F5D5D9 0 40.35px,#FFFDFD 0 41.7px,#E57884 0 43.05px,#EAECF6 0 44.39px,#FAE8EB 0 45.74px,#F6F7FB 0 47.08px,#F7DCE0 0 48.43px,#E56B76 0 49.77px,#E56772 0 51.12px,#EFB4BB 0 52.46px,#D7DAED 0 53.81px,#CCD0E8 0 55.15px,#EA97A0 0 56.5px,#F1C4CA 0 57.84px,#FBEEEF 0 59.19px,#EEAFB6 0 60.53px,#FAE8EB 0 61.88px,#FEFEFF 0 63.22px,#FCF0F2 0 64.57px,#E78791 0 65.91px,#F4CFD4 0 67.26px,#E6646E 0 68.6px,#F7F8FB 0 69.95px,#C1C5E2 0 71.29px,#D6D9EC 0 72.64px,#EFB6BD 0 73.98px,#6B76BB 0 75.33px,#C1C5E3 0 76.67px,#E7858F 0 78.02px,#EE2828 0 79.36px,#F8E3E6 0 80.71px,#FEFAFB 0 82.05px,#F4D2D6 0 83.4px,#F3CED3 0 84.76px,#DEE0F0 0 86.12px,#FBECEE 0 87.48px,#D4D7EB 0 88.85px,#F0C0C7 0 90.21px,#F7F8FB 0 91.57px,#C9CDE7 0 92.93px,#D0D3EA 0 94.29px,#D2D5EA 0 95.65px,#F2C7CD 0 97.01px,#FCFCFD 0 98.38px,#EEB1B9 0 99.74px,#FBF0F1 0 101.1px,#EEB3BA 0 102.46px,#FFFEFE 0 103.82px,#ECA5AD 0 105.18px,#E3E5F2 0 106.54px,#F5D6DA 0 107.9px,#B6BBDD 0 109.27px,#E2E4F2 0 110.63px,#B9BEDF 0 111.99px,#EDABB3 0 113.35px,#EFF0F8 0 114.71px,#F2C9CF 0 116.07px,#FEFBFB 0 117.43px,#CDD1E8 0 118.8px,#FAECEE 0 120.16px,#FAE8EA 0 121.52px,#F5D5DA 0 122.88px,#FEF9FA 0 124.24px,#E7E9F4 0 125.6px,#F6D8DC 0 126.96px,#FCF2F3 0 128.33px,#EFB8BF 0 129.69px,#C3C7E4 0 131.05px,#F9E7EA 0 132.41px,#E2E4F2 0 133.77px,#F8E0E3 0 135.13px,#E7E9F4 0 136.49px,#F4F4FA 0 137.85px,#B0B5DA 0 139.22px,#F9FAFC 0 140.58px,#EFF0F8 0 141.94px,#D9DCEE 0 143.3px,#FCF3F4 0 144.66px,#C6CAE5 0 146.02px,#FAEBED 0 147.38px,#6F79BC 0 148.75px,#EDEEF7 0 150.11px,#FBEEF0 0 151.47px,#FAECEE 0 152.83px,#9BA0CF 0 154.19px,#E3E5F2 0 155.55px,#F6D8DC 0 156.91px,#D2D5EA 0 158.28px,#DBDDEE 0 159.64px,#FEFCFC 0 161px,#ECA4AC 0 162.36px,#F3CCD1 0 163.72px,#FAE9EC 0 165.08px,#EFF0F8 0 166.44px,#F6D9DD 0 167.8px,#B2B7DB 0 169.17px,#F6D7DB 0 170.53px,#FFFDFE 0 171.89px,#D6D9ED 0 173.25px,#F0C0C6 0 174.61px,#FDFDFE 0 175.97px,#E4E6F3 0 177.33px,#CDD0E8 0 178.7px,#A8ADD6 0 180.06px,#AFB4D9 0 181.42px,#F5D4D9 0 182.78px,#FBF0F1 0 184.14px,#BBBFE0 0 185.5px,#FEFCFC 0 186.86px,#FFFFFF 0 188.23px,#F2F2F9 0 189.59px,#F9E6E8 0 190.95px,#E9EBF5 0 192.31px,#FCF3F5 0 193.67px,#D6D9ED 0 195.03px,#C8CCE6 0 196.39px,#E0E3F1 0 197.75px,#C2C6E3 0 199.12px,#E7E9F4 0 200.48px,#989ECE 0 201.84px,#E5E7F3 0 203.2px)"></div>
<div style="left:64.6px;top:616.16px;width:203.2px;height:10.89px;background:linear-gradient(90deg,#CFD2E9 0 1.35px,#F2F3F9 0 2.69px,#D6D9EC 0 4.04px,#CED1E8 0 5.38px,#9EA3D1 0 6.73px,#ADB2D9 0 8.07px,#FCFCFE 0 9.42px,#D4D7EC 0 10.76px,#B8BCDE 0 12.11px,#A9AED7 0 13.45px,#FEFBFC 0 14.8px,#FCF3F4 0 16.14px,#A5AAD5 0 17.49px,#FDF6F7 0 18.83px,#A2A7D3 0 20.18px,#EFF0F7 0 21.52px,#E9909A 0 22.87px,#D3D6EB 0 24.21px,#BCC0E0 0 25.56px,#C1C5E3 0 26.9px,#ABB0D8 0 28.25px,#CFD3E9 0 29.59px,#C0C4E2 0 30.94px,#F5D4D9 0 32.28px,#D3D6EB 0 33.63px,#D2D5EA 0 34.97px,#BABEDF 0 36.32px,#E57883 0 37.66px,#CCD0E8 0 39.01px,#BABFDF 0 40.35px,#7881C0 0 41.7px,#AFB3D9 0 43.05px,#C9CDE7 0 44.39px,#FDFDFE 0 45.74px,#FCFCFE 0 47.08px,#E6E7F3 0 48.43px,#FDFDFE 0 49.77px,#CFD2E9 0 51.12px,#FCF3F4 0 52.46px,#CED1E8 0 53.81px,#C0C4E2 0 55.15px,#CFD2E9 0 56.5px,#F1C5CB 0 57.84px,#E6E8F4 0 59.19px,#B8BDDE 0 60.53px,#B2B7DB 0 61.88px,#E7E9F4 0 63.22px,#8F95C9 0 64.57px,#F8E1E4 0 65.91px,#B2B7DB 0 67.26px,#F1C2C9 0 68.6px,#E1E3F1 0 69.95px,#F4D0D4 0 71.29px,#B5BADD 0 72.64px,#F9F9FC 0 73.98px,#FFFDFE 0 75.33px,#C3C7E3 0 76.67px,#FEFBFB 0 78.02px,#A7ADD6 0 79.36px,#8A90C7 0 80.71px,#838AC4 0 82.05px,#C0C4E2 0 83.4px,#F3CED3 0 84.76px,#DDE0F0 0 86.12px,#FFFEFE 0 87.48px,#EEB1B8 0 88.85px,#FDF6F7 0 90.21px,#C3C7E3 0 91.57px,#EBEDF6 0 92.93px,#EDEEF7 0 94.29px,#CBCFE7 0 95.65px,#E3E5F2 0 97.01px,#EEB0B8 0 98.38px,#F7F7FB 0 99.74px,#F3CCD1 0 101.1px,#F4F4FA 0 102.46px,#CFD2E9 0 103.82px,#E5E7F3 0 105.18px,#AEB2D9 0 106.54px,#F3CDD2 0 107.9px,#E67C88 0 109.27px,#D5D8EC 0 110.63px,#B7BCDE 0 111.99px,#E6636D 0 113.35px,#FBEEF0 0 114.71px,#E9929B 0 116.07px,#CCD0E8 0 117.43px,#FDF5F6 0 118.8px,#F1C2C8 0 120.16px,#FEFAFB 0 121.52px,#DADDEE 0 122.88px,#F8E2E5 0 124.24px,#E4E6F2 0 125.6px,#F7DCDF 0 126.96px,#F9E7E9 0 128.33px,#E4E5F2 0 129.69px,#EA97A0 0 131.05px,#FEFAFB 0 132.41px,#F8F8FC 0 133.77px,#FFFEFF 0 135.13px,#BFC3E2 0 136.49px,#DDDFEF 0 137.85px,#F5D6DA 0 139.22px,#F1C5CB 0 140.58px,#F5D6DA 0 141.94px,#A9AED7 0 143.3px,#F6D9DC 0 144.66px,#FBEDEF 0 146.02px,#EDA9B1 0 147.38px,#E4E6F3 0 148.75px,#F0F1F8 0 150.11px,#F6DADE 0 151.47px,#CED2E9 0 152.83px,#B8BCDE 0 154.19px,#CBCFE7 0 155.55px,#F2C9CF 0 156.91px,#E3E5F2 0 158.28px,#FCF2F4 0 159.64px,#F6DADE 0 161px,#F7DDE1 0 162.36px,#F0BFC5 0 163.72px,#F2F3F9 0 165.08px,#FCFCFE 0 166.44px,#F9E6E8 0 167.8px,#D7DAED 0 169.17px,#ECA5AD 0 170.53px,#FBEDEF 0 171.89px,#F7DDE0 0 173.25px,#FCF2F3 0 174.61px,#F5D6DA 0 175.97px,#FCFCFE 0 177.33px,#E4E6F3 0 178.7px,#8E94C9 0 180.06px,#F5D6DA 0 181.42px,#BDC1E0 0 182.78px,#FAEAEC 0 184.14px,#EDACB4 0 185.5px,#B0B5DA 0 186.86px,#F7DEE2 0 188.23px,#FDF7F8 0 189.59px,#E9EAF5 0 190.95px,#E57883 0 192.31px,#BDC1E1 0 193.67px,#FFFEFE 0 195.03px,#B2B7DB 0 196.39px,#FAFAFD 0 197.75px,#FCFCFD 0 199.12px,#F0BCC2 0 200.48px,#F3F4FA 0 201.84px,#F7F8FB 0 203.2px)"></div>
<div style="left:64.6px;top:626.75px;width:203.2px;height:10.89px;background:linear-gradient(90deg,#F9E4E7 0 1.35px,#EDA8B0 0 2.69px,#F1C2C8 0 4.04px,#F0BDC4 0 5.38px,#AFB4DA 0 6.73px,#F7F8FC 0 8.07px,#EA969F 0 9.42px,#ECA1AA 0 10.76px,#E6E7F3 0 12.11px,#F7F7FB 0 13.45px,#E88893 0 14.8px,#FEF9FA 0 16.14px,#EB9EA7 0 17.49px,#EEB3BA 0 18.83px,#828AC4 0 20.18px,#EB9CA5 0 21.52px,#E75962 0 22.87px,#EDACB4 0 24.21px,#E57581 0 25.56px,#F8E1E4 0 26.9px,#E9909A 0 28.25px,#EDAAB2 0 29.59px,#E88C96 0 30.94px,#E57883 0 32.28px,#E98E98 0 33.63px,#E75B63 0 34.97px,#E75961 0 36.32px,#FDF6F7 0 37.66px,#F0C0C6 0 39.01px,#F9E7EA 0 40.35px,#C0C5E2 0 41.7px,#F6F7FB 0 43.05px,#FAEAEC 0 44.39px,#D9DCEE 0 45.74px,#FAFAFD 0 47.08px,#ECA3AB 0 48.43px,#E56873 0 49.77px,#E8EAF5 0 51.12px,#E88893 0 52.46px,#C0C4E2 0 53.81px,#F9E5E8 0 55.15px,#FDF5F6 0 56.5px,#E67D88 0 57.84px,#D5D8EC 0 59.19px,#EFBAC0 0 60.53px,#FBEDEE 0 61.88px,#FBEDEF 0 63.22px,#FDF9F9 0 64.57px,#E98D97 0 65.91px,#EDACB3 0 67.26px,#ECA2AA 0 68.6px,#EEAFB7 0 69.95px,#EA98A2 0 71.29px,#FAEAEC 0 72.64px,#FCF4F5 0 73.98px,#C5C9E5 0 75.33px,#EB9DA6 0 76.67px,#FEFAFA 0 78.02px,#F1C3C9 0 79.36px,#FEFAFA 0 80.71px,#F2C7CD 0 82.05px,#F2C7CC 0 83.4px,#F2C6CC 0 84.76px,#F9E4E6 0 86.12px,#F4F5FA 0 87.48px,#FBFBFD 0 88.85px,#EFB4BB 0 90.21px,#FEFCFC 0 91.57px,#FBFBFD 0 92.93px,#E1E3F1 0 94.29px,#DADDEE 0 95.65px,#FDF5F6 0 97.01px,#FAFAFD 0 98.38px,#F1C3C9 0 99.74px,#EFB5BC 0 101.1px,#EFB5BC 0 102.46px,#F9E5E7 0 103.82px,#FDF8F8 0 105.18px,#F1C2C8 0 106.54px,#F5D4D8 0 107.9px,#F6D9DD 0 109.27px,#DFE1F0 0 110.63px,#CCD0E8 0 111.99px,#F8E2E5 0 113.35px,#EEB4BB 0 114.71px,#F3F4F9 0 116.07px,#D8DBED 0 117.43px,#C0C4E2 0 118.8px,#F0BDC3 0 120.16px,#F9E7EA 0 121.52px,#F7DDE1 0 122.88px,#FEF9FA 0 124.24px,#B0B5DA 0 125.6px,#ACB1D8 0 126.96px,#AFB4DA 0 128.33px,#FDFDFE 0 129.69px,#E85056 0 131.05px,#FBEFF0 0 132.41px,#EAECF6 0 133.77px,#F0BFC5 0 135.13px,#B1B6DA 0 136.49px,#FDF6F7 0 137.85px,#FDF7F8 0 139.22px,#FDF7F8 0 140.58px,#9FA4D1 0 141.94px,#F6DADE 0 143.3px,#FBEDEF 0 144.66px,#F9E7EA 0 146.02px,#F5D5DA 0 147.38px,#E6E8F4 0 148.75px,#FEFBFB 0 150.11px,#F7DDE1 0 151.47px,#F8E3E6 0 152.83px,#9096CA 0 154.19px,#F5F6FB 0 155.55px,#E88993 0 156.91px,#F7DDE1 0 158.28px,#F4D0D5 0 159.64px,#E9EAF5 0 161px,#A5ABD5 0 162.36px,#F5D6DB 0 163.72px,#FAFAFD 0 165.08px,#CDD0E8 0 166.44px,#EFB8BF 0 167.8px,#F7F8FB 0 169.17px,#F1C1C8 0 170.53px,#A8ADD6 0 171.89px,#ACB1D8 0 173.25px,#F0C0C6 0 174.61px,#EA99A2 0 175.97px,#FDFDFE 0 177.33px,#B0B5DA 0 178.7px,#8E94C9 0 180.06px,#EDA8B0 0 181.42px,#9197CB 0 182.78px,#F7F7FB 0 184.14px,#FEFEFE 0 185.5px,#E56670 0 186.86px,#F2F3F9 0 188.23px,#DADDEE 0 189.59px,#F7F7FB 0 190.95px,#F7DDE0 0 192.31px,#FBFCFD 0 193.67px,#F2C7CD 0 195.03px,#F2F3F9 0 196.39px,#D2D5EB 0 197.75px,#C7CBE5 0 199.12px,#FAE9EB 0 200.48px,#F0BFC5 0 201.84px,#F5D3D8 0 203.2px)"></div>
<div style="left:64.6px;top:637.34px;width:203.2px;height:10.89px;background:linear-gradient(90deg,#FAFAFD 0 1.35px,#FEFAFB 0 2.69px,#D3D6EB 0 4.04px,#E4E6F3 0 5.38px,#FEFBFC 0 6.73px,#C5C9E5 0 8.07px,#F6D8DC 0 9.42px,#EFB7BE 0 10.76px,#D9DCEE 0 12.11px,#FDF6F7 0 13.45px,#F5D6DA 0 14.8px,#DCDEEF 0 16.14px,#F2C9CF 0 17.49px,#F4D0D5 0 18.83px,#F7DDE0 0 20.18px,#C4C8E4 0 21.52px,#EEB2BA 0 22.87px,#FBEEF0 0 24.21px,#F7F8FC 0 25.56px,#FAEBED 0 26.9px,#F7DFE2 0 28.25px,#F8E1E4 0 29.59px,#D8DBED 0 30.94px,#F8F9FC 0 32.28px,#BCC0E0 0 33.63px,#EFB6BD 0 34.97px,#F9F9FC 0 36.32px,#F9E7EA 0 37.66px,#727CBD 0 39.01px,#F7DBDF 0 40.35px,#ABB0D7 0 41.7px,#F5D4D9 0 43.05px,#FEFCFC 0 44.39px,#FBEEF0 0 45.74px,#CBCFE7 0 47.08px,#F8E2E5 0 48.43px,#EFB5BC 0 49.77px,#DDE0F0 0 51.12px,#F0BEC4 0 52.46px,#F6D9DD 0 53.81px,#F2F3F9 0 55.15px,#FDF8F9 0 56.5px,#C9CDE6 0 57.84px,#E7E8F4 0 59.19px,#CDD1E8 0 60.53px,#E57984 0 61.88px,#F8F8FC 0 63.22px,#F5D5DA 0 64.57px,#EA98A2 0 65.91px,#DBDEEF 0 67.26px,#FBECEE 0 68.6px,#FEFEFE 0 69.95px,#EDAAB2 0 71.29px,#E8E9F4 0 72.64px,#FFFFFF 0 73.98px,#C4C8E4 0 75.33px,#FDF5F6 0 76.67px,#FDFDFE 0 78.02px,#E65F68 0 79.36px,#EEB3BA 0 80.71px,#EFF0F8 0 82.05px,#FDF8F8 0 83.4px,#A1A6D3 0 84.76px,#E4E6F3 0 86.12px,#EDA9B1 0 87.48px,#E7E8F4 0 88.85px,#EFF0F8 0 90.21px,#FBEEF0 0 91.57px,#DFE2F1 0 92.93px,#FEFAFB 0 94.29px,#C8CBE6 0 95.65px,#FCF3F4 0 97.01px,#EEB3BA 0 98.38px,#FDF8F8 0 99.74px,#F3CDD2 0 101.1px,#FFFDFD 0 102.46px,#FCFCFE 0 103.82px,#D0D3E9 0 105.18px,#C7CBE5 0 106.54px,#F2C8CD 0 107.9px,#F7DBDF 0 109.27px,#C4C8E4 0 110.63px,#F0F1F8 0 111.99px,#FEFEFF 0 113.35px,#F1C1C7 0 114.71px,#F5D5DA 0 116.07px,#EAEBF5 0 117.43px,#C5C9E4 0 118.8px,#EDACB3 0 120.16px,#F8E1E4 0 121.52px,#F7DFE2 0 122.88px,#6370B8 0 124.24px,#F3F4F9 0 125.6px,#F8E0E4 0 126.96px,#D0D3EA 0 128.33px,#F6D9DD 0 129.69px,#F6F6FB 0 131.05px,#A9AED7 0 132.41px,#BCC1E0 0 133.77px,#ECA6AE 0 135.13px,#8189C4 0 136.49px,#D3D6EB 0 137.85px,#CDD1E8 0 139.22px,#FAFBFD 0 140.58px,#9298CB 0 141.94px,#F7DFE2 0 143.3px,#E75A62 0 144.66px,#DFE1F0 0 146.02px,#FBF0F2 0 147.38px,#DEE0F0 0 148.75px,#EFB6BD 0 150.11px,#C5C9E5 0 151.47px,#AEB3D9 0 152.83px,#B8BCDE 0 154.19px,#DFE1F1 0 155.55px,#F2CACF 0 156.91px,#FCFCFE 0 158.28px,#ACB1D8 0 159.64px,#F9E5E7 0 161px,#F3CBD0 0 162.36px,#E56973 0 163.72px,#CFD2E9 0 165.08px,#FFFEFE 0 166.44px,#FAFAFD 0 167.8px,#FDF5F6 0 169.17px,#F5D6DA 0 170.53px,#F9FAFC 0 171.89px,#F0F1F8 0 173.25px,#F2F3F9 0 174.61px,#F8F9FC 0 175.97px,#E6E7F3 0 177.33px,#FEFCFC 0 178.7px,#C9CDE6 0 180.06px,#EFF1F8 0 181.42px,#ECA1AA 0 182.78px,#E2E4F2 0 184.14px,#F3CDD2 0 185.5px,#F5D3D8 0 186.86px,#FCF1F2 0 188.23px,#AFB4DA 0 189.59px,#F9F9FC 0 190.95px,#FDF8F8 0 192.31px,#F5D5D9 0 193.67px,#F2F3F9 0 195.03px,#E5E7F3 0 196.39px,#F5D6DA 0 197.75px,#A8ADD6 0 199.12px,#F1C6CC 0 200.48px,#E1E3F1 0 201.84px,#FDFDFE 0 203.2px)"></div>
<div style="left:64.6px;top:647.94px;width:203.2px;height:10.89px;background:linear-gradient(90deg,#D4D7EC 0 1.35px,#ECA4AC 0 2.69px,#E88C96 0 4.04px,#F3CDD2 0 5.38px,#F6D9DD 0 6.73px,#F3CED3 0 8.07px,#EB9EA7 0 9.42px,#E7858F 0 10.76px,#F1C3C9 0 12.11px,#FEFBFB 0 13.45px,#F7DBDF 0 14.8px,#EDACB3 0 16.14px,#EA949E 0 17.49px,#EFB6BD 0 18.83px,#FEFCFC 0 20.18px,#D6D9EC 0 21.52px,#E57480 0 22.87px,#EDA9B1 0 24.21px,#F5F5FA 0 25.56px,#EFB8BF 0 26.9px,#E56671 0 28.25px,#EEB4BB 0 29.59px,#F1C4CA 0 30.94px,#F8E1E4 0 32.28px,#F9E5E7 0 33.63px,#F2CACF 0 34.97px,#EEB0B8 0 36.32px,#D7DAED 0 37.66px,#F6DADE 0 39.01px,#EB9FA8 0 40.35px,#FCF3F5 0 41.7px,#EEB0B7 0 43.05px,#CDD0E8 0 44.39px,#EFB6BD 0 45.74px,#FBEFF0 0 47.08px,#F1C4CA 0 48.43px,#E9939C 0 49.77px,#FBEDEF 0 51.12px,#EA969F 0 52.46px,#EFB6BD 0 53.81px,#F0BEC5 0 55.15px,#F6DADD 0 56.5px,#F1C2C8 0 57.84px,#F1C3C9 0 59.19px,#FDF8F9 0 60.53px,#FCF2F4 0 61.88px,#EDABB3 0 63.22px,#C3C7E3 0 64.57px,#EDADB4 0 65.91px,#EFF0F8 0 67.26px,#F2F3F9 0 68.6px,#F7DEE1 0 69.95px,#FCF0F2 0 71.29px,#F6DBDF 0 72.64px,#EFBAC1 0 73.98px,#F0BEC4 0 75.33px,#EEB2BA 0 76.67px,#F0BDC4 0 78.02px,#FDFDFE 0 79.36px,#FAE9EB 0 80.71px,#F0BDC4 0 82.05px,#E98F98 0 83.4px,#BDC1E0 0 84.76px,#FCF2F3 0 86.12px,#969CCD 0 87.48px,#F8F8FC 0 88.85px,#F1C5CB 0 90.21px,#B1B6DB 0 91.57px,#DFE1F0 0 92.93px,#FBEFF1 0 94.29px,#A8ADD6 0 95.65px,#F0F1F8 0 97.01px,#EDABB3 0 98.38px,#EFF0F8 0 99.74px,#FDF8F8 0 101.1px,#F6D9DD 0 102.46px,#DCDFEF 0 103.82px,#E0E2F1 0 105.18px,#FBFBFD 0 106.54px,#FEFEFE 0 107.9px,#F6DBDE 0 109.27px,#CDD1E8 0 110.63px,#E1E3F1 0 111.99px,#C8CCE6 0 113.35px,#ECA3AB 0 114.71px,#EAECF5 0 116.07px,#FDFDFE 0 117.43px,#8F95CA 0 118.8px,#F2F3F9 0 120.16px,#FAECEE 0 121.52px,#F4D0D4 0 122.88px,#EDA7AF 0 124.24px,#EEB0B8 0 125.6px,#B5B9DC 0 126.96px,#FCF1F2 0 128.33px,#A6ABD5 0 129.69px,#BBBFDF 0 131.05px,#FDF6F7 0 132.41px,#E9EAF5 0 133.77px,#E88893 0 135.13px,#9298CB 0 136.49px,#DADDEE 0 137.85px,#CED1E8 0 139.22px,#F4D0D5 0 140.58px,#CFD2E9 0 141.94px,#B3B7DB 0 143.3px,#F1F2F9 0 144.66px,#D1D4EA 0 146.02px,#FAFBFD 0 147.38px,#D5D8EC 0 148.75px,#B3B7DB 0 150.11px,#F9E5E7 0 151.47px,#F2CACF 0 152.83px,#ADB2D9 0 154.19px,#DEE0F0 0 155.55px,#FFFEFE 0 156.91px,#F6F7FB 0 158.28px,#FBFBFD 0 159.64px,#BABEDF 0 161px,#F2C7CC 0 162.36px,#F7DEE2 0 163.72px,#F3CBD0 0 165.08px,#ECEDF6 0 166.44px,#BABEDF 0 167.8px,#FDFDFE 0 169.17px,#EAEBF5 0 170.53px,#F9F9FC 0 171.89px,#A7ACD6 0 173.25px,#DBDEEF 0 174.61px,#FEFEFF 0 175.97px,#F8E2E5 0 177.33px,#E57A85 0 178.7px,#A8ADD6 0 180.06px,#F4F5FA 0 181.42px,#9EA3D1 0 182.78px,#F5F6FB 0 184.14px,#FDF7F8 0 185.5px,#C3C7E3 0 186.86px,#EDABB2 0 188.23px,#B8BCDE 0 189.59px,#DCDEEF 0 190.95px,#FCF3F4 0 192.31px,#FFFEFE 0 193.67px,#FDF7F8 0 195.03px,#A2A7D3 0 196.39px,#DADDEE 0 197.75px,#B2B7DB 0 199.12px,#ECA2AA 0 200.48px,#AFB4DA 0 201.84px,#B0B5DA 0 203.2px)"></div>
<div style="left:64.6px;top:658.53px;width:203.2px;height:10.89px;background:linear-gradient(90deg,#C1C6E3 0 1.35px,#F0BFC5 0 2.69px,#FAE8EB 0 4.04px,#E2E4F2 0 5.38px,#DFE1F0 0 6.73px,#FEFAFA 0 8.07px,#F3CAD0 0 9.42px,#F3F4F9 0 10.76px,#9CA2D0 0 12.11px,#F2F3F9 0 13.45px,#E1E3F1 0 14.8px,#F1C1C8 0 16.14px,#F5D3D8 0 17.49px,#F8E1E4 0 18.83px,#E46E7A 0 20.18px,#C4C8E4 0 21.52px,#EFB4BC 0 22.87px,#5665B2 0 24.21px,#D6D9EC 0 25.56px,#FBF0F2 0 26.9px,#F3CDD2 0 28.25px,#FCF2F4 0 29.59px,#BFC4E2 0 30.94px,#F7F8FC 0 32.28px,#F4D2D7 0 33.63px,#F8E2E5 0 34.97px,#E6636D 0 36.32px,#F5F6FB 0 37.66px,#BDC1E0 0 39.01px,#A9AED7 0 40.35px,#B4B8DC 0 41.7px,#F1F2F8 0 43.05px,#EEEFF7 0 44.39px,#F3CCD1 0 45.74px,#EFF0F8 0 47.08px,#F5D3D8 0 48.43px,#EB9FA8 0 49.77px,#FDF8F9 0 51.12px,#F7DDE0 0 52.46px,#FAE9EC 0 53.81px,#FCF3F4 0 55.15px,#F1C5CB 0 56.5px,#C2C6E3 0 57.84px,#EA959E 0 59.19px,#EFF0F8 0 60.53px,#FDF8F9 0 61.88px,#FAE8EA 0 63.22px,#F1F2F9 0 64.57px,#F3CCD1 0 65.91px,#FDFDFE 0 67.26px,#DFE1F0 0 68.6px,#F4F4FA 0 69.95px,#F8E3E6 0 71.29px,#F8F8FC 0 72.64px,#FFFEFE 0 73.98px,#F2C7CC 0 75.33px,#F6F6FB 0 76.67px,#FEFDFD 0 78.02px,#F9FAFC 0 79.36px,#C9CDE7 0 80.71px,#E46E79 0 82.05px,#A6ABD5 0 83.4px,#E88892 0 84.76px,#F3CCD1 0 86.12px,#B4B8DC 0 87.48px,#ECA6AE 0 88.85px,#FEFCFC 0 90.21px,#FCF3F4 0 91.57px,#FCF3F4 0 92.93px,#D0D3E9 0 94.29px,#DADDEE 0 95.65px,#FAECEE 0 97.01px,#F2C7CC 0 98.38px,#F2C9CF 0 99.74px,#FEFBFC 0 101.1px,#FBEEF0 0 102.46px,#FAECEE 0 103.82px,#F7DDE0 0 105.18px,#D0D3E9 0 106.54px,#F2C7CC 0 107.9px,#EDEEF7 0 109.27px,#F3CBD0 0 110.63px,#FBFBFD 0 111.99px,#F4D1D6 0 113.35px,#F4D1D5 0 114.71px,#F8E2E5 0 116.07px,#BFC3E1 0 117.43px,#C8CCE6 0 118.8px,#F0C1C7 0 120.16px,#F9E4E7 0 121.52px,#D2D5EB 0 122.88px,#FAE9EB 0 124.24px,#F9E4E7 0 125.6px,#A9AED7 0 126.96px,#E7E9F4 0 128.33px,#FDF5F6 0 129.69px,#FDF6F7 0 131.05px,#F0C1C7 0 132.41px,#FDF8F9 0 133.77px,#ECA5AD 0 135.13px,#F8E1E4 0 136.49px,#F9FAFC 0 137.85px,#FAEAEC 0 139.22px,#BDC2E1 0 140.58px,#C4C8E4 0 141.94px,#FDF8F8 0 143.3px,#F2C7CD 0 144.66px,#A0A6D2 0 146.02px,#F8E3E6 0 147.38px,#F6D8DC 0 148.75px,#EFB8BF 0 150.11px,#F8E2E5 0 151.47px,#F4D2D6 0 152.83px,#B8BCDE 0 154.19px,#EEAEB6 0 155.55px,#F8E0E3 0 156.91px,#FDF7F8 0 158.28px,#F7DCE0 0 159.64px,#C4C8E4 0 161px,#B6BADD 0 162.36px,#F4D1D6 0 163.72px,#FBFCFD 0 165.08px,#FEF9FA 0 166.44px,#F3CAD0 0 167.8px,#F3CBD0 0 169.17px,#EB9EA6 0 170.53px,#DCDFEF 0 171.89px,#FBEDEE 0 173.25px,#EEB1B8 0 174.61px,#C1C5E2 0 175.97px,#E4E6F3 0 177.33px,#DADDEE 0 178.7px,#ACB1D8 0 180.06px,#D3D6EB 0 181.42px,#A4A9D4 0 182.78px,#C8CCE6 0 184.14px,#F4D0D5 0 185.5px,#B9BEDF 0 186.86px,#FCF3F4 0 188.23px,#C8CCE6 0 189.59px,#DADDEE 0 190.95px,#B2B7DB 0 192.31px,#F5D6DA 0 193.67px,#E5E7F3 0 195.03px,#D1D4EA 0 196.39px,#F5F6FA 0 197.75px,#BEC3E1 0 199.12px,#E78791 0 200.48px,#FCF1F2 0 201.84px,#EEEFF7 0 203.2px)"></div>
<div style="left:64.6px;top:669.12px;width:203.2px;height:10.89px;background:linear-gradient(90deg,#B6BADD 0 1.35px,#E1E4F2 0 2.69px,#D8DBED 0 4.04px,#F6F7FB 0 5.38px,#888FC7 0 6.73px,#BEC2E1 0 8.07px,#FCF2F4 0 9.42px,#F8F9FC 0 10.76px,#CACEE7 0 12.11px,#9EA3D1 0 13.45px,#F0BCC3 0 14.8px,#FEFCFD 0 16.14px,#F1C2C9 0 17.49px,#DEE0F0 0 18.83px,#D0D3E9 0 20.18px,#B6BADD 0 21.52px,#EA97A0 0 22.87px,#B9BDDE 0 24.21px,#979CCD 0 25.56px,#A7ACD5 0 26.9px,#F4D1D6 0 28.25px,#F3F4FA 0 29.59px,#DDDFEF 0 30.94px,#FCF4F5 0 32.28px,#FBFBFD 0 33.63px,#F5F5FA 0 34.97px,#E94D53 0 36.32px,#ECA1AA 0 37.66px,#B8BCDE 0 39.01px,#F6F6FB 0 40.35px,#D1D4EA 0 41.7px,#FFFDFD 0 43.05px,#BDC2E1 0 44.39px,#B7BCDE 0 45.74px,#C6CAE5 0 47.08px,#F1C6CC 0 48.43px,#EDABB3 0 49.77px,#FFFFFF 0 51.12px,#FDF5F6 0 52.46px,#C7CBE6 0 53.81px,#FDF7F7 0 55.15px,#DADDEE 0 56.5px,#FBEDEF 0 57.84px,#BDC1E0 0 59.19px,#FDF6F7 0 60.53px,#FCF1F2 0 61.88px,#FEFCFC 0 63.22px,#D3D6EB 0 64.57px,#FDF6F7 0 65.91px,#FDFDFE 0 67.26px,#F4F5FA 0 68.6px,#CACEE7 0 69.95px,#F1C5CB 0 71.29px,#999ECE 0 72.64px,#FEFAFA 0 73.98px,#F9E6E9 0 75.33px,#F1C3C9 0 76.67px,#F1C3C9 0 78.02px,#F7DFE2 0 79.36px,#FEFCFC 0 80.71px,#F8E0E3 0 82.05px,#D5D8EC 0 83.4px,#DBDDEF 0 84.76px,#CFD2E9 0 86.12px,#DFE2F1 0 87.48px,#EFB7BE 0 88.85px,#F3CCD1 0 90.21px,#AEB3D9 0 91.57px,#F4F4FA 0 92.93px,#F1F2F9 0 94.29px,#DADDEE 0 95.65px,#D1D4EA 0 97.01px,#E0E2F1 0 98.38px,#F8E2E5 0 99.74px,#949ACC 0 101.1px,#DADDEE 0 102.46px,#F2F3F9 0 103.82px,#EA99A2 0 105.18px,#FCF3F4 0 106.54px,#FCFCFE 0 107.9px,#E9929B 0 109.27px,#AFB4D9 0 110.63px,#7E87C2 0 111.99px,#E8E9F4 0 113.35px,#E2E4F2 0 114.71px,#FCF4F5 0 116.07px,#EDACB4 0 117.43px,#B3B8DB 0 118.8px,#F1C6CC 0 120.16px,#EEAFB7 0 121.52px,#DFE2F1 0 122.88px,#BFC3E2 0 124.24px,#FEFBFB 0 125.6px,#FAFAFD 0 126.96px,#FAEBED 0 128.33px,#E0E2F1 0 129.69px,#F0BFC5 0 131.05px,#FEFDFD 0 132.41px,#E7E8F4 0 133.77px,#F0BDC4 0 135.13px,#FDF5F6 0 136.49px,#FEFAFB 0 137.85px,#EFB5BC 0 139.22px,#ABB0D7 0 140.58px,#D2D5EB 0 141.94px,#B4B9DC 0 143.3px,#F3F4F9 0 144.66px,#BBBFDF 0 146.02px,#F6D9DD 0 147.38px,#E0E2F1 0 148.75px,#EA4448 0 150.11px,#C3C7E4 0 151.47px,#F4D3D7 0 152.83px,#B1B6DB 0 154.19px,#F4F4FA 0 155.55px,#F0BBC2 0 156.91px,#C3C7E4 0 158.28px,#DEE1F0 0 159.64px,#B0B4DA 0 161px,#FCF4F5 0 162.36px,#EFB7BE 0 163.72px,#C4C8E4 0 165.08px,#FCFCFE 0 166.44px,#D6D9EC 0 167.8px,#FAEBED 0 169.17px,#E88892 0 170.53px,#CDD0E8 0 171.89px,#BFC3E2 0 173.25px,#F6F7FB 0 174.61px,#F9E5E8 0 175.97px,#F1C3C9 0 177.33px,#D7DAED 0 178.7px,#C0C4E2 0 180.06px,#EFF0F8 0 181.42px,#C0C4E2 0 182.78px,#AEB2D9 0 184.14px,#F9E7E9 0 185.5px,#F8F8FC 0 186.86px,#C4C8E4 0 188.23px,#B8BDDE 0 189.59px,#F3F4FA 0 190.95px,#C1C5E2 0 192.31px,#FAEBED 0 193.67px,#F5D5D9 0 195.03px,#DDDFEF 0 196.39px,#F7DFE2 0 197.75px,#FEFAFA 0 199.12px,#F8E2E5 0 200.48px,#D5D8EC 0 201.84px,#EFB8BF 0 203.2px)"></div>
<div style="left:64.6px;top:679.72px;width:203.2px;height:10.89px;background:linear-gradient(90deg,#F7DDE1 0 1.35px,#E6E8F4 0 2.69px,#EA98A1 0 4.04px,#F5D3D7 0 5.38px,#E9EAF5 0 6.73px,#EB9FA7 0 8.07px,#EA96A0 0 9.42px,#ECA2AB 0 10.76px,#AFB4D9 0 12.11px,#F5D3D7 0 13.45px,#EEB0B8 0 14.8px,#F7DEE2 0 16.14px,#FDFDFE 0 17.49px,#E88993 0 18.83px,#FBEFF0 0 20.18px,#F7DEE2 0 21.52px,#F1C3C9 0 22.87px,#F9E5E8 0 24.21px,#F1C2C9 0 25.56px,#E9EAF5 0 26.9px,#F8E3E6 0 28.25px,#ECA2AA 0 29.59px,#F7DCE0 0 30.94px,#EDACB4 0 32.28px,#FCF4F5 0 33.63px,#ECA4AC 0 34.97px,#F3CED3 0 36.32px,#EA969F 0 37.66px,#D6D9EC 0 39.01px,#EDACB3 0 40.35px,#F9E5E8 0 41.7px,#FCF1F2 0 43.05px,#F6DADE 0 44.39px,#FCFDFE 0 45.74px,#ADB2D9 0 47.08px,#ECA0A9 0 48.43px,#E8575E 0 49.77px,#D1D5EA 0 51.12px,#F3CCD1 0 52.46px,#EFF0F8 0 53.81px,#F9E8EA 0 55.15px,#C7CBE6 0 56.5px,#F1C5CB 0 57.84px,#F7DFE2 0 59.19px,#FAE9EB 0 60.53px,#E2E4F2 0 61.88px,#F9E6E9 0 63.22px,#FEFAFB 0 64.57px,#E67A85 0 65.91px,#FAE8EB 0 67.26px,#E98F99 0 68.6px,#EFB8BF 0 69.95px,#EDA9B1 0 71.29px,#858CC5 0 72.64px,#ECA1A9 0 73.98px,#F5D6DA 0 75.33px,#E7848E 0 76.67px,#EFF1F8 0 78.02px,#F9E7E9 0 79.36px,#F8F9FC 0 80.71px,#F9E6E8 0 82.05px,#F2C8CE 0 83.4px,#EDEFF7 0 84.76px,#F7F8FB 0 86.12px,#DCDFEF 0 87.48px,#D1D4EA 0 88.85px,#EB3A3D 0 90.21px,#D0D3E9 0 91.57px,#BABEDF 0 92.93px,#CACEE7 0 94.29px,#EDEEF7 0 95.65px,#F8E3E6 0 97.01px,#F5D6DB 0 98.38px,#F4D2D7 0 99.74px,#EDEFF7 0 101.1px,#F9E6E9 0 102.46px,#EA97A0 0 103.82px,#FAEBED 0 105.18px,#FBFBFD 0 106.54px,#B1B6DB 0 107.9px,#FBF0F1 0 109.27px,#FCF3F4 0 110.63px,#F6F7FB 0 111.99px,#F9E4E7 0 113.35px,#D8DBED 0 114.71px,#E3E5F2 0 116.07px,#F9E5E8 0 117.43px,#FBEDEF 0 118.8px,#BBC0E0 0 120.16px,#F0BEC5 0 121.52px,#FEF9F9 0 122.88px,#A8ADD6 0 124.24px,#F5F6FA 0 125.6px,#CBCEE7 0 126.96px,#B4B9DC 0 128.33px,#E5E6F3 0 129.69px,#FBEFF1 0 131.05px,#F7F8FB 0 132.41px,#CED1E8 0 133.77px,#FBFCFD 0 135.13px,#E5E6F3 0 136.49px,#F6D9DD 0 137.85px,#EEAFB6 0 139.22px,#F6F6FB 0 140.58px,#E4E6F3 0 141.94px,#F2C9CF 0 143.3px,#DFE2F1 0 144.66px,#FDF6F7 0 146.02px,#F5D4D8 0 147.38px,#DBDEEF 0 148.75px,#F0F1F8 0 150.11px,#E98E98 0 151.47px,#F6DADD 0 152.83px,#9DA2D0 0 154.19px,#B5BADC 0 155.55px,#F2C9CF 0 156.91px,#CACEE7 0 158.28px,#D2D6EB 0 159.64px,#C9CDE6 0 161px,#EDEEF7 0 162.36px,#F2C8CE 0 163.72px,#FBF0F1 0 165.08px,#FCFCFE 0 166.44px,#D5D8EC 0 167.8px,#F9E4E7 0 169.17px,#E6E8F4 0 170.53px,#DBDDEE 0 171.89px,#DCDEEF 0 173.25px,#FAEAEC 0 174.61px,#F8E2E5 0 175.97px,#BABEDF 0 177.33px,#F0BDC3 0 178.7px,#8189C4 0 180.06px,#F9E7E9 0 181.42px,#FFFDFD 0 182.78px,#E3E5F2 0 184.14px,#D1D4EA 0 185.5px,#B5B9DC 0 186.86px,#F7DFE2 0 188.23px,#FAEAEC 0 189.59px,#DADCEE 0 190.95px,#EFF0F8 0 192.31px,#FDF7F8 0 193.67px,#F0BBC2 0 195.03px,#D4D7EB 0 196.39px,#FDF5F6 0 197.75px,#FCFCFE 0 199.12px,#F7DFE2 0 200.48px,#EFB5BC 0 201.84px,#E5E7F3 0 203.2px)"></div>
<div style="left:64.6px;top:690.31px;width:203.2px;height:10.89px;background:linear-gradient(90deg,#F9E7E9 0 1.35px,#C4C8E4 0 2.69px,#EFB5BC 0 4.04px,#EDADB5 0 5.38px,#FDF5F6 0 6.73px,#E8545B 0 8.07px,#EEB2B9 0 9.42px,#EFB8BF 0 10.76px,#FDF8F9 0 12.11px,#FDFDFE 0 13.45px,#EA99A2 0 14.8px,#F8E3E6 0 16.14px,#E4717D 0 17.49px,#F1C6CB 0 18.83px,#F9E4E7 0 20.18px,#EEEFF7 0 21.52px,#EBA0A9 0 22.87px,#E46E79 0 24.21px,#D6D9EC 0 25.56px,#FDF8F8 0 26.9px,#E98D97 0 28.25px,#EA949D 0 29.59px,#EEB4BB 0 30.94px,#F0BBC2 0 32.28px,#FDF5F6 0 33.63px,#ECA2AA 0 34.97px,#ECA2AA 0 36.32px,#E65F68 0 37.66px,#FEFEFE 0 39.01px,#F4CFD4 0 40.35px,#E0E2F1 0 41.7px,#EEAFB7 0 43.05px,#F9E7E9 0 44.39px,#F1C2C9 0 45.74px,#E88C96 0 47.08px,#F4D1D6 0 48.43px,#EA949E 0 49.77px,#FCF3F4 0 51.12px,#F6DADE 0 52.46px,#F3CED3 0 53.81px,#F0BEC5 0 55.15px,#E4737E 0 56.5px,#EFB9BF 0 57.84px,#ECA5AD 0 59.19px,#F5D6DB 0 60.53px,#F1F2F8 0 61.88px,#ECA2AB 0 63.22px,#EFF0F8 0 64.57px,#F0BEC4 0 65.91px,#F2C9CF 0 67.26px,#F2CACF 0 68.6px,#F5F6FA 0 69.95px,#EEAEB6 0 71.29px,#E9EAF5 0 72.64px,#EEAEB6 0 73.98px,#E66069 0 75.33px,#E88A94 0 76.67px,#F7DFE2 0 78.02px,#F5D4D9 0 79.36px,#FCF4F5 0 80.71px,#F0C1C7 0 82.05px,#EEB4BB 0 83.4px,#F1C5CB 0 84.76px,#FEF9FA 0 86.12px,#F8E1E4 0 87.48px,#F7DDE1 0 88.85px,#F0BAC1 0 90.21px,#FCF4F5 0 91.57px,#FBEEEF 0 92.93px,#CDD1E8 0 94.29px,#B3B8DC 0 95.65px,#C4C8E4 0 97.01px,#F1C3C9 0 98.38px,#F9E5E7 0 99.74px,#FBEFF1 0 101.1px,#EBA0A8 0 102.46px,#F7DFE2 0 103.82px,#F5D3D8 0 105.18px,#F0C0C7 0 106.54px,#E2E4F2 0 107.9px,#F0BCC2 0 109.27px,#FAEAEC 0 110.63px,#C2C6E3 0 111.99px,#F1C4CA 0 113.35px,#BBBFDF 0 114.71px,#FDF6F7 0 116.07px,#F5D3D8 0 117.43px,#CDD0E8 0 118.8px,#F5D7DB 0 120.16px,#E5E6F3 0 121.52px,#C7CBE6 0 122.88px,#FCF1F3 0 124.24px,#BEC3E1 0 125.6px,#C1C5E3 0 126.96px,#C7CAE5 0 128.33px,#FBFCFD 0 129.69px,#F1C6CC 0 131.05px,#8A90C7 0 132.41px,#FDF5F6 0 133.77px,#EBA0A8 0 135.13px,#CBCFE7 0 136.49px,#FAE8EA 0 137.85px,#EEAFB7 0 139.22px,#FBEFF0 0 140.58px,#9EA4D1 0 141.94px,#D9DCEE 0 143.3px,#BCC1E0 0 144.66px,#F5D5D9 0 146.02px,#F1C2C8 0 147.38px,#D7DAED 0 148.75px,#F7DCE0 0 150.11px,#BABFDF 0 151.47px,#F5D5D9 0 152.83px,#979CCD 0 154.19px,#F6DADE 0 155.55px,#F1C3C9 0 156.91px,#E2E4F2 0 158.28px,#B4B9DC 0 159.64px,#F5D3D8 0 161px,#8088C3 0 162.36px,#F9E8EA 0 163.72px,#FDF7F8 0 165.08px,#D9DCEE 0 166.44px,#F5D6DA 0 167.8px,#F4D0D4 0 169.17px,#E9929B 0 170.53px,#FEFAFB 0 171.89px,#8D93C8 0 173.25px,#FEF9FA 0 174.61px,#F5D3D8 0 175.97px,#FEFAFA 0 177.33px,#FEFEFF 0 178.7px,#A6ABD5 0 180.06px,#F1F2F9 0 181.42px,#EBECF6 0 182.78px,#F7F8FB 0 184.14px,#F7DCDF 0 185.5px,#9096CA 0 186.86px,#F6DADE 0 188.23px,#E67F8A 0 189.59px,#FEFDFD 0 190.95px,#F5D5DA 0 192.31px,#C5C9E5 0 193.67px,#C2C6E3 0 195.03px,#FAEBED 0 196.39px,#F8E2E5 0 197.75px,#AAAFD7 0 199.12px,#FDF5F6 0 200.48px,#E56974 0 201.84px,#D6D9EC 0 203.2px)"></div>
<div style="left:64.6px;top:700.91px;width:203.2px;height:10.89px;background:linear-gradient(90deg,#FEFEFF 0 1.35px,#E56C77 0 2.69px,#EDA7AF 0 4.04px,#FAEBED 0 5.38px,#FEF9FA 0 6.73px,#ECA2AA 0 8.07px,#EA959E 0 9.42px,#E88C96 0 10.76px,#F8E0E3 0 12.11px,#D0D3EA 0 13.45px,#F7F8FB 0 14.8px,#EDABB2 0 16.14px,#E6646E 0 17.49px,#EB9CA5 0 18.83px,#ECA5AD 0 20.18px,#F1C1C7 0 21.52px,#ECA6AE 0 22.87px,#EEB2B9 0 24.21px,#F8F9FC 0 25.56px,#F9E8EA 0 26.9px,#E85158 0 28.25px,#F1C4CA 0 29.59px,#EFB5BC 0 30.94px,#FCF1F3 0 32.28px,#E7E9F4 0 33.63px,#F2C9CE 0 34.97px,#E67A86 0 36.32px,#F4CFD4 0 37.66px,#F0BBC2 0 39.01px,#F1C2C8 0 40.35px,#F9E8EA 0 41.7px,#F7DDE0 0 43.05px,#F8E3E6 0 44.39px,#FAE8EB 0 45.74px,#F6DADD 0 47.08px,#F5D4D9 0 48.43px,#ECA6AE 0 49.77px,#E9929C 0 51.12px,#C8CCE6 0 52.46px,#F9F9FC 0 53.81px,#E88791 0 55.15px,#EFB7BE 0 56.5px,#F6D8DC 0 57.84px,#F2C7CD 0 59.19px,#EFB4BB 0 60.53px,#F7DDE0 0 61.88px,#F2C7CD 0 63.22px,#E7E9F4 0 64.57px,#EB9CA5 0 65.91px,#F1C6CB 0 67.26px,#F6DBDE 0 68.6px,#EA969F 0 69.95px,#EEAFB7 0 71.29px,#F7DEE1 0 72.64px,#F0BAC1 0 73.98px,#F3CDD2 0 75.33px,#EDA8B0 0 76.67px,#ECA5AE 0 78.02px,#EDAAB2 0 79.36px,#F2C7CC 0 80.71px,#DCDEEF 0 82.05px,#E57581 0 83.4px,#E7848F 0 84.76px,#FAEBED 0 86.12px,#F6D7DB 0 87.48px,#B7BBDD 0 88.85px,#F7DCE0 0 90.21px,#EDEEF7 0 91.57px,#D0D3EA 0 92.93px,#CCD0E8 0 94.29px,#4657AB 0 95.65px,#B1B6DB 0 97.01px,#E7848E 0 98.38px,#F3F4FA 0 99.74px,#F9FAFC 0 101.1px,#F7DFE2 0 102.46px,#C8CCE6 0 103.82px,#F0BBC2 0 105.18px,#E5E7F3 0 106.54px,#ECEDF6 0 107.9px,#F0BFC5 0 109.27px,#EFB8BF 0 110.63px,#D5D8EC 0 111.99px,#9399CB 0 113.35px,#CFD3E9 0 114.71px,#F4D1D6 0 116.07px,#F3CDD2 0 117.43px,#B1B5DA 0 118.8px,#F2C6CC 0 120.16px,#F4CFD4 0 121.52px,#E0E2F1 0 122.88px,#D2D6EB 0 124.24px,#F6DBDE 0 125.6px,#DDE0F0 0 126.96px,#F1C3C9 0 128.33px,#DCDFEF 0 129.69px,#999FCF 0 131.05px,#F0F1F8 0 132.41px,#EDEFF7 0 133.77px,#F4F5FA 0 135.13px,#C3C7E4 0 136.49px,#F0C0C6 0 137.85px,#EFB4BB 0 139.22px,#F4F4FA 0 140.58px,#C7CBE5 0 141.94px,#FCF0F2 0 143.3px,#F4CFD3 0 144.66px,#F8E0E3 0 146.02px,#D9DBEE 0 147.38px,#AEB2D9 0 148.75px,#AAAFD7 0 150.11px,#EDA8B0 0 151.47px,#9DA2D1 0 152.83px,#A5ABD5 0 154.19px,#F5D7DB 0 155.55px,#7B84C1 0 156.91px,#F9E7E9 0 158.28px,#E6E8F4 0 159.64px,#A7ACD6 0 161px,#FDF6F7 0 162.36px,#EEB1B8 0 163.72px,#E3E5F2 0 165.08px,#EFF0F8 0 166.44px,#F8E3E6 0 167.8px,#D6D9EC 0 169.17px,#EFB7BE 0 170.53px,#CACEE7 0 171.89px,#B9BEDF 0 173.25px,#FEFCFC 0 174.61px,#F0BBC1 0 175.97px,#F9E5E8 0 177.33px,#FDF8F9 0 178.7px,#C4C8E4 0 180.06px,#A9AED7 0 181.42px,#D5D8EC 0 182.78px,#FDF6F7 0 184.14px,#FAEBED 0 185.5px,#D4D7EB 0 186.86px,#EDA7AF 0 188.23px,#F0C0C7 0 189.59px,#F9F9FC 0 190.95px,#EA97A0 0 192.31px,#F3CCD1 0 193.67px,#ECA7AF 0 195.03px,#BFC4E2 0 196.39px,#F0BEC5 0 197.75px,#ADB2D9 0 199.12px,#F2C9CE 0 200.48px,#DFE1F0 0 201.84px,#E2E4F2 0 203.2px)"></div>
<div style="left:459.6px;top:542.6px;width:202px;height:13.02px;background:linear-gradient(90deg,#B8BCDE 0 1.37px,#F7DEE2 0 2.73px,#FEFBFB 0 4.1px,#CFD3E9 0 5.46px,#CACDE7 0 6.82px,#F5D3D8 0 8.19px,#B2B6DB 0 9.56px,#F1C4CA 0 10.92px,#F2C8CD 0 12.29px,#C7CAE5 0 13.65px,#EEB3BB 0 15.01px,#FDF6F7 0 16.38px,#EEB3BA 0 17.75px,#F3CED3 0 19.11px,#FEFBFB 0 20.48px,#E5E7F3 0 21.84px,#DFE1F0 0 23.2px,#E3E5F2 0 24.57px,#FAEBED 0 25.94px,#EB9DA6 0 27.3px,#C5C9E4 0 28.67px,#E57883 0 30.03px,#EDEEF7 0 31.39px,#F0F1F8 0 32.76px,#BEC2E1 0 34.12px,#FEFBFB 0 35.49px,#E7E8F4 0 36.86px,#FDF7F8 0 38.22px,#F7DFE2 0 39.58px,#E88892 0 40.95px,#BABEDF 0 42.31px,#FDF6F7 0 43.68px,#FAEAEC 0 45.05px,#D6D8EC 0 46.41px,#D8DBED 0 47.77px,#FDF7F7 0 49.14px,#F3CED3 0 50.5px,#F4D0D5 0 51.87px,#ED2C2D 0 53.24px,#ECA6AE 0 54.6px,#FCF3F4 0 55.97px,#EDABB3 0 57.33px,#F4CFD4 0 58.7px,#EE2828 0 60.06px,#F2C9CE 0 61.42px,#EB9AA3 0 62.79px,#E6E8F3 0 64.15px,#EFB9C0 0 65.52px,#9DA2D0 0 66.88px,#EDABB3 0 68.25px,#F8E2E5 0 69.62px,#E6E7F3 0 70.98px,#F1C4CA 0 72.35px,#D7DAED 0 73.71px,#FCF1F3 0 75.07px,#DFE1F1 0 76.44px,#FCF3F4 0 77.8px,#D8DBED 0 79.17px,#F8E3E6 0 80.53px,#E98F99 0 81.9px,#E9919B 0 83.26px,#EDABB2 0 84.63px,#DDDFEF 0 85.99px,#D0D3E9 0 87.36px,#E5E6F3 0 88.72px,#E75B63 0 90.09px,#F2C8CE 0 91.45px,#EBECF6 0 92.82px,#FCF1F2 0 94.18px,#9EA4D1 0 95.55px,#C9CDE7 0 96.91px,#FEFAFB 0 98.28px,#C3C7E3 0 99.64px,#C3C7E4 0 101.01px,#F5D3D8 0 102.37px,#DCDEEF 0 103.74px,#FCF0F2 0 105.1px,#DDDFEF 0 106.47px,#DADCEE 0 107.83px,#D6D9EC 0 109.2px,#F8E0E3 0 110.56px,#FBFBFD 0 111.92px,#F5F6FB 0 113.29px,#E4E5F2 0 114.65px,#CFD3E9 0 116.02px,#FCF4F5 0 117.38px,#ECA7AF 0 118.75px,#FBFBFD 0 120.11px,#CBCEE7 0 121.48px,#E0E2F1 0 122.84px,#D3D6EB 0 124.21px,#B8BDDE 0 125.57px,#C4C8E4 0 126.94px,#E9929C 0 128.3px,#F7DDE0 0 129.67px,#A7ACD5 0 131.03px,#FDF7F8 0 132.4px,#CCD0E8 0 133.76px,#FCF2F3 0 135.13px,#EFF0F8 0 136.49px,#C4C8E4 0 137.86px,#BEC2E1 0 139.22px,#F9E6E9 0 140.59px,#F8E1E4 0 141.95px,#E2E4F2 0 143.31px,#F0C0C6 0 144.68px,#C9CDE6 0 146.04px,#FBEEEF 0 147.41px,#F1F2F8 0 148.77px,#F5F6FB 0 150.14px,#ECEDF6 0 151.5px,#F2F3F9 0 152.87px,#BCC0E0 0 154.23px,#C5C9E4 0 155.6px,#BDC1E0 0 156.96px,#FDFDFE 0 158.33px,#AAAFD7 0 159.69px,#EAEBF5 0 161.06px,#FDF6F7 0 162.42px,#F0BBC2 0 163.79px,#F0C1C7 0 165.15px,#F9F9FC 0 166.52px,#C0C4E2 0 167.88px,#FCFCFE 0 169.25px,#ECEDF6 0 170.61px,#EB9DA6 0 171.97px,#BBC0E0 0 173.34px,#EDABB3 0 174.7px,#B6BADD 0 176.07px,#FDFDFE 0 177.43px,#F4D1D6 0 178.8px,#FCF3F5 0 180.16px,#F7DDE0 0 181.53px,#FCF3F5 0 182.89px,#E56B77 0 184.26px,#BDC1E0 0 185.62px,#959BCC 0 186.99px,#FEFAFB 0 188.35px,#BBC0E0 0 189.72px,#C5C9E4 0 191.08px,#F3CBD0 0 192.45px,#D5D8EC 0 193.81px,#E1E3F1 0 195.18px,#BDC1E0 0 196.54px,#E5737F 0 197.91px,#EEEFF7 0 199.27px,#BABEDF 0 200.64px,#C9CDE6 0 202px)"></div>
<div style="left:459.6px;top:555.32px;width:202px;height:13.02px;background:linear-gradient(90deg,#CED1E8 0 1.37px,#FBF0F1 0 2.73px,#EEAEB6 0 4.1px,#F8E2E5 0 5.46px,#F8F9FC 0 6.82px,#F9E6E8 0 8.19px,#B3B8DC 0 9.56px,#EFB8BF 0 10.92px,#EA4449 0 12.29px,#F0C1C7 0 13.65px,#F0BBC1 0 15.01px,#E88892 0 16.38px,#EEB1B8 0 17.75px,#ECA6AE 0 19.11px,#F9FAFC 0 20.48px,#F8F9FC 0 21.84px,#EFB7BE 0 23.2px,#FBF0F1 0 24.57px,#F1C4CA 0 25.94px,#EA97A1 0 27.3px,#FCF1F3 0 28.67px,#EA949D 0 30.03px,#F0BBC1 0 31.39px,#EEADB5 0 32.76px,#FBEDEF 0 34.12px,#BDC1E0 0 35.49px,#F1C3C9 0 36.86px,#E88C96 0 38.22px,#F5D6DA 0 39.58px,#E75E67 0 40.95px,#FAE8EA 0 42.31px,#F0BBC1 0 43.68px,#EA99A2 0 45.05px,#F6D9DD 0 46.41px,#EDADB5 0 47.77px,#EA96A0 0 49.14px,#F7DCDF 0 50.5px,#E88892 0 51.87px,#EC3638 0 53.24px,#E6646E 0 54.6px,#F8E0E3 0 55.97px,#EEB2B9 0 57.33px,#E4727D 0 58.7px,#E57985 0 60.06px,#F6DBDE 0 61.42px,#E88A94 0 62.79px,#EDEEF7 0 64.15px,#EA98A1 0 65.52px,#D3D6EB 0 66.88px,#EE2828 0 68.25px,#F2C8CE 0 69.62px,#F0BDC4 0 70.98px,#E98F98 0 72.35px,#F2C8CD 0 73.71px,#E98F98 0 75.07px,#F3CBD0 0 76.44px,#EFB6BD 0 77.8px,#EFBAC1 0 79.17px,#FAFAFD 0 80.53px,#E65F68 0 81.9px,#EFB4BB 0 83.26px,#DDDFEF 0 84.63px,#E8E9F4 0 85.99px,#C0C4E2 0 87.36px,#EB9BA4 0 88.72px,#EEB4BB 0 90.09px,#EFB7BE 0 91.45px,#FFFEFE 0 92.82px,#DCDEEF 0 94.18px,#5D6BB5 0 95.55px,#CCCFE8 0 96.91px,#FBECEE 0 98.28px,#8E94C9 0 99.64px,#F0F1F8 0 101.01px,#FDF5F6 0 102.37px,#E9EBF5 0 103.74px,#E6E8F4 0 105.1px,#BEC2E1 0 106.47px,#CED2E9 0 107.83px,#C1C5E3 0 109.2px,#FBEFF1 0 110.56px,#E6E7F3 0 111.92px,#CED1E8 0 113.29px,#A8ADD6 0 114.65px,#F7DCDF 0 116.02px,#D0D3EA 0 117.38px,#FAE9EB 0 118.75px,#EFB5BC 0 120.11px,#E3E5F2 0 121.48px,#BCC0E0 0 122.84px,#CBCFE7 0 124.21px,#D0D3EA 0 125.57px,#CCCFE8 0 126.94px,#B7BBDD 0 128.3px,#E88792 0 129.67px,#AAAFD7 0 131.03px,#828AC4 0 132.4px,#B1B6DB 0 133.76px,#CDD0E8 0 135.13px,#D3D6EB 0 136.49px,#E5E7F3 0 137.86px,#BBBFDF 0 139.22px,#FBEDEF 0 140.59px,#B5B9DC 0 141.95px,#BEC2E1 0 143.31px,#FAEAEC 0 144.68px,#C4C8E4 0 146.04px,#EDADB5 0 147.41px,#B7BCDE 0 148.77px,#FAEAEC 0 150.14px,#9197CA 0 151.5px,#E0E2F1 0 152.87px,#D6D8EC 0 154.23px,#9CA2D0 0 155.6px,#ECEEF6 0 156.96px,#C3C7E4 0 158.33px,#FBEFF1 0 159.69px,#727CBD 0 161.06px,#F1C6CC 0 162.42px,#F4D2D7 0 163.79px,#EDABB2 0 165.15px,#C8CCE6 0 166.52px,#D6D9ED 0 167.88px,#FCF4F5 0 169.25px,#BABEDF 0 170.61px,#EBA0A9 0 171.97px,#CBCFE7 0 173.34px,#F9E5E8 0 174.7px,#FDF8F9 0 176.07px,#B2B7DB 0 177.43px,#EBEDF6 0 178.8px,#DFE1F0 0 180.16px,#FCF0F2 0 181.53px,#BDC1E0 0 182.89px,#FAE9EB 0 184.26px,#FEF9FA 0 185.62px,#5E6BB5 0 186.99px,#FAFAFD 0 188.35px,#B8BDDE 0 189.72px,#CBCFE7 0 191.08px,#EDEEF7 0 192.45px,#ECA5AD 0 193.81px,#BABEDF 0 195.18px,#BDC1E0 0 196.54px,#FBECEE 0 197.91px,#FBF0F1 0 199.27px,#DBDDEE 0 200.64px,#DFE1F0 0 202px)"></div>
<div style="left:459.6px;top:568.05px;width:202px;height:13.02px;background:linear-gradient(90deg,#F2CAD0 0 1.37px,#F5D6DA 0 2.73px,#F3CED3 0 4.1px,#F9F9FC 0 5.46px,#FCF3F4 0 6.82px,#F4CFD4 0 8.19px,#B8BDDE 0 9.56px,#E78590 0 10.92px,#F0BBC2 0 12.29px,#EFB4BB 0 13.65px,#F2C7CD 0 15.01px,#F2C8CE 0 16.38px,#ECA4AC 0 17.75px,#EEAEB5 0 19.11px,#F6F7FB 0 20.48px,#F2C6CC 0 21.84px,#F2C7CC 0 23.2px,#EE2A2A 0 24.57px,#F8E1E4 0 25.94px,#EEAFB6 0 27.3px,#F8E0E3 0 28.67px,#E88892 0 30.03px,#F9E8EA 0 31.39px,#F0BDC4 0 32.76px,#EEB3BA 0 34.12px,#F0C0C6 0 35.49px,#EB9BA4 0 36.86px,#EB9FA8 0 38.22px,#F2C9CF 0 39.58px,#E46F7A 0 40.95px,#FBF0F1 0 42.31px,#ADB2D9 0 43.68px,#EDADB5 0 45.05px,#F3CED3 0 46.41px,#EB9FA8 0 47.77px,#EDADB4 0 49.14px,#F0BBC2 0 50.5px,#F7DEE1 0 51.87px,#E56A75 0 53.24px,#ECA6AE 0 54.6px,#F1C2C8 0 55.97px,#EA949E 0 57.33px,#EB9CA5 0 58.7px,#E88A94 0 60.06px,#E88A94 0 61.42px,#E6656F 0 62.79px,#FEFAFA 0 64.15px,#E7818C 0 65.52px,#BBBFDF 0 66.88px,#F8E4E6 0 68.25px,#E46C78 0 69.62px,#EEF0F7 0 70.98px,#E78590 0 72.35px,#E4E6F3 0 73.71px,#E78791 0 75.07px,#F9E6E9 0 76.44px,#F2C7CD 0 77.8px,#EBA0A9 0 79.17px,#EDAAB2 0 80.53px,#EA959E 0 81.9px,#F1C2C9 0 83.26px,#EDEFF7 0 84.63px,#EFF0F8 0 85.99px,#F4D3D7 0 87.36px,#D5D8EC 0 88.72px,#EEB0B8 0 90.09px,#FEFBFC 0 91.45px,#BCC0E0 0 92.82px,#D1D4EA 0 94.18px,#AEB3D9 0 95.55px,#D7DAED 0 96.91px,#EFF0F8 0 98.28px,#CCD0E8 0 99.64px,#B2B6DB 0 101.01px,#FEFBFC 0 102.37px,#ACB1D8 0 103.74px,#FDF8F8 0 105.1px,#F0F1F8 0 106.47px,#BCC1E0 0 107.83px,#EBEDF6 0 109.2px,#D5D8EC 0 110.56px,#CFD3E9 0 111.92px,#C2C6E3 0 113.29px,#E9EAF5 0 114.65px,#FEFEFF 0 116.02px,#F7DCDF 0 117.38px,#F3CDD3 0 118.75px,#BCC0E0 0 120.11px,#FCF3F4 0 121.48px,#EFB6BD 0 122.84px,#B7BCDD 0 124.21px,#A7ACD5 0 125.57px,#C3C7E4 0 126.94px,#B1B5DA 0 128.3px,#F3CBD0 0 129.67px,#A6ABD5 0 131.03px,#CED1E9 0 132.4px,#AEB2D9 0 133.76px,#C2C7E3 0 135.13px,#C1C5E2 0 136.49px,#CACEE7 0 137.86px,#8B91C8 0 139.22px,#E75D66 0 140.59px,#FAFBFD 0 141.95px,#BCC0E0 0 143.31px,#FBEFF0 0 144.68px,#E7E8F4 0 146.04px,#F2C8CE 0 147.41px,#FFFEFE 0 148.77px,#BDC1E1 0 150.14px,#9BA0CF 0 151.5px,#D0D3EA 0 152.87px,#BFC3E2 0 154.23px,#CDD1E8 0 155.6px,#F7F7FB 0 156.96px,#FCFDFE 0 158.33px,#8F95CA 0 159.69px,#ECEDF6 0 161.06px,#FFFFFF 0 162.42px,#F6D8DC 0 163.79px,#B4B8DC 0 165.15px,#A9AED6 0 166.52px,#4254AA 0 167.88px,#EBECF6 0 169.25px,#AFB3D9 0 170.61px,#F0BEC5 0 171.97px,#BFC3E1 0 173.34px,#F1C2C8 0 174.7px,#4355AA 0 176.07px,#8E94C9 0 177.43px,#FFFFFF 0 178.8px,#FFFEFE 0 180.16px,#F6DADE 0 181.53px,#FCF4F5 0 182.89px,#F4D2D7 0 184.26px,#E2E4F2 0 185.62px,#ECEDF6 0 186.99px,#E1E3F1 0 188.35px,#B0B5DA 0 189.72px,#F6DADE 0 191.08px,#999ECE 0 192.45px,#A8ADD6 0 193.81px,#BCC0E0 0 195.18px,#999FCF 0 196.54px,#FBFBFD 0 197.91px,#FFFEFE 0 199.27px,#FBEDEF 0 200.64px,#727DBE 0 202px)"></div>
<div style="left:459.6px;top:580.77px;width:202px;height:13.02px;background:linear-gradient(90deg,#F1F2F8 0 1.37px,#EFB8BF 0 2.73px,#EB9EA7 0 4.1px,#F3CFD3 0 5.46px,#F9E5E7 0 6.82px,#F2C7CD 0 8.19px,#DFE1F0 0 9.56px,#E67E89 0 10.92px,#ECA4AC 0 12.29px,#F9E4E7 0 13.65px,#F6DBDE 0 15.01px,#E88A95 0 16.38px,#F1C6CB 0 17.75px,#EB9AA3 0 19.11px,#F1C6CC 0 20.48px,#F1C2C8 0 21.84px,#EFB8BF 0 23.2px,#F5D4D9 0 24.57px,#FCFDFE 0 25.94px,#E4707C 0 27.3px,#FAE9EB 0 28.67px,#E75D65 0 30.03px,#C6CAE5 0 31.39px,#F4D0D5 0 32.76px,#E6636D 0 34.12px,#F1C1C8 0 35.49px,#E98F99 0 36.86px,#EFB7BE 0 38.22px,#EFBAC1 0 39.58px,#E66069 0 40.95px,#F9E5E8 0 42.31px,#ECA5AD 0 43.68px,#E88A94 0 45.05px,#FEFAFA 0 46.41px,#E98F99 0 47.77px,#EFB9C0 0 49.14px,#EDADB4 0 50.5px,#E88993 0 51.87px,#E8565E 0 53.24px,#E66069 0 54.6px,#EBA0A9 0 55.97px,#F5D4D9 0 57.33px,#F4CFD4 0 58.7px,#E46F7B 0 60.06px,#E46F7A 0 61.42px,#EA97A0 0 62.79px,#B4B9DC 0 64.15px,#EA97A0 0 65.52px,#FAEAED 0 66.88px,#E67D88 0 68.25px,#F0BCC3 0 69.62px,#F8E0E3 0 70.98px,#EA949E 0 72.35px,#E56771 0 73.71px,#E6636D 0 75.07px,#EFB6BD 0 76.44px,#ECA6AE 0 77.8px,#ECA3AB 0 79.17px,#FDF7F8 0 80.53px,#E85158 0 81.9px,#EFB7BE 0 83.26px,#FDF8F8 0 84.63px,#FEFBFC 0 85.99px,#DADDEE 0 87.36px,#F2C6CC 0 88.72px,#FAE9EB 0 90.09px,#EEB1B9 0 91.45px,#F5F6FA 0 92.82px,#F0F2F8 0 94.18px,#B9BDDE 0 95.55px,#E4E5F2 0 96.91px,#EFF0F8 0 98.28px,#E0E2F1 0 99.64px,#989DCE 0 101.01px,#EEB3BA 0 102.37px,#F7DFE2 0 103.74px,#8C92C8 0 105.1px,#E8545C 0 106.47px,#BCC0E0 0 107.83px,#DFE1F0 0 109.2px,#F6F7FB 0 110.56px,#A6ABD5 0 111.92px,#D7DAED 0 113.29px,#F4D1D6 0 114.65px,#FEFBFB 0 116.02px,#E4E6F3 0 117.38px,#F1C5CB 0 118.75px,#FCF1F3 0 120.11px,#FDF7F8 0 121.48px,#ADB2D8 0 122.84px,#C3C7E4 0 124.21px,#838AC4 0 125.57px,#FAECEE 0 126.94px,#EBECF6 0 128.3px,#EBECF6 0 129.67px,#EDEFF7 0 131.03px,#B0B5DA 0 132.4px,#ACB1D8 0 133.76px,#B0B5DA 0 135.13px,#F4F5FA 0 136.49px,#B0B5DA 0 137.86px,#B8BDDE 0 139.22px,#BDC1E0 0 140.59px,#F3F4F9 0 141.95px,#FEFBFB 0 143.31px,#ED2D2E 0 144.68px,#B3B8DC 0 146.04px,#F9E4E7 0 147.41px,#BEC2E1 0 148.77px,#F2C9CE 0 150.14px,#737DBE 0 151.5px,#D6D9EC 0 152.87px,#C5C9E5 0 154.23px,#A5AAD4 0 155.6px,#B8BCDE 0 156.96px,#F6F7FB 0 158.33px,#959BCD 0 159.69px,#EFF0F8 0 161.06px,#F9E7E9 0 162.42px,#C2C6E3 0 163.79px,#F4CFD4 0 165.15px,#D1D4EA 0 166.52px,#ABB0D8 0 167.88px,#5967B3 0 169.25px,#BEC3E1 0 170.61px,#F3CBD0 0 171.97px,#B5BADD 0 173.34px,#F2C7CD 0 174.7px,#E5E6F3 0 176.07px,#A2A7D3 0 177.43px,#E6808B 0 178.8px,#DBDEEF 0 180.16px,#ABB0D7 0 181.53px,#F1C3C9 0 182.89px,#FFFEFE 0 184.26px,#EFF0F8 0 185.62px,#FAFAFD 0 186.99px,#FDF6F7 0 188.35px,#B7BCDE 0 189.72px,#FCF3F4 0 191.08px,#F7DFE2 0 192.45px,#CDD0E8 0 193.81px,#C0C4E2 0 195.18px,#D6D9EC 0 196.54px,#F1C4CA 0 197.91px,#FCF2F4 0 199.27px,#959BCD 0 200.64px,#E1E3F1 0 202px)"></div>
<div style="left:459.6px;top:593.49px;width:202px;height:13.02px;background:linear-gradient(90deg,#ECA1A9 0 1.37px,#ECA1A9 0 2.73px,#E9939D 0 4.1px,#F0BEC5 0 5.46px,#F5D6DA 0 6.82px,#ECA5AD 0 8.19px,#C4C8E4 0 9.56px,#ECA5AD 0 10.92px,#E7838D 0 12.29px,#F2CACF 0 13.65px,#F4D1D6 0 15.01px,#ECA6AE 0 16.38px,#ECA2AA 0 17.75px,#F4D0D5 0 19.11px,#F8F8FC 0 20.48px,#EFB9C0 0 21.84px,#F4D1D6 0 23.2px,#FAEBED 0 24.57px,#E67C87 0 25.94px,#EB9FA8 0 27.3px,#C9CDE6 0 28.67px,#EEAFB6 0 30.03px,#F3CED3 0 31.39px,#EFB9C0 0 32.76px,#F2CACF 0 34.12px,#EA949D 0 35.49px,#F3CDD2 0 36.86px,#E88C96 0 38.22px,#F0BEC5 0 39.58px,#E4707C 0 40.95px,#EEB0B7 0 42.31px,#E6808B 0 43.68px,#E99099 0 45.05px,#EB9EA7 0 46.41px,#F0BDC4 0 47.77px,#E6808A 0 49.14px,#F1C3C9 0 50.5px,#ECA4AD 0 51.87px,#E6636D 0 53.24px,#E75D66 0 54.6px,#EA949D 0 55.97px,#E75961 0 57.33px,#E7848F 0 58.7px,#E57783 0 60.06px,#E6636D 0 61.42px,#E98D97 0 62.79px,#F6D8DC 0 64.15px,#EDACB4 0 65.52px,#E2E4F2 0 66.88px,#EB9BA4 0 68.25px,#EDABB3 0 69.62px,#F0BBC1 0 70.98px,#F1C2C8 0 72.35px,#EDEEF7 0 73.71px,#E57581 0 75.07px,#E88892 0 76.44px,#E7838E 0 77.8px,#F7DEE1 0 79.17px,#F7DDE0 0 80.53px,#E7818B 0 81.9px,#F4CFD3 0 83.26px,#EAECF5 0 84.63px,#E2E4F2 0 85.99px,#DEE1F0 0 87.36px,#DFE1F0 0 88.72px,#F5D4D8 0 90.09px,#E6E8F3 0 91.45px,#CCD0E8 0 92.82px,#BFC4E2 0 94.18px,#B6BADD 0 95.55px,#FBEDEE 0 96.91px,#FDFDFE 0 98.28px,#9AA0CF 0 99.64px,#5B69B4 0 101.01px,#F5D7DB 0 102.37px,#FFFFFF 0 103.74px,#BEC3E1 0 105.1px,#F4F5FA 0 106.47px,#CED1E8 0 107.83px,#DDE0F0 0 109.2px,#F9E4E7 0 110.56px,#FDFDFE 0 111.92px,#C1C5E3 0 113.29px,#F8E1E4 0 114.65px,#FFFDFE 0 116.02px,#D8DBED 0 117.38px,#F0BEC5 0 118.75px,#F9E4E6 0 120.11px,#F8E0E3 0 121.48px,#D2D5EA 0 122.84px,#BDC1E0 0 124.21px,#A5AAD5 0 125.57px,#FFFFFF 0 126.94px,#F5D3D8 0 128.3px,#EFF0F8 0 129.67px,#7C84C1 0 131.03px,#CCCFE8 0 132.4px,#C5C9E5 0 133.76px,#828AC4 0 135.13px,#C8CCE6 0 136.49px,#F9FAFC 0 137.86px,#BBBFDF 0 139.22px,#F2C7CC 0 140.59px,#FEFEFF 0 141.95px,#EEB1B8 0 143.31px,#F1C5CB 0 144.68px,#C9CDE6 0 146.04px,#F0BEC5 0 147.41px,#D6D9EC 0 148.77px,#F7F8FC 0 150.14px,#AFB3D9 0 151.5px,#F9E6E8 0 152.87px,#F1F2F9 0 154.23px,#D8DBED 0 155.6px,#E5E7F3 0 156.96px,#EEEFF7 0 158.33px,#7881C0 0 159.69px,#FCFCFE 0 161.06px,#FEFCFD 0 162.42px,#D2D5EB 0 163.79px,#F3CDD2 0 165.15px,#ABB0D7 0 166.52px,#E9EAF5 0 167.88px,#8990C7 0 169.25px,#C3C7E3 0 170.61px,#E7828D 0 171.97px,#E2E4F2 0 173.34px,#E9EBF5 0 174.7px,#979CCD 0 176.07px,#D5D8EC 0 177.43px,#F6DADE 0 178.8px,#FFFEFF 0 180.16px,#F4D1D6 0 181.53px,#FBEFF1 0 182.89px,#FBFBFD 0 184.26px,#E3E5F2 0 185.62px,#F9E4E7 0 186.99px,#F9E5E8 0 188.35px,#FCFDFE 0 189.72px,#FAEAEC 0 191.08px,#F8E3E6 0 192.45px,#FBEEF0 0 193.81px,#B7BCDE 0 195.18px,#A0A5D2 0 196.54px,#FCF1F3 0 197.91px,#F8F9FC 0 199.27px,#EAECF6 0 200.64px,#D6D8EC 0 202px)"></div>
<div style="left:459.6px;top:606.22px;width:202px;height:13.02px;background:linear-gradient(90deg,#F3CDD2 0 1.37px,#EEADB5 0 2.73px,#F1C4CA 0 4.1px,#FDFDFE 0 5.46px,#F8E2E5 0 6.82px,#F0C0C6 0 8.19px,#E4E6F3 0 9.56px,#EEB0B8 0 10.92px,#E4707C 0 12.29px,#F0C1C7 0 13.65px,#F8E0E3 0 15.01px,#EBA0A9 0 16.38px,#EB9DA5 0 17.75px,#F4D2D6 0 19.11px,#FEFBFC 0 20.48px,#C5C9E5 0 21.84px,#F6D9DC 0 23.2px,#F8E1E4 0 24.57px,#F0BBC2 0 25.94px,#E88C96 0 27.3px,#FAECEE 0 28.67px,#E57480 0 30.03px,#D6D9EC 0 31.39px,#F4D1D6 0 32.76px,#F6DBDF 0 34.12px,#FEFBFC 0 35.49px,#FBEFF0 0 36.86px,#F1C3C9 0 38.22px,#FDF6F7 0 39.58px,#E6616A 0 40.95px,#E6E8F3 0 42.31px,#F1C2C8 0 43.68px,#EDAAB2 0 45.05px,#F1C6CC 0 46.41px,#FEFCFC 0 47.77px,#EFB6BD 0 49.14px,#EFB9C0 0 50.5px,#F9E5E8 0 51.87px,#E6636D 0 53.24px,#E75A62 0 54.6px,#F2C8CE 0 55.97px,#FEFCFC 0 57.33px,#EDADB5 0 58.7px,#EEAEB6 0 60.06px,#EB9FA7 0 61.42px,#E67E89 0 62.79px,#F3F4FA 0 64.15px,#E88B95 0 65.52px,#C5C9E5 0 66.88px,#E88893 0 68.25px,#EA97A1 0 69.62px,#EB9BA4 0 70.98px,#EDABB3 0 72.35px,#F7DDE0 0 73.71px,#ECA2AA 0 75.07px,#E78690 0 76.44px,#EA97A0 0 77.8px,#EEB1B8 0 79.17px,#FEFFFF 0 80.53px,#E98D97 0 81.9px,#EFB9C0 0 83.26px,#8E94C9 0 84.63px,#FDF7F8 0 85.99px,#BDC2E1 0 87.36px,#DFE1F0 0 88.72px,#F0BEC4 0 90.09px,#F3CDD2 0 91.45px,#A3A8D4 0 92.82px,#F5F6FA 0 94.18px,#A5AAD4 0 95.55px,#AFB4DA 0 96.91px,#EDEEF7 0 98.28px,#AEB2D9 0 99.64px,#9399CB 0 101.01px,#FAEAEC 0 102.37px,#D1D5EA 0 103.74px,#E8EAF5 0 105.1px,#CACEE7 0 106.47px,#FFFFFF 0 107.83px,#CDD0E8 0 109.2px,#EAEBF5 0 110.56px,#BABEDF 0 111.92px,#C2C6E3 0 113.29px,#FEFEFE 0 114.65px,#FEFCFC 0 116.02px,#DFE1F0 0 117.38px,#EFB4BC 0 118.75px,#D5D7EC 0 120.11px,#FDF6F7 0 121.48px,#C5C9E4 0 122.84px,#C6CAE5 0 124.21px,#A5ABD5 0 125.57px,#F9E4E7 0 126.94px,#F8E1E4 0 128.3px,#A3A8D4 0 129.67px,#B6BADD 0 131.03px,#A9AED6 0 132.4px,#ACB1D8 0 133.76px,#C6CAE5 0 135.13px,#DDDFF0 0 136.49px,#C3C7E4 0 137.86px,#C2C6E3 0 139.22px,#FAEBED 0 140.59px,#E1E3F1 0 141.95px,#BDC2E1 0 143.31px,#F9E5E7 0 144.68px,#C0C4E2 0 146.04px,#E9929B 0 147.41px,#E9EBF5 0 148.77px,#F1F2F8 0 150.14px,#979DCD 0 151.5px,#E2E4F2 0 152.87px,#FCF0F2 0 154.23px,#CACDE7 0 155.6px,#F1F2F9 0 156.96px,#EBEDF6 0 158.33px,#9096CA 0 159.69px,#EFB5BC 0 161.06px,#D8DBED 0 162.42px,#C4C8E4 0 163.79px,#ECA4AC 0 165.15px,#B7BCDE 0 166.52px,#D6D9EC 0 167.88px,#EFF1F8 0 169.25px,#DADCEE 0 170.61px,#F9E7EA 0 171.97px,#E9EAF5 0 173.34px,#E8E9F4 0 174.7px,#ECEEF7 0 176.07px,#868DC5 0 177.43px,#FBECEE 0 178.8px,#E9EBF5 0 180.16px,#FFFFFF 0 181.53px,#FDF5F6 0 182.89px,#F6F7FB 0 184.26px,#F6D7DB 0 185.62px,#F4D1D5 0 186.99px,#EEEFF7 0 188.35px,#E7E9F4 0 189.72px,#EEB1B8 0 191.08px,#F7DDE0 0 192.45px,#F7F7FB 0 193.81px,#BDC1E0 0 195.18px,#E9EBF5 0 196.54px,#E7E8F4 0 197.91px,#D2D5EB 0 199.27px,#A7ACD5 0 200.64px,#FCF2F3 0 202px)"></div>
<div style="left:459.6px;top:618.94px;width:202px;height:13.02px;background:linear-gradient(90deg,#FAFAFC 0 1.37px,#EDABB3 0 2.73px,#EDADB5 0 4.1px,#F1C5CA 0 5.46px,#F7DCE0 0 6.82px,#F7DEE1 0 8.19px,#FFFFFF 0 9.56px,#E85057 0 10.92px,#F6D9DD 0 12.29px,#E98E98 0 13.65px,#EFB7BE 0 15.01px,#ECA1A9 0 16.38px,#F6D8DC 0 17.75px,#F8E1E4 0 19.11px,#F5D4D8 0 20.48px,#EFB6BD 0 21.84px,#EDA7AF 0 23.2px,#F2C8CE 0 24.57px,#E57A85 0 25.94px,#E7818C 0 27.3px,#E88A94 0 28.67px,#E65F68 0 30.03px,#E88892 0 31.39px,#F6DBDE 0 32.76px,#BCC0E0 0 34.12px,#F3CDD2 0 35.49px,#F6DADE 0 36.86px,#F0BFC5 0 38.22px,#EFB8BF 0 39.58px,#E57480 0 40.95px,#F3CCD1 0 42.31px,#E56A75 0 43.68px,#EA97A1 0 45.05px,#F7DFE2 0 46.41px,#F6DADD 0 47.77px,#F0BEC4 0 49.14px,#F7DCDF 0 50.5px,#EA98A1 0 51.87px,#ED3233 0 53.24px,#E6656F 0 54.6px,#9DA2D0 0 55.97px,#E57782 0 57.33px,#E94F56 0 58.7px,#E9929C 0 60.06px,#EB9DA6 0 61.42px,#E7828D 0 62.79px,#F5D3D8 0 64.15px,#E57782 0 65.52px,#E3E5F2 0 66.88px,#ECA3AB 0 68.25px,#E9939D 0 69.62px,#FFFDFE 0 70.98px,#E88792 0 72.35px,#FDFDFE 0 73.71px,#F0BCC3 0 75.07px,#F1C5CB 0 76.44px,#FEFBFC 0 77.8px,#F4D1D6 0 79.17px,#F2CACF 0 80.53px,#FAE9EC 0 81.9px,#EB9DA6 0 83.26px,#FDFDFE 0 84.63px,#ECA6AE 0 85.99px,#B1B6DA 0 87.36px,#F1F2F8 0 88.72px,#EFB7BE 0 90.09px,#F0BBC1 0 91.45px,#ADB2D9 0 92.82px,#F7F7FB 0 94.18px,#A2A8D3 0 95.55px,#E7E8F4 0 96.91px,#B9BEDF 0 98.28px,#B9BDDE 0 99.64px,#9CA1D0 0 101.01px,#F9E4E7 0 102.37px,#D3D7EB 0 103.74px,#FEFCFC 0 105.1px,#BFC3E1 0 106.47px,#FAE8EA 0 107.83px,#FEF9FA 0 109.2px,#EFB4BB 0 110.56px,#DEE0F0 0 111.92px,#BCC0E0 0 113.29px,#FFFDFE 0 114.65px,#FCF2F3 0 116.02px,#FBFBFD 0 117.38px,#FDF6F7 0 118.75px,#E9EAF5 0 120.11px,#C9CCE6 0 121.48px,#EAECF6 0 122.84px,#838BC4 0 124.21px,#BCC0E0 0 125.57px,#AFB4DA 0 126.94px,#F5F6FA 0 128.3px,#F9E5E8 0 129.67px,#AFB4DA 0 131.03px,#848BC5 0 132.4px,#C3C7E4 0 133.76px,#C1C6E3 0 135.13px,#ABB0D8 0 136.49px,#DEE1F0 0 137.86px,#9BA1D0 0 139.22px,#FCF3F4 0 140.59px,#C0C4E2 0 141.95px,#D4D7EB 0 143.31px,#F1C6CC 0 144.68px,#C7CBE5 0 146.04px,#FEFCFD 0 147.41px,#D1D4EA 0 148.77px,#F8E1E4 0 150.14px,#A2A8D3 0 151.5px,#EB9BA3 0 152.87px,#DEE0F0 0 154.23px,#959ACC 0 155.6px,#FCF3F4 0 156.96px,#F2C8CD 0 158.33px,#F1C4CA 0 159.69px,#B5BADD 0 161.06px,#F9FAFC 0 162.42px,#DADDEE 0 163.79px,#F9FAFC 0 165.15px,#B6BBDD 0 166.52px,#EDEFF7 0 167.88px,#F9E5E8 0 169.25px,#F2F3F9 0 170.61px,#F7F8FB 0 171.97px,#F4D1D6 0 173.34px,#F7F8FB 0 174.7px,#BBBFDF 0 176.07px,#C2C6E3 0 177.43px,#F7DDE0 0 178.8px,#D4D7EB 0 180.16px,#F8E2E5 0 181.53px,#FEF9FA 0 182.89px,#F5D5D9 0 184.26px,#C6CAE5 0 185.62px,#BFC4E2 0 186.99px,#FBFCFD 0 188.35px,#9FA5D2 0 189.72px,#EAEBF5 0 191.08px,#F6D7DB 0 192.45px,#F2F3F9 0 193.81px,#A2A7D3 0 195.18px,#B4B9DC 0 196.54px,#F1F2F9 0 197.91px,#C6CAE5 0 199.27px,#7E86C2 0 200.64px,#D9DBEE 0 202px)"></div>
<div style="left:459.6px;top:631.66px;width:202px;height:13.02px;background:linear-gradient(90deg,#F2F3F9 0 1.37px,#F0BEC4 0 2.73px,#EFB8BF 0 4.1px,#F6F6FB 0 5.46px,#F9E7EA 0 6.82px,#F2C9CF 0 8.19px,#8B91C8 0 9.56px,#E4707C 0 10.92px,#E8565E 0 12.29px,#F0BCC3 0 13.65px,#EEAFB6 0 15.01px,#E78690 0 16.38px,#EDABB3 0 17.75px,#B3B8DC 0 19.11px,#F8E3E6 0 20.48px,#EFBAC1 0 21.84px,#FDF7F8 0 23.2px,#FDF8F8 0 24.57px,#F0C1C7 0 25.94px,#EB9DA6 0 27.3px,#969CCD 0 28.67px,#E4707C 0 30.03px,#F8E1E4 0 31.39px,#E67A85 0 32.76px,#F3F4FA 0 34.12px,#F5D3D8 0 35.49px,#F7F8FC 0 36.86px,#F7DEE1 0 38.22px,#FBEEF0 0 39.58px,#E6646E 0 40.95px,#D0D4EA 0 42.31px,#EFB5BC 0 43.68px,#E57581 0 45.05px,#EA99A2 0 46.41px,#F2CAD0 0 47.77px,#F2C9CF 0 49.14px,#DDDFEF 0 50.5px,#F9E4E7 0 51.87px,#E56670 0 53.24px,#E67B86 0 54.6px,#F3CBD0 0 55.97px,#E7848F 0 57.33px,#E88A94 0 58.7px,#EB9DA5 0 60.06px,#F0BBC2 0 61.42px,#F0BCC3 0 62.79px,#FDF7F8 0 64.15px,#F0BEC4 0 65.52px,#FCF1F3 0 66.88px,#FBEDEF 0 68.25px,#F4D2D6 0 69.62px,#FAECEE 0 70.98px,#E9919B 0 72.35px,#FDFDFE 0 73.71px,#EC393C 0 75.07px,#F9E5E7 0 76.44px,#FBEEF0 0 77.8px,#F0BBC1 0 79.17px,#FBF0F2 0 80.53px,#E75C65 0 81.9px,#E6808B 0 83.26px,#D3D6EB 0 84.63px,#E3E5F2 0 85.99px,#F4F5FA 0 87.36px,#F4D2D7 0 88.72px,#F2C7CD 0 90.09px,#FBEEF0 0 91.45px,#B9BDDE 0 92.82px,#A7ACD5 0 94.18px,#C0C5E2 0 95.55px,#B4B9DC 0 96.91px,#D3D6EB 0 98.28px,#989ECE 0 99.64px,#A1A6D3 0 101.01px,#F8E0E3 0 102.37px,#EFF0F8 0 103.74px,#F0BBC2 0 105.1px,#DDDFEF 0 106.47px,#D3D6EB 0 107.83px,#DFE1F0 0 109.2px,#DCDFEF 0 110.56px,#FDFDFE 0 111.92px,#E0E2F1 0 113.29px,#E6E8F4 0 114.65px,#E88892 0 116.02px,#D1D4EA 0 117.38px,#EEAFB7 0 118.75px,#FBEEF0 0 120.11px,#DCDEEF 0 121.48px,#D7DAED 0 122.84px,#B5B9DC 0 124.21px,#AAAFD7 0 125.57px,#FFFEFE 0 126.94px,#ECA3AB 0 128.3px,#F9E4E7 0 129.67px,#5F6CB6 0 131.03px,#CCD0E8 0 132.4px,#A8ADD6 0 133.76px,#ABB0D8 0 135.13px,#DDDFEF 0 136.49px,#E4E6F3 0 137.86px,#C6CAE5 0 139.22px,#F5D4D8 0 140.59px,#F2C8CD 0 141.95px,#D9DCEE 0 143.31px,#EEB4BB 0 144.68px,#C0C4E2 0 146.04px,#F8E2E5 0 147.41px,#C9CDE6 0 148.77px,#D7DAED 0 150.14px,#B9BDDE 0 151.5px,#D0D3EA 0 152.87px,#EBECF6 0 154.23px,#CDD1E8 0 155.6px,#FFFEFE 0 156.96px,#FCFCFE 0 158.33px,#D0D3E9 0 159.69px,#CBCFE7 0 161.06px,#D7DAED 0 162.42px,#C5C9E5 0 163.79px,#EEAFB7 0 165.15px,#C6CAE5 0 166.52px,#F5F6FA 0 167.88px,#F8E2E5 0 169.25px,#F9E6E9 0 170.61px,#F1C5CB 0 171.97px,#FFFDFD 0 173.34px,#F7DDE1 0 174.7px,#FFFEFE 0 176.07px,#EAEBF5 0 177.43px,#F4D2D6 0 178.8px,#FCFCFE 0 180.16px,#E67F8A 0 181.53px,#F7DEE2 0 182.89px,#FCFCFD 0 184.26px,#BDC1E0 0 185.62px,#E1E3F1 0 186.99px,#EBECF6 0 188.35px,#F4D1D6 0 189.72px,#BEC2E1 0 191.08px,#EDABB3 0 192.45px,#F5F6FA 0 193.81px,#E94B50 0 195.18px,#B1B5DA 0 196.54px,#FFFEFE 0 197.91px,#D4D7EB 0 199.27px,#D8DAED 0 200.64px,#FEFCFD 0 202px)"></div>
<div style="left:459.6px;top:644.38px;width:202px;height:13.02px;background:linear-gradient(90deg,#FEFBFC 0 1.37px,#EDA9B1 0 2.73px,#EDA9B1 0 4.1px,#F6D7DB 0 5.46px,#FFFEFE 0 6.82px,#EE2828 0 8.19px,#DADDEE 0 9.56px,#EDA7AF 0 10.92px,#F6DADE 0 12.29px,#E9919B 0 13.65px,#EB9DA6 0 15.01px,#F0BDC4 0 16.38px,#D0D3E9 0 17.75px,#EE2828 0 19.11px,#FEF9FA 0 20.48px,#E9EBF5 0 21.84px,#FFFDFD 0 23.2px,#F4F5FA 0 24.57px,#E94D53 0 25.94px,#E6646F 0 27.3px,#D8DAED 0 28.67px,#F2C7CC 0 30.03px,#969CCD 0 31.39px,#E4707C 0 32.76px,#F1C3C9 0 34.12px,#F2C7CD 0 35.49px,#F7DFE2 0 36.86px,#E75A63 0 38.22px,#FEFCFD 0 39.58px,#E9909A 0 40.95px,#DBDEEF 0 42.31px,#F0BBC1 0 43.68px,#EEAEB6 0 45.05px,#F7DEE1 0 46.41px,#E75C64 0 47.77px,#ECA2AA 0 49.14px,#F3CDD2 0 50.5px,#F0C0C7 0 51.87px,#E56772 0 53.24px,#E88792 0 54.6px,#EA949E 0 55.97px,#EB9FA8 0 57.33px,#EDA7AF 0 58.7px,#EA969F 0 60.06px,#EFB7BE 0 61.42px,#EA97A0 0 62.79px,#FDF7F8 0 64.15px,#E56671 0 65.52px,#FCF4F5 0 66.88px,#EA99A2 0 68.25px,#EA99A2 0 69.62px,#F2CACF 0 70.98px,#EEAFB6 0 72.35px,#FBEFF1 0 73.71px,#E7838D 0 75.07px,#ECA6AE 0 76.44px,#E99099 0 77.8px,#F8E4E6 0 79.17px,#F2CACF 0 80.53px,#E75B63 0 81.9px,#EDABB3 0 83.26px,#E3E5F2 0 84.63px,#FFFFFF 0 85.99px,#E8E9F4 0 87.36px,#F7DDE0 0 88.72px,#F0BAC1 0 90.09px,#FDFDFE 0 91.45px,#CBCFE7 0 92.82px,#E4E6F3 0 94.18px,#AAAFD7 0 95.55px,#BABEDF 0 96.91px,#7F87C3 0 98.28px,#E2E4F2 0 99.64px,#7F87C3 0 101.01px,#F9E6E9 0 102.37px,#D7DAED 0 103.74px,#F7DFE2 0 105.1px,#E6E7F3 0 106.47px,#AEB2D9 0 107.83px,#D3D6EB 0 109.2px,#EB9CA5 0 110.56px,#E3E5F2 0 111.92px,#B4B8DC 0 113.29px,#D9DBEE 0 114.65px,#F3F4F9 0 116.02px,#EBECF6 0 117.38px,#F6D8DC 0 118.75px,#FBFBFD 0 120.11px,#F8F8FC 0 121.48px,#E6E8F4 0 122.84px,#9197CA 0 124.21px,#B7BCDE 0 125.57px,#F5F6FA 0 126.94px,#F3F4FA 0 128.3px,#EFB8BF 0 129.67px,#FBFBFD 0 131.03px,#A1A6D3 0 132.4px,#B1B6DB 0 133.76px,#9AA0CF 0 135.13px,#F2CACF 0 136.49px,#AAAFD7 0 137.86px,#6873B9 0 139.22px,#B7BCDE 0 140.59px,#F5F6FB 0 141.95px,#F5F6FA 0 143.31px,#ECA4AC 0 144.68px,#CDD1E8 0 146.04px,#F9E5E7 0 147.41px,#D1D4EA 0 148.77px,#FCF2F3 0 150.14px,#B5B9DC 0 151.5px,#D8DBED 0 152.87px,#A5AAD5 0 154.23px,#878EC6 0 155.6px,#FFFFFF 0 156.96px,#D2D5EA 0 158.33px,#A1A6D2 0 159.69px,#D0D3E9 0 161.06px,#F8E0E3 0 162.42px,#A2A8D3 0 163.79px,#E56974 0 165.15px,#CDD0E8 0 166.52px,#A1A7D3 0 167.88px,#C9CDE7 0 169.25px,#EEB1B8 0 170.61px,#E9939D 0 171.97px,#DEE0F0 0 173.34px,#E5E7F3 0 174.7px,#FEFAFA 0 176.07px,#F9F9FC 0 177.43px,#F5D4D9 0 178.8px,#D7DAED 0 180.16px,#F6D9DC 0 181.53px,#D0D3EA 0 182.89px,#F9E8EA 0 184.26px,#F2F3F9 0 185.62px,#F7DFE3 0 186.99px,#F7DBDF 0 188.35px,#979CCD 0 189.72px,#E75A62 0 191.08px,#FEFAFB 0 192.45px,#F5D4D8 0 193.81px,#717BBD 0 195.18px,#C2C6E3 0 196.54px,#EAEBF5 0 197.91px,#ADB1D8 0 199.27px,#EBECF6 0 200.64px,#C8CCE6 0 202px)"></div>
<div style="left:459.6px;top:657.11px;width:202px;height:13.02px;background:linear-gradient(90deg,#CED1E9 0 1.37px,#F4CFD4 0 2.73px,#EDABB3 0 4.1px,#F3CBD1 0 5.46px,#F0BFC6 0 6.82px,#FEFCFC 0 8.19px,#E3E5F2 0 9.56px,#ECA5AD 0 10.92px,#F0BCC2 0 12.29px,#EDA9B1 0 13.65px,#EDAAB1 0 15.01px,#ECA3AC 0 16.38px,#F4D0D5 0 17.75px,#EDA7AF 0 19.11px,#FDF7F8 0 20.48px,#F6D8DC 0 21.84px,#FAEBED 0 23.2px,#F2C9CE 0 24.57px,#E78690 0 25.94px,#EEB0B7 0 27.3px,#FEFAFB 0 28.67px,#E88994 0 30.03px,#EFB8BF 0 31.39px,#F4D1D6 0 32.76px,#EFB5BC 0 34.12px,#F3CCD1 0 35.49px,#F2C9CF 0 36.86px,#EDADB5 0 38.22px,#FCF1F2 0 39.58px,#E4707C 0 40.95px,#D1D4EA 0 42.31px,#ECA3AB 0 43.68px,#EFB7BE 0 45.05px,#FEFBFB 0 46.41px,#ECA5AE 0 47.77px,#EFB9C0 0 49.14px,#ECA6AE 0 50.5px,#E56C78 0 51.87px,#E65E67 0 53.24px,#E6636D 0 54.6px,#EEAEB5 0 55.97px,#ECA6AE 0 57.33px,#ECA3AB 0 58.7px,#ECA3AB 0 60.06px,#E46E79 0 61.42px,#E9919B 0 62.79px,#F8E0E3 0 64.15px,#E8535A 0 65.52px,#FEF9F9 0 66.88px,#EDADB5 0 68.25px,#EB9FA8 0 69.62px,#F7DFE2 0 70.98px,#E88993 0 72.35px,#F1C5CB 0 73.71px,#EB9CA5 0 75.07px,#F3CDD2 0 76.44px,#E88C96 0 77.8px,#F8E3E6 0 79.17px,#717CBD 0 80.53px,#E6606A 0 81.9px,#EB9BA4 0 83.26px,#D3D6EB 0 84.63px,#F8E3E6 0 85.99px,#CCD0E8 0 87.36px,#EEB1B8 0 88.72px,#EA949E 0 90.09px,#F4D1D5 0 91.45px,#EBEDF6 0 92.82px,#999FCF 0 94.18px,#969BCD 0 95.55px,#ACB0D8 0 96.91px,#F8E0E3 0 98.28px,#9499CC 0 99.64px,#A1A6D2 0 101.01px,#F8E2E5 0 102.37px,#F8F8FC 0 103.74px,#F6F7FB 0 105.1px,#F5D7DB 0 106.47px,#FAE9EB 0 107.83px,#F1F2F9 0 109.2px,#F7DDE0 0 110.56px,#B7BCDE 0 111.92px,#BCC1E0 0 113.29px,#D2D5EB 0 114.65px,#D8DBED 0 116.02px,#B1B5DA 0 117.38px,#EFB8BF 0 118.75px,#EBECF6 0 120.11px,#D5D8EC 0 121.48px,#B5B9DC 0 122.84px,#FCF3F4 0 124.21px,#A1A6D3 0 125.57px,#F2C7CD 0 126.94px,#F7DCE0 0 128.3px,#F1C6CC 0 129.67px,#D3D6EB 0 131.03px,#D5D8EC 0 132.4px,#ACB1D8 0 133.76px,#D4D7EB 0 135.13px,#FDFDFE 0 136.49px,#979DCE 0 137.86px,#B1B6DB 0 139.22px,#F3F4FA 0 140.59px,#EBECF6 0 141.95px,#E6E8F4 0 143.31px,#F8E3E6 0 144.68px,#B4B9DC 0 146.04px,#FBFBFD 0 147.41px,#C1C5E2 0 148.77px,#E8EAF4 0 150.14px,#9399CC 0 151.5px,#DEE1F0 0 152.87px,#B7BBDD 0 154.23px,#B8BDDE 0 155.6px,#F1F2F9 0 156.96px,#FEFEFF 0 158.33px,#8E94C9 0 159.69px,#FCF3F4 0 161.06px,#E7E8F4 0 162.42px,#ECA1AA 0 163.79px,#EDADB5 0 165.15px,#C1C5E2 0 166.52px,#F8F9FC 0 167.88px,#C0C4E2 0 169.25px,#E3E5F2 0 170.61px,#F9E4E7 0 171.97px,#C5C9E5 0 173.34px,#FFFEFE 0 174.7px,#C1C5E3 0 176.07px,#F6D9DD 0 177.43px,#F6DADE 0 178.8px,#E66069 0 180.16px,#B9BDDE 0 181.53px,#FBFBFD 0 182.89px,#B7BBDD 0 184.26px,#F9E6E9 0 185.62px,#B9BDDE 0 186.99px,#EA99A2 0 188.35px,#DFE1F0 0 189.72px,#E7E8F4 0 191.08px,#FAE9EC 0 192.45px,#F4D0D5 0 193.81px,#A9AED7 0 195.18px,#C3C7E3 0 196.54px,#D8DBED 0 197.91px,#FEFBFB 0 199.27px,#616EB7 0 200.64px,#B4B9DC 0 202px)"></div>
<div style="left:459.6px;top:669.83px;width:202px;height:13.02px;background:linear-gradient(90deg,#F4D1D6 0 1.37px,#E46F7B 0 2.73px,#ECA3AB 0 4.1px,#F3CDD2 0 5.46px,#EA464C 0 6.82px,#EDABB3 0 8.19px,#CBCEE7 0 9.56px,#EB9BA4 0 10.92px,#E98D97 0 12.29px,#E98F99 0 13.65px,#E67A85 0 15.01px,#EEB3BA 0 16.38px,#F1C3C9 0 17.75px,#EFB7BE 0 19.11px,#E9EAF5 0 20.48px,#F1C3C9 0 21.84px,#F9E7EA 0 23.2px,#E7E8F4 0 24.57px,#F1C2C8 0 25.94px,#EEB1B9 0 27.3px,#F1C1C7 0 28.67px,#E6636C 0 30.03px,#FFFEFE 0 31.39px,#F0BDC3 0 32.76px,#EB9BA4 0 34.12px,#F7F8FB 0 35.49px,#F5D7DB 0 36.86px,#E7848E 0 38.22px,#FCF2F3 0 39.58px,#E56872 0 40.95px,#F5D5D9 0 42.31px,#E7848E 0 43.68px,#E88993 0 45.05px,#FBEEF0 0 46.41px,#EA9AA3 0 47.77px,#EEB0B7 0 49.14px,#ECA6AE 0 50.5px,#ECA2AB 0 51.87px,#E78590 0 53.24px,#E57682 0 54.6px,#FCFDFE 0 55.97px,#E4737F 0 57.33px,#E67C87 0 58.7px,#E6656F 0 60.06px,#E94B50 0 61.42px,#F6D9DD 0 62.79px,#FFFDFD 0 64.15px,#ECA3AB 0 65.52px,#FFFEFF 0 66.88px,#ECA6AE 0 68.25px,#E4707C 0 69.62px,#FCF0F2 0 70.98px,#F0BBC1 0 72.35px,#F9FAFC 0 73.71px,#E46F7A 0 75.07px,#F4D0D5 0 76.44px,#E88C96 0 77.8px,#F4D2D7 0 79.17px,#FAEAED 0 80.53px,#EA4448 0 81.9px,#F0BFC6 0 83.26px,#D6D9EC 0 84.63px,#E1E3F1 0 85.99px,#FBECEE 0 87.36px,#FAEBED 0 88.72px,#EEB4BB 0 90.09px,#ECA2AA 0 91.45px,#CDD1E8 0 92.82px,#EAECF5 0 94.18px,#CBCEE7 0 95.55px,#E6E8F4 0 96.91px,#EAEBF5 0 98.28px,#878EC6 0 99.64px,#FDF6F7 0 101.01px,#FAE9EB 0 102.37px,#F1F2F9 0 103.74px,#F0F1F8 0 105.1px,#A8ADD6 0 106.47px,#F5F6FB 0 107.83px,#FCF3F4 0 109.2px,#CBCEE7 0 110.56px,#BCC0E0 0 111.92px,#ACB1D8 0 113.29px,#DFE1F0 0 114.65px,#D9DCEE 0 116.02px,#FEFBFC 0 117.38px,#EDA8B0 0 118.75px,#F5D3D8 0 120.11px,#C1C5E3 0 121.48px,#ADB2D9 0 122.84px,#A5AAD5 0 124.21px,#A4A9D4 0 125.57px,#D7DAED 0 126.94px,#FEFCFC 0 128.3px,#A0A6D2 0 129.67px,#ACB1D8 0 131.03px,#A1A6D3 0 132.4px,#A5AAD5 0 133.76px,#FBFBFD 0 135.13px,#BBBFDF 0 136.49px,#C4C8E4 0 137.86px,#949ACC 0 139.22px,#EA4246 0 140.59px,#A7ACD6 0 141.95px,#9A9FCF 0 143.31px,#F8E2E5 0 144.68px,#EFF0F8 0 146.04px,#F4D0D4 0 147.41px,#717CBD 0 148.77px,#EEEFF7 0 150.14px,#A4A9D4 0 151.5px,#FCF4F5 0 152.87px,#BFC3E2 0 154.23px,#DCDEEF 0 155.6px,#EDEFF7 0 156.96px,#FDF6F7 0 158.33px,#A7ACD5 0 159.69px,#F6DBDE 0 161.06px,#F4D2D6 0 162.42px,#DFE1F0 0 163.79px,#FDF6F7 0 165.15px,#A6ACD5 0 166.52px,#E1E3F1 0 167.88px,#F5D5D9 0 169.25px,#CFD3E9 0 170.61px,#EEB3BA 0 171.97px,#FFFDFD 0 173.34px,#F7DCDF 0 174.7px,#C1C5E3 0 176.07px,#D8DBED 0 177.43px,#FCFCFD 0 178.8px,#C0C4E2 0 180.16px,#F8F8FC 0 181.53px,#FBECEE 0 182.89px,#F4D1D5 0 184.26px,#E5E6F3 0 185.62px,#E8EAF5 0 186.99px,#B6BBDD 0 188.35px,#C6CAE5 0 189.72px,#F9E7EA 0 191.08px,#E8E9F4 0 192.45px,#FDF6F7 0 193.81px,#C9CCE6 0 195.18px,#B4B8DC 0 196.54px,#FEFCFC 0 197.91px,#D4D7EC 0 199.27px,#F3F4FA 0 200.64px,#E5E7F3 0 202px)"></div>
<div style="left:459.6px;top:682.55px;width:202px;height:13.02px;background:linear-gradient(90deg,#F6D9DC 0 1.37px,#FCF4F5 0 2.73px,#E56873 0 4.1px,#C5C9E5 0 5.46px,#C9CDE6 0 6.82px,#F9E6E9 0 8.19px,#A9AED6 0 9.56px,#EEB3BA 0 10.92px,#F1C6CC 0 12.29px,#FCF4F5 0 13.65px,#F6DBDE 0 15.01px,#F8E0E3 0 16.38px,#F9E5E8 0 17.75px,#F6DADD 0 19.11px,#AFB4D9 0 20.48px,#FDF7F7 0 21.84px,#F1C6CB 0 23.2px,#DEE0F0 0 24.57px,#F2C6CC 0 25.94px,#F0C0C7 0 27.3px,#DCDFEF 0 28.67px,#EEB2B9 0 30.03px,#FEFBFB 0 31.39px,#F1C3C9 0 32.76px,#E8EAF5 0 34.12px,#D7DAED 0 35.49px,#E7838D 0 36.86px,#EDAAB2 0 38.22px,#F2F3F9 0 39.58px,#EDADB5 0 40.95px,#FBEEF0 0 42.31px,#EFB9C0 0 43.68px,#F5D6DA 0 45.05px,#D9DBEE 0 46.41px,#FAEBED 0 47.77px,#F4D2D7 0 49.14px,#E0E2F1 0 50.5px,#F6D8DC 0 51.87px,#F7F7FB 0 53.24px,#E6626C 0 54.6px,#EDADB4 0 55.97px,#ECA1A9 0 57.33px,#EA969F 0 58.7px,#ECA5AD 0 60.06px,#E78690 0 61.42px,#E57985 0 62.79px,#FCFCFE 0 64.15px,#E46F7B 0 65.52px,#D4D7EB 0 66.88px,#FFFFFF 0 68.25px,#F8E2E5 0 69.62px,#BABEDF 0 70.98px,#EB9EA7 0 72.35px,#FAFAFD 0 73.71px,#F0BEC5 0 75.07px,#F9E8EA 0 76.44px,#EDACB4 0 77.8px,#F1C3C9 0 79.17px,#F2F3F9 0 80.53px,#E7858F 0 81.9px,#E9939C 0 83.26px,#F9E5E7 0 84.63px,#FBEDEF 0 85.99px,#C0C5E2 0 87.36px,#E7828D 0 88.72px,#E9909A 0 90.09px,#F8F8FC 0 91.45px,#FFFEFE 0 92.82px,#FBFBFD 0 94.18px,#9BA0CF 0 95.55px,#D4D7EB 0 96.91px,#CFD2E9 0 98.28px,#CACDE7 0 99.64px,#BBC0E0 0 101.01px,#F6DBDE 0 102.37px,#FCFCFD 0 103.74px,#8C92C8 0 105.1px,#F2F3F9 0 106.47px,#BDC1E0 0 107.83px,#E9939D 0 109.2px,#FCF2F3 0 110.56px,#878DC6 0 111.92px,#BEC3E1 0 113.29px,#F5D5D9 0 114.65px,#F0F1F8 0 116.02px,#F8E1E4 0 117.38px,#F4CFD4 0 118.75px,#E1E3F1 0 120.11px,#FBEFF1 0 121.48px,#C4C8E4 0 122.84px,#FDF8F9 0 124.21px,#CDD0E8 0 125.57px,#C4C8E4 0 126.94px,#ECA4AC 0 128.3px,#F8E0E3 0 129.67px,#BBBFDF 0 131.03px,#BCC0E0 0 132.4px,#FCF4F5 0 133.76px,#C4C8E4 0 135.13px,#C6CAE5 0 136.49px,#D7DAED 0 137.86px,#A8ADD6 0 139.22px,#EDADB5 0 140.59px,#F3F4FA 0 141.95px,#EAECF6 0 143.31px,#F2CAD0 0 144.68px,#FAFAFD 0 146.04px,#F9E5E8 0 147.41px,#C5C9E4 0 148.77px,#ECEDF6 0 150.14px,#A9AED7 0 151.5px,#E6E7F3 0 152.87px,#B7BBDD 0 154.23px,#CACDE7 0 155.6px,#9096CA 0 156.96px,#FDF5F6 0 158.33px,#A2A8D3 0 159.69px,#F2CACF 0 161.06px,#F0BCC2 0 162.42px,#C2C7E3 0 163.79px,#FAECEE 0 165.15px,#D8DAED 0 166.52px,#BDC1E1 0 167.88px,#FCF3F5 0 169.25px,#F8E3E6 0 170.61px,#F7DCE0 0 171.97px,#FCF3F4 0 173.34px,#A8ADD6 0 174.7px,#C5C9E4 0 176.07px,#AAAFD7 0 177.43px,#F3CED3 0 178.8px,#F0BDC4 0 180.16px,#F9E4E7 0 181.53px,#FAEAED 0 182.89px,#F1C4CA 0 184.26px,#D9DCEE 0 185.62px,#F8F9FC 0 186.99px,#FBFCFD 0 188.35px,#FBFBFD 0 189.72px,#DADDEE 0 191.08px,#F1C4CA 0 192.45px,#F4D2D7 0 193.81px,#BABFDF 0 195.18px,#F1F2F9 0 196.54px,#FFFDFD 0 197.91px,#F6D7DB 0 199.27px,#E5E7F3 0 200.64px,#CACDE7 0 202px)"></div>
<div style="left:459.6px;top:695.28px;width:202px;height:13.02px;background:linear-gradient(90deg,#FEFEFF 0 1.37px,#F4CFD4 0 2.73px,#EB9DA6 0 4.1px,#E8E9F4 0 5.46px,#E3E5F2 0 6.82px,#EEB3BA 0 8.19px,#EDEFF7 0 9.56px,#ECA7AF 0 10.92px,#F4D2D7 0 12.29px,#EFB6BD 0 13.65px,#BFC3E1 0 15.01px,#F0BFC6 0 16.38px,#E9929B 0 17.75px,#CBCFE7 0 19.11px,#ADB1D8 0 20.48px,#6974BA 0 21.84px,#FDF8F9 0 23.2px,#D1D4EA 0 24.57px,#F0C1C7 0 25.94px,#FCF4F5 0 27.3px,#FFFEFE 0 28.67px,#F3CED3 0 30.03px,#FAE9EC 0 31.39px,#F0C0C6 0 32.76px,#F4D0D4 0 34.12px,#FDF6F7 0 35.49px,#F1C1C8 0 36.86px,#F1C5CB 0 38.22px,#F6D8DC 0 39.58px,#EEB2B9 0 40.95px,#F6F7FB 0 42.31px,#E67F89 0 43.68px,#FDFDFE 0 45.05px,#FBEFF1 0 46.41px,#F4CFD4 0 47.77px,#FAEAEC 0 49.14px,#FDF7F8 0 50.5px,#F4D2D7 0 51.87px,#E88892 0 53.24px,#EA454A 0 54.6px,#F0BEC4 0 55.97px,#EEB3BA 0 57.33px,#E94E54 0 58.7px,#EA99A2 0 60.06px,#E88C96 0 61.42px,#E7E9F4 0 62.79px,#DADDEE 0 64.15px,#ECA2AA 0 65.52px,#A9AED7 0 66.88px,#EDADB5 0 68.25px,#F4D3D7 0 69.62px,#FBEEF0 0 70.98px,#ECA3AB 0 72.35px,#FEFCFC 0 73.71px,#EA949D 0 75.07px,#F8E1E4 0 76.44px,#F0BEC5 0 77.8px,#FAE8EA 0 79.17px,#EEB3BA 0 80.53px,#EFB9C0 0 81.9px,#EEB3BA 0 83.26px,#FBEEEF 0 84.63px,#F5F6FA 0 85.99px,#F1C2C8 0 87.36px,#FEFCFC 0 88.72px,#EDACB3 0 90.09px,#EDA8B0 0 91.45px,#BEC3E1 0 92.82px,#F4F5FA 0 94.18px,#AFB4DA 0 95.55px,#FDFDFE 0 96.91px,#FEFAFB 0 98.28px,#979DCD 0 99.64px,#EA98A1 0 101.01px,#F1F2F8 0 102.37px,#F2F3F9 0 103.74px,#FEF9FA 0 105.1px,#EFF0F7 0 106.47px,#D6D9EC 0 107.83px,#969CCD 0 109.2px,#E8EAF5 0 110.56px,#E1E3F1 0 111.92px,#DADCEE 0 113.29px,#BCC1E0 0 114.65px,#E5E7F3 0 116.02px,#E9EBF5 0 117.38px,#F7DCDF 0 118.75px,#CED1E9 0 120.11px,#E0E3F1 0 121.48px,#E4E6F3 0 122.84px,#B4B9DC 0 124.21px,#969BCD 0 125.57px,#F2F3F9 0 126.94px,#F9E5E8 0 128.3px,#FDF8F9 0 129.67px,#EDEEF7 0 131.03px,#AAAFD7 0 132.4px,#8A90C7 0 133.76px,#EBECF6 0 135.13px,#D2D6EB 0 136.49px,#AEB3D9 0 137.86px,#B0B5DA 0 139.22px,#FFFEFE 0 140.59px,#FCF2F4 0 141.95px,#E67A86 0 143.31px,#F4CFD4 0 144.68px,#E9EAF5 0 146.04px,#F8E0E3 0 147.41px,#D6D9EC 0 148.77px,#F9E5E7 0 150.14px,#838BC5 0 151.5px,#F8F9FC 0 152.87px,#FBECEE 0 154.23px,#D5D8EC 0 155.6px,#D1D5EA 0 156.96px,#FFFFFF 0 158.33px,#CDD1E8 0 159.69px,#EBECF6 0 161.06px,#F7DDE1 0 162.42px,#DCDEEF 0 163.79px,#EDADB4 0 165.15px,#C4C8E4 0 166.52px,#D0D3E9 0 167.88px,#F6DADE 0 169.25px,#FBF0F1 0 170.61px,#E9929B 0 171.97px,#FBFBFD 0 173.34px,#F5D3D7 0 174.7px,#E5E7F3 0 176.07px,#E1E3F1 0 177.43px,#FBEEF0 0 178.8px,#F5F5FA 0 180.16px,#F8E3E6 0 181.53px,#FCF3F4 0 182.89px,#F3CCD2 0 184.26px,#E6E8F3 0 185.62px,#CCCFE8 0 186.99px,#F5D3D7 0 188.35px,#C5C9E4 0 189.72px,#EFB4BB 0 191.08px,#F4D0D5 0 192.45px,#F2CACF 0 193.81px,#C9CDE6 0 195.18px,#D2D6EB 0 196.54px,#FBECEE 0 197.91px,#F0C1C7 0 199.27px,#FDF6F7 0 200.64px,#E9EBF5 0 202px)"></div>
</div>
</body></html>
